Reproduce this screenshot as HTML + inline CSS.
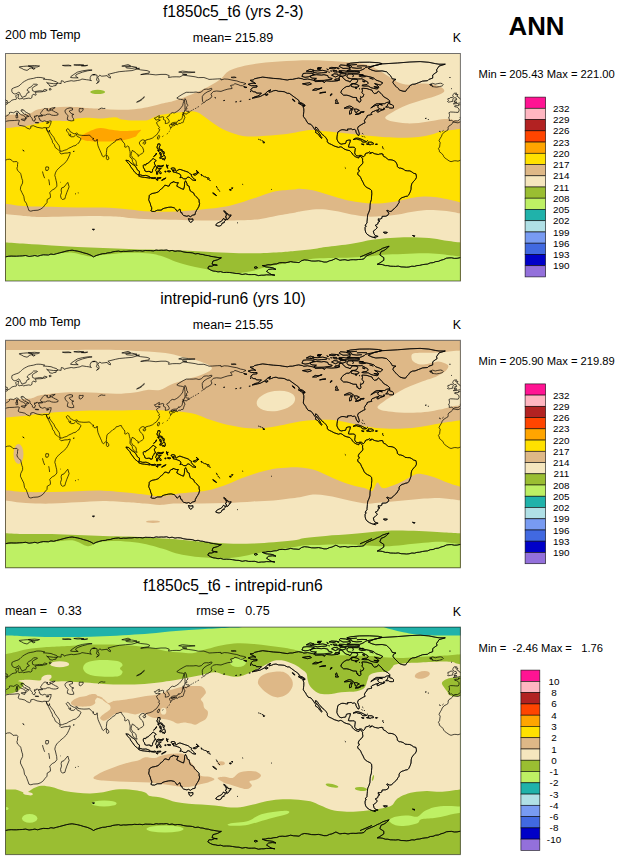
<!DOCTYPE html>
<html><head><meta charset="utf-8"><title>ANN 200 mb Temp</title>
<style>html,body{margin:0;padding:0;background:#fff}body{width:620px;height:861px;overflow:hidden}</style></head>
<body>
<svg width="620" height="861" viewBox="0 0 620 861" style="display:block">
<rect width="620" height="861" fill="#fff"/>
<defs>
<clipPath id="c0"><rect x="5.5" y="53.5" width="455" height="227.5"/></clipPath>
<clipPath id="c1"><rect x="5.5" y="340.3" width="455" height="227.5"/></clipPath>
<clipPath id="c2"><rect x="5.5" y="627.1" width="455" height="227.5"/></clipPath>
</defs>
<g clip-path="url(#c0)">
<rect x="5.5" y="53.5" width="455" height="227.5" fill="#F5E6BE"/>
<path d="M5.5 114.8C6.7 114.8 9.5 114.7 12.9 114.5C16.3 114.3 22.8 114.2 25.8 113.9C28.8 113.7 29.4 113.6 31 113C32.6 112.4 33.6 111 35.5 110.3C37.4 109.6 39.5 109.1 42.6 108.6C45.7 108.1 50.1 107.7 54.2 107.4C58.3 107.1 62.8 106.8 67.1 106.8C71.4 106.8 76.8 107.1 80 107.3C83.2 107.5 82.4 107.8 86.1 108.1C89.8 108.4 96.9 108.6 102.3 108.9C107.7 109.2 113 109.7 118.4 109.7C123.8 109.8 129.7 109.6 134.5 109.2C139.3 108.8 143.1 108.2 147.4 107.3C151.7 106.4 155.6 105.2 160.3 104C165 102.8 168.9 102.6 175.8 100.3C182.7 98 194.3 93.4 201.6 90C208.9 86.6 215.4 82.7 219.7 79.7C224 76.7 224.4 73.9 227.4 71.9C230.4 69.9 233.4 68.8 237.7 67.5C242 66.2 246.3 65.2 253.2 64.2C260.1 63.2 269.5 62.2 279 61.6C288.5 61 300.1 60.3 310 60.3C319.9 60.3 329.6 61 338.7 61.6C347.8 62.2 358.1 62.9 364.5 64.2C370.9 65.5 373.5 67.5 377.4 69.4C381.3 71.3 384.3 73.7 387.7 75.8C391.1 77.9 394.6 80.8 398 82.3C401.4 83.8 404.5 84.6 408.4 84.8C412.3 85 417 83.5 421.3 83.5C425.6 83.5 430.6 83.9 434.2 84.8C437.8 85.7 441.7 87.4 443.2 88.7C444.7 90 444.7 91.3 443.2 92.6C441.7 93.9 437.8 95.2 434.2 96.5C430.6 97.8 426 98.8 421.3 100.3C416.6 101.8 410.5 103.6 405.8 105.5C401.1 107.4 396.3 109.9 392.9 111.9C389.5 113.9 385.2 116.1 385.2 117.7C385.2 119.3 389.5 120.7 392.9 121.6C396.3 122.5 401.5 123.1 405.8 123.3C410.1 123.5 414.4 123.3 418.7 122.9C423 122.5 427.3 121.7 431.6 121C435.9 120.3 441.1 119.2 444.5 119C447.9 118.8 449.6 119.4 452.3 119.7C455 120 459.1 120.8 460.5 121L460.5 281 L5.5 281 Z" fill="#DEB887"/>
<path d="M5.5 128C6.7 127.9 9.5 127.7 12.9 127.4C16.3 127.1 21.9 126.7 25.8 126.1C29.7 125.5 33.3 124.4 36.1 123.8C38.9 123.2 40.5 122.8 42.6 122.3C44.8 121.8 46.4 121.3 49 121C51.6 120.7 54.5 120.7 58 120.7C61.5 120.7 66.9 121.4 70 121C73.1 120.6 73.3 119 76.5 118.5C79.7 118 85.1 117.7 89.4 117.7C93.7 117.7 98 118.6 102.3 118.5C106.6 118.4 112 117.1 115.2 117.3C118.4 117.5 118.4 118.9 121.6 119.4C124.8 119.9 130.2 120.4 134.5 120.5C138.8 120.6 144.2 120.7 147.4 120.2C150.6 119.7 151.3 118.2 153.9 117.3C156.5 116.3 158 115.4 162.9 114.5C167.8 113.6 177.9 112.3 183.5 111.9C189.1 111.5 192.6 110.8 196.5 111.9C200.4 113 202.9 115.8 206.8 118.4C210.7 121 215 124.8 219.7 127.4C224.4 130 230.5 132.4 235.2 133.9C239.9 135.4 242.9 136.2 248 136.5C253.1 136.8 259.5 136.1 266 135.7C272.5 135.3 279.5 134.8 286.8 133.9C294.1 133 303.5 130.4 310 130C316.5 129.6 318.9 130.7 325.8 131.3C332.7 132 343 133 351.6 133.9C360.2 134.8 370.5 135.9 377.4 136.5C384.3 137.1 388.2 137.3 392.9 137.5C397.6 137.7 401.5 137.8 405.8 137.7C410.1 137.6 414.4 137.6 418.7 137.1C423 136.6 427.7 135.5 431.6 134.5C435.5 133.5 438.4 132.1 441.9 131.3C445.3 130.6 449.2 130.4 452.3 130C455.4 129.6 459.1 128.9 460.5 128.7L460.5 281 L5.5 281 Z" fill="#FFE100"/>
<path d="M5.5 203.7C8.9 204.1 18.1 205.8 25.8 206.3C33.5 206.8 43 206.6 51.6 206.8C60.2 207 68.8 207.5 77.4 207.6C86 207.7 94.6 207.3 103.2 207.6C111.8 207.9 121.2 208.8 129 209.4C136.8 210.1 142.2 211.2 150 211.5C157.8 211.8 167.2 211.8 175.8 211.5C184.4 211.2 193 210.3 201.6 209.4C210.2 208.5 218.8 208.1 227.4 206.3C236 204.5 246.8 200.6 253.2 198.5C259.6 196.4 261.8 195.2 266.1 193.9C270.4 192.6 274.3 191.5 279 190.8C283.7 190.1 291 189.8 294.5 189.5C298 189.2 296.9 188.6 300 188.7C303.1 188.8 308.6 189.4 312.9 190.3C317.2 191.2 321.5 192.6 325.8 193.9C330.1 195.2 334.4 196.8 338.7 198C343 199.2 346.9 200.2 351.6 201.1C356.3 202 361.9 202.8 367.1 203.2C372.3 203.5 377.4 203.5 382.6 203.2C387.8 202.8 393.4 202 398.1 201.1C402.8 200.2 406.7 198.8 411 198C415.3 197.2 419.6 196.6 423.9 196.5C428.2 196.4 432.5 196.8 436.8 197.3C441.1 197.9 445.8 199 449.7 199.8C453.6 200.7 458.7 202 460.5 202.4L460.5 281 L5.5 281 Z" fill="#DEB887"/>
<path d="M5.5 214C8.9 214.3 20.3 215.6 25.8 216.1C31.3 216.6 32.2 217 38.7 217.1C45.2 217.2 55.9 216.8 64.5 216.6C73.1 216.4 81.7 216.1 90.3 216.1C98.9 216.1 109.6 216.3 116.1 216.6C122.5 216.9 123.3 217.5 129 217.9C134.7 218.3 142.2 218.9 150 219.2C157.8 219.5 167.2 219.5 175.8 219.7C184.4 219.9 193 220.4 201.6 220.5C210.2 220.6 218.8 220.6 227.4 220.5C236 220.4 246.8 220.1 253.2 219.7C259.6 219.3 261.8 218.6 266.1 217.9C270.4 217.2 274.3 216.2 279 215.3C283.7 214.4 291 213.3 294.5 212.7C298 212.1 296.9 212.1 300 211.5C303.1 210.9 308.6 209.8 312.9 209.4C317.2 209.1 321.5 209.1 325.8 209.4C330.1 209.8 334.4 210.7 338.7 211.5C343 212.3 346.9 213.7 351.6 214.5C356.3 215.3 361.9 216.3 367.1 216.6C372.3 216.9 377.4 216.4 382.6 216.1C387.8 215.8 393.4 215.2 398.1 214.5C402.8 213.8 406.7 212.7 411 212C415.3 211.3 419.6 210.5 423.9 210.2C428.2 209.9 432.5 210 436.8 210.2C441.1 210.4 445.8 210.9 449.7 211.5C453.6 212.1 458.7 213.2 460.5 213.5L460.5 281 L5.5 281 Z" fill="#F5E6BE"/>
<path d="M5.5 242.4C8.9 242.6 18.1 243.2 25.8 243.7C33.5 244.2 43 244.9 51.6 245.5C60.2 246.1 68.8 246.7 77.4 247.1C86 247.5 94.6 247.8 103.2 248.1C111.8 248.4 121.2 248.7 129 248.9C136.8 249.2 142.2 249.4 150 249.6C157.8 249.8 167.2 249.9 175.8 250.2C184.4 250.5 193 251.1 201.6 251.5C210.2 251.9 218.8 252.4 227.4 252.7C236 253 244.6 253.4 253.2 253.3C261.8 253.2 272.1 252.6 279 252.2C285.9 251.8 289.3 251.3 294.5 250.9C299.7 250.5 304.8 250.2 310 249.6C315.2 249 318.9 248.1 325.8 247.1C332.7 246.1 343.9 244.9 351.6 243.7C359.4 242.5 365.9 240.8 372.3 239.8C378.8 238.9 384.3 238.4 390.3 238C396.3 237.6 401.9 237.3 408.4 237.3C414.8 237.3 423 237.5 429 238C435 238.5 439.2 239.7 444.5 240.4C449.8 241.1 457.8 242.1 460.5 242.4L460.5 281 L5.5 281 Z" fill="#9ABE32"/>
<path d="M5.5 256.6C8.9 256.4 18.1 255.7 25.8 255.3C33.5 254.9 43.9 254.4 51.6 254C59.4 253.6 65.8 252.3 72.3 252.7C78.8 253.1 85.1 256.2 90.3 256.6C95.5 257 96.8 255.5 103.2 254.8C109.7 254.2 121.2 252.9 129 252.7C136.8 252.5 144.3 252.8 150 253.5C155.7 254.2 158.6 255.2 162.9 256.6C167.2 258 171.5 260.3 175.8 261.8C180.1 263.3 184.4 264.5 188.7 265.6C193 266.7 197.3 267.3 201.6 268.2C205.9 269.1 210.2 270.1 214.5 270.8C218.8 271.5 223.1 271.8 227.4 272.1C231.7 272.5 236 273.1 240.3 272.9C244.6 272.7 248.9 271.8 253.2 270.8C257.5 269.8 261.8 268 266.1 266.9C270.4 265.8 274.3 265.2 279 264.4C283.7 263.5 290.2 262.5 294.5 261.8C298.8 261.1 301.5 260.6 305 260C308.5 259.4 310.8 258.8 315.5 258.4C320.2 258 327.5 258.1 333.5 257.9C339.5 257.7 346 257.6 351.6 257.4C357.2 257.2 361.9 257 367.1 256.6C372.3 256.2 376.6 255.2 382.6 254.8C388.6 254.4 396.3 254.2 403.2 254C410.1 253.8 417.9 253.3 423.9 253.3C429.9 253.3 435.1 253.7 439.4 254C443.7 254.3 446.2 254.9 449.7 255.3C453.2 255.7 458.7 256.4 460.5 256.6L460.5 281 L5.5 281 Z" fill="#BEF064"/>
<path d="M80.5 137.1C81.3 135.4 87.7 132.1 91 130.6C94.3 129.1 97.1 128 100.6 127.9C104.1 127.8 108.1 129.3 111.9 129.8C115.7 130.3 119.4 131 123.2 131.1C127 131.2 131.5 130.8 134.5 130.6C137.5 130.4 140.5 129.2 141 129.8C141.5 130.4 138.8 132.7 137.7 133.9C136.6 135.1 136.9 136 134.5 137.1C132.1 138.2 127.2 139.6 123.2 140.3C119.2 141 114.6 141.3 110.3 141.5C106 141.7 101.4 141.6 97.4 141.5C93.4 141.4 88.9 141.5 86.1 140.8C83.3 140.1 79.7 138.8 80.5 137.1Z" fill="#FFA500"/>
<ellipse cx="97.7" cy="91.9" rx="7.5" ry="2.1" fill="#9ABE32"/>
<path d="M453 122L458 122.9L460.5 121.7M5.5 121.7L6.8 121.1L9.3 120.7L14.3 120.5L18.1 120.1L19.4 120.5L18.8 122.4L18.1 124.3L19.4 125.3L21.9 125.7L24.8 126.4L27 128.1L29.5 129L30.8 128.1L30.8 126.2L33.3 125.7L37.1 127.3L42.2 128.2L44 127.6L46.3 127.8L46.6 129.3L47.8 131.9L48.5 133.1L50.4 136.9L52.3 140.7L52.5 142.5L54.2 144.5L55.4 147.7L57.3 148.9L59.2 150.8L60.2 151.5L59.8 152.7L61.1 154L64.9 153.1L67.4 153L70.2 152.3L70 154L68.7 157.1L67.4 159.7L66.2 161.6L63.6 164.1L62.8 164.7L59.8 167.2L58 169.1L56.7 170.4L55.4 172.9L54.8 175.5L55.4 177.4L56.1 180.5L56.7 183L56.9 186.2L54.8 188.7L52.3 190L49.7 192.5L50.4 195.1L50.4 197.6L47.2 199.5L47 202.6L44.7 205.2L43.4 207.1L40.9 209L38 210.2L33.3 210.5L30.8 211.2L28.9 210.6L28.2 208.3L27 205.2L26.4 203.3L24.5 200.7L23.8 196.3L21.9 192.5L20.4 189.4L20.7 186.8L22.6 183L22.6 180.5L21.9 178.6L21 174.8L20.7 173.6L19.4 172.1L17.5 170.4L16.9 168.1L17.5 166.6L17.5 164.7L17.9 162.8L16.9 161.6L16.2 161.6L14.3 161.7L13.1 161.8L11.8 160.3L9.9 159.2L7.4 159.4L5.5 160.2L5.5 160.2M460.5 160.2L458 161.2L456.1 160.8L454.2 160.8L451 161.7L449.1 160.9L446.8 159.3L444.7 157.8L443.7 156.5L443.2 155.2L441.5 153.3L439.4 151.7L439.3 150.2L438.4 148.7L439.6 147L439.9 144.5L440.2 142.6L439 140.7L440.3 138.2L441.5 136.3L442.2 134.4L444.1 132.2L446.6 130.8L447.9 130L448.2 128.7L448.1 127.4L449.1 125.9L451 124.8L452.3 123.6L453 122M67.8 182.4L69.1 186.8L68.1 189.4L66.8 192.5L65.5 196.3L64.9 198.8L62.4 199.5L61.1 198.2L60.5 195.7L61.5 192.5L61.1 190L61.7 187.9L64 187.1L66.2 184.3L67.8 182.4M45.9 166.9L48.5 167L48.7 168.5L47.8 170.4L45.9 170.4L45.6 168.5L45.9 166.9M42.5 171.5L43 173.6L43.8 176.1L44.7 178.2M48.7 179.4L49.2 181.8L49.6 185.2M453.7 121.6L452.5 121.1L451.7 120.2L450.5 120.5L449.1 120.5L449.4 119.3L449.4 118.7L448.5 118.2L449.3 116.7L449.5 115.4L449.4 114.2L448.9 112.8L450.4 112L453.2 112.1L455.7 112.3L458.2 112.4L459 110.8L459 109.1L457.7 107.6L456.7 107.1L454.8 106.7L454.4 106.1L456.1 105.6L458 105.8L458.5 105.7L458.5 104.4L459.1 104.8L460.5 104.7M5.5 104.7L5.6 104.7L7.4 103.9L7.5 102.9L9.3 102.4L10.6 101.5L11.6 100.3L13.1 99.8L14.3 99.5L16.2 99.3L16.6 98.4L16 97.1L15.7 95.8L16.4 95.1L18.8 94.3L18.5 95.8L18.1 97.1L17.9 98L19.1 99L20.7 98.7L22.6 98.5L23.6 99.1L25.7 98.6L28.9 98.1L30.5 98.5L32 97.5L32 95.8L32.7 94.7L33.9 94.3L35.2 95.2L35.8 95.2L36.2 93.9L35.2 93.1L35.2 92.4L37.1 92L40.9 91.9L43.4 91.5L42.2 91L39.6 90.8L37.1 91.2L34.6 91.5L32.7 90.8L32.4 89.5L32.3 88.3L33.3 87L35.8 85.7L37.5 84.7L36.5 84.2L33.6 84.2L32.4 85.3L31.4 86.7L28.9 87.9L27.4 89.3L27.2 90.5L28.9 91.4L29.3 92.3L27 93.2L26.4 94.6L25.7 96.2L23.8 96.5L23.4 97.2L21.9 97.2L21.4 96.2L20.4 94.6L19.7 92.9L18.9 92L17.9 92.7L15.9 93.8L14.3 93.9L12.6 92.9L11.8 91.4L11.8 89.9L11.9 88.9L13.7 87.9L16.2 87L18.1 86.4L20 85.1L21.3 83.8L22.6 82.6L24.5 81.3L26.4 80.3L28.2 79.4L30.8 78.8L33.3 78.4L36.5 77.5L38.1 77.4L40.9 77.5L44.7 78.3L43.4 79.2L47.2 79.5L51 79.9L53.5 80.9L56.7 81.9L57.7 82.9L56.1 83.7L53.5 83.7L49.7 83.2L47.2 82.9L46.6 82.4L49.1 84.5L49.7 86L52.3 86.5L53.5 85.9L56.1 85.5L56.1 84.1L58.6 83.2L61.1 83.6L61.1 82.2L61.4 80.7L63.6 81.3L64.3 82.6L66.2 81.7L71.2 80.7L73.8 81.1L77.5 80.5L80.1 80L82 79L86.4 79.7L88.9 80L91.4 80.7L90.2 79.4L90.2 77.5L91.4 75.2L94 74.6L97.1 75.2L97.1 77.5L96.5 80L98.4 81.9L96.5 83.5L99 81.9L99 80L97.8 77.5L99.7 75.2L101.6 76.2L104.1 76L107.2 75.6L107.9 76.9L110.4 78.1L110.4 76.5L107.9 74.4L115.5 72.5L119.2 71.7L125.6 71.1L131.9 70.6L137.3 69L140.7 69.9L147.1 70.6L149.6 71.6L149 73.1L144.5 73.7L140.7 74.6L147.1 74.1L149.6 74.2L155.9 74.9L161 74.4L166 74.4L169.2 75.6L168.5 77.5L172.3 76.9L176.1 76.8L179.9 76.9L182.4 75.6L183.7 75.2L188.8 75.9L195.1 76.8L198.2 77.6L203.9 77.5L207.7 78.8L209 79.4L212.8 79.2L217.8 78.9L221 78.8L221 80L224.2 79L227.9 79.2L233 80.3L236.8 80.9L240.6 82.3L243.7 82.8L246 83.7L243.7 84.7L242.5 85.7L240.6 85.7L238.1 84.6L234.9 83.6L233.6 84.8L230.5 85.5L231.7 87.4L232.1 88.5L227.9 89.1L224.2 90.2L221 91.4L216.6 91L213.4 91.5L212.1 92.9L210.9 94.1L211.9 96.2L210.9 98L207.7 100L206.1 100.4L204.8 102.2L203.6 102.9L202.7 101.5L202.3 99L202.3 96.5L203.9 94.2L207.1 92L210 90.8L212.1 89.3L211.5 88.3L208.4 89.3L206.5 89.1L203.9 89.4L201.4 92L198.9 92.7L196.1 92L193.2 92.3L189.4 92.3L186.2 92.3L183.1 93.9L179.9 95.8L176.8 98L178.7 99L180.5 99.3L182.4 99.6L184.1 100.3L183.7 101.5L183.1 103.4L182.8 105.3L181.2 107.5L179.3 109.7L176.8 111.6L174.2 113L172.3 112.6L170.8 113.5L169.6 114.8L169.2 115.8L167.3 116.7L166.6 117.6L167.9 118.6L169 120.5L169.2 122L168.5 122.9L166.6 123.4L165.3 123.6L165.4 122L165.4 120.5L163.5 119.5L163.5 118.3L163.9 117.3L162.7 116.7L160.3 117.3L158.7 118.2L159.4 116.3L159.4 115.6L157.2 116.7L155.9 117.7L154.4 118L155.3 119.2L155.9 120.1L157.8 119.6L160.3 120.1L158.4 121.1L156.5 122.6L157.2 124.3L158.4 126.2L159.6 127.4L158.4 128.7L159.7 129.5L159.1 131.2L157.8 133.1L156.5 135L154.6 136.3L152.7 137.9L149.8 139.1L148.3 139.4L145.8 140.1L145.2 141.6L144.3 140.1L142.6 139.8L140.7 140.7L139.2 142.9L140.1 144.8L141.4 146.4L142.6 147.3L143.6 150.2L143.6 152.1L142 153.6L140.7 154.2L139.5 155.2L138 156.4L138.2 154.6L136.9 154L135.7 153.1L134.8 151.8L133.2 151.2L132.5 150.2L131.9 151.5L131.3 153.3L131 155.5L131.9 156.5L132.5 158.1L134.2 159L135.7 160.3L136.3 162.2L136.3 164.1L137.2 165.5L136.2 165.5L133.8 163.8L132.5 161.6L132.3 159.7L131.3 158.1L130 157.1L130 155.2L130.2 153.3L130 151.5L129.4 149.6L128.9 146.8L127.5 146L125.9 147.3L124.7 147L124.9 145.1L124.3 143.2L123 142L121.8 140.1L121.4 138.8L119.9 138.8L118 139.7L116.1 139.9L115.5 141.1L114.8 142L112.9 142.9L111.7 144.1L109.5 145.9L108.1 147L107 148L106.7 150.2L106.4 152.7L106.4 154.2L105.3 155.5L104.3 156L103.5 157L102.2 155.9L101.6 154L100.7 152.1L99.9 150.2L99 148.3L98 145.8L97.5 143.2L97.4 141.3L97.3 140.1L97.1 139.2L96.5 140.7L95.2 141L94 140.7L92.7 139.1L94 138.6L92.7 138.2L91.7 137.3L90.6 136.3L89.9 135.9L89.5 135.1L87 135.4L83.9 135.5L81.3 135.3L78.2 134.9L77.5 133.4L76.7 133L74.8 133.8L73.1 133.4L71.9 132.5L70.3 131.9L69.7 130.6L68.7 129.2L67.4 128.8L66.8 129.3L66.2 130L67.1 131.5L68.1 132.7L68.9 133.8L68.9 135L69.7 135.9L70 134.5L70.6 134.3L70.7 135.7L70.3 136.3L71.2 136.8L73.8 136.7L75.4 135.3L76.7 134L76.8 135.7L77.3 136.5L79.4 137.4L81.1 138.8L79.7 141.3L78.6 143.2L77.9 143.4L76.7 144.6L75 145.8L73.8 145.8L71.5 147L68.7 148.3L66.8 149.6L64.3 150.3L62.4 151.1L60.5 151.3L59.8 149.6L59.6 147.7L59.2 145.8L57.3 143.2L55 140.1L53.9 137.5L52.5 135.7L51 133.8L49.7 131.9L49.5 130L48.9 132.1L47.2 130.8L46.7 129.3L46.3 127.8L48.7 127.7L49.6 126.2L49.9 125.5L50.4 124.4L50.9 123L51 121.8L51.3 121L49.7 120.9L48.5 121.4L46.6 121.6L44.3 120.7L42.8 121.5L41.1 120.9L40 120.5L39.9 119.2L39 118.8L39.4 118L38.6 117.3L38.6 116.6L39.6 116.2L42.2 116.1L42.8 115.7L42.2 115.3L41.5 115.4L40.3 115.6L39.4 115.9L38.6 116.3L38.4 115.8L37.7 115.6L35.8 115.7L36.3 116.4L35.6 116.7L34.4 116.1L34.6 118L35.8 119L35.2 119.2L34.8 119.9L34.6 121.1L33.9 121.1L32.9 120.7L32.4 120.2L32.4 118.8L32 118.2L30.8 117.1L30 116.1L30 114.4L28.2 113.4L26.2 112.3L24.7 111.4L23.8 110L22.7 110.4L22.7 109.5L21 110L21.3 111.4L22.6 112.1L23.2 113.3L24.5 114.2L26 114.3L25.7 114.8L27 115.4L28.8 116.2L28.9 116.7L27 116.1L26.5 117.1L27.1 118L26.4 118.7L25.3 119.2L25.7 118L25.2 116.7L23.6 115.7L22.9 115.2L21.3 114.8L20.4 114.2L18.8 113L18.4 111.8L16.7 111.1L15 111.9L13.7 112.8L12.3 112.5L10.6 112.3L9.3 112.6L9.5 113.8L8.3 114.9L6.5 115.8L5.5 116.9M460.5 116.9L460.1 117.3L460.5 117.9M5.5 117.9L5.8 118.3L5.5 118.6M460.5 118.6L459.6 119.7L457.7 120.9L454.9 120.9L453.7 121.6M42.2 115.2L43.4 115.2L45.3 115.2L47.2 114.2L49.7 114.2L51.6 115.1L53.5 115.4L55.7 115.4L58 114.8L58.1 113.9L57.3 112.9L55.7 112.3L53.5 111.1L52.3 110.6L51.9 110L52.9 109.1L54.2 108.2L55.2 107.6L53.5 107.7L51.6 108.2L49.7 108.9L49.7 109.5L51.5 109.9L50.2 110.4L49.1 110.9L47.8 111L47.7 110.1L46.6 109.9L48 109L45.9 108.7L45.3 108.4L44.3 108.5L43.2 109.7L42.2 110.8L41.6 111.9L40.9 112.6L40.5 113.5L41.1 114.5L42.2 115.2M67.4 108.5L65.5 109.7L64.9 111L65.5 112.9L66.8 114.4L68.1 115.9L67.4 118L67.4 119.7L69.3 120.5L71.2 120.9L73.8 120.6L73.5 118.6L72.5 117.3L72.2 116.1L72.2 114.8L73.8 114.4L71.9 113.8L70 112.3L69.3 111L70.6 110.4L72.5 110L72.5 108.2L70 107.8L67.4 108.5M79.4 108.5L81.3 108.7L83.2 108.5L83 110.1L81.7 111.6L80.1 112.3L79.2 111.6L79.2 109.7L79.4 108.5M136.6 102.2L138.2 101.8L140.1 100.9L142 99.6L143.9 97.7L144.3 96.7L143.3 97.4L141.4 99.4L139.5 100.5L137.6 101.5L136.6 102.2M98.4 110L99.7 108.7L101.6 108.1L103.5 108.5L105.3 108.4M44 91.4L45.9 91L47.2 90.2L44.7 89.4L43.4 90.2L44 91.4M49.7 90.2L51.3 89.4L50.4 88.3L49.1 88.9L49.7 90.2M453.3 103.9L456.1 103.7L458.6 103.2L460.5 102.9M5.5 102.9L7.1 102.7L7.4 100.8L5.9 100.3L5.5 99.5L5.5 99.5M460.5 99.5L460.1 98.4L458.6 97.7L458 96.5L456.7 96.2L458 94.6L455.4 94.4L456.7 93.2L454.2 93.2L453.2 94.6L452.7 95.7L453.5 97.1L454.4 97.7L456.1 97.9L456.5 99L456.7 99.8L454.8 99.9L455.2 100.9L453.9 101.8L456.1 102.2L457 102.2L455.2 102.5L453.3 103.9M452.9 101.3L452.7 99.9L453.4 98.4L452.3 97.5L450.4 97.5L449.8 98.4L447.9 98.7L447.9 99.8L448.5 100.6L447.5 101.5L448.2 102.2L450.4 101.8L452.9 101.3M429.5 84.5L432.7 83.3L435.2 84.2L437.8 83.6L440.3 83.2L442.2 83.6L443.3 84.8L442.2 85.9L439.6 86.6L436.7 87.1L434.6 86.9L431.9 86.5L432.7 85.9L430.2 85.2L432.1 84.7L429.5 84.5M15.9 115.2L17.5 115.2L17.8 117.7L16.2 118L15.9 115.2M16.4 113L17.5 112.9L17.4 114.9L16.6 114.7L16.4 113M21.3 119.2L25.2 119L24.7 120.9L21.3 119.7L21.3 119.2M35.2 122.4L38.7 122.6L38.6 123L35.3 122.8L35.2 122.4M46.3 123L49.1 122.3L48.5 123.1L46.7 123.4L46.3 123M19.4 66.8L23.2 66.4L27 66.1L30.8 66.4L32.7 67.8L29.5 68.3L28.9 69.3L27 70.4L23.8 69.6L21.9 68.4L19.4 67.4L19.4 66.8M28.2 65.9L34.6 65.5L39.6 66L37.1 67L30.8 66.8L28.2 65.9M32 68L35.2 68.4L33.3 69.4L32 68M70.6 77.5L73.1 77.8L78.2 77.9L75.6 76.2L76.3 74.6L78.8 73.5L82.6 72.1L87.7 70.8L92.1 70.1L88.9 69.9L82.6 70.8L77.5 72.1L75 73.7L73.1 75L71.2 76.2L70.6 77.5M62.4 65.4L68.7 65.1L71.2 65.8L64.9 65.9L62.4 65.4M73.8 64.9L78.8 64.5L83.9 65.1L77.5 65.5L73.8 64.9M81.3 65.8L87.7 65.3L85.1 66L81.3 65.8M125.6 67.1L131.9 66.4L136.9 67.4L131.9 68.4L126.8 68L125.6 67.1M121.8 66.1L128.1 64.6L130.6 65.8L124.3 66.4L121.8 66.1M135.7 68.3L139.5 68.3L137.6 68.9L135.7 68.3M178.7 72.1L182.4 71.1L188.8 71.8L195.1 72.2L190 72.7L182.4 72.7L178.7 72.1M182.4 74L186.9 74.5L183.7 74.7L182.4 74M231.1 77.3L234.3 76.9L236.2 77.5L233 77.8L231.1 77.3M92.7 74.6L95.2 74.4L94 75L92.7 74.6M185 98.6L186.2 100.3L186.6 102.2L186.9 104.1L188.1 105.3L186.2 107.2L186.9 108.2L186.9 109.1L185 109.1L185 107.2L185 104.7L184.7 102.8L184.6 100.9L185 98.6M184.8 109.7L186.9 111.3L189.1 111.3L189.4 112.5L187.5 112.9L186.6 114.2L184.3 113.5L182.8 113.8L182.4 114.8L183.7 114.4L182.8 112.6L184.1 112.5L184.6 111L184.8 109.7M184.1 114.9L184.3 116.1L185 117.3L184.3 118.8L183.7 120.5L183.3 121.8L183.5 122.1L182.4 122.8L182.2 123L181.9 122.4L181.2 123L180.8 123.4L180.2 123.4L178.7 123.4L178.4 123.8L177.4 124.9L176.1 124.3L176.5 123.4L174.9 123.5L173 123.9L171.1 124.3L171.1 123.6L172.3 122.8L173.8 122.4L175.5 122.3L177.1 122.3L177.4 121.4L178.3 120.5L179 119.9L178.7 120.7L180.5 120L181.7 118.8L182.4 117.3L182.4 116.1L182.8 115.3L184.1 114.9M171.1 124.4L172 124.9L172.3 125.8L171.7 127.4L170.7 128.1L170.1 126.8L169.6 125.9L169.6 124.9L170.4 124.5L171.1 124.4M173 124.3L175.1 123.9L175.7 124.5L175.1 125.2L173.6 125.8L172.7 125.2L173 124.3M190.4 111.3L191.7 110.5M192.6 110L193.8 109.2M195.1 108.7L196.3 108M197.6 107.2L198.9 106.5M201.4 104.2L202.7 103.4M166.8 134.1L167.8 133.4M168.7 131.9L169.7 131.1M169.9 129.3L170.9 128.6M162.3 136.7L163.4 135.9M159.1 135.3L159.7 136.3L158.8 138.6L158.2 139.4L157.3 138.2L157.8 136.5L159.1 135.3M144.5 142L145.8 142.5L145.2 143.9L143.9 144.2L142.9 143.2L143.5 142.2L144.5 142M106.6 154.9L108.1 156.5L108.9 158.1L108.5 159.3L107.2 159.8L106.4 158.7L106.4 157.1L106.6 154.9M157.9 143.9L159.9 143.9L160.1 145.8L159.2 147L159.3 148.5L160.7 149.3L162.2 149.8L162.3 151.3L161 150.8L160.3 149.8L158.8 150.1L157.9 149.3L158.3 148.8L157.2 148.3L156.9 146.6L157.5 146.3L157.7 145.1L157.9 143.9M164.1 154.9L165.1 156.5L165.4 158.4L165 159.3L164.1 160.2L163.9 159L164.2 158.4L162.5 159.4L162 157.8L159.9 158.4L159.9 157.1L161.6 156.4L162.9 156.5L163.5 155.9L164.1 154.9M162.6 151.5L163.9 151.5L164.4 153.2L163.5 154.4L163.1 153L162.6 151.5M159.7 152.3L161 152.7L161.2 154L161.3 155.5L160.3 155.2L160.5 154L159.7 154L159.7 152.3M153.6 156.5L155.3 155.1L156.5 153L156.3 154.2L154.6 156L153.6 156.5M157.7 150.3L158.9 150.4L158.8 151.7L158.2 151.2L157.7 150.3M143.3 165.4L143.9 164.7L145.8 165.1L146.2 163.8L148.3 163.2L149.6 161.6L150.8 160.9L152.1 159.3L153.1 158.4L154.3 159.3L156.2 160.6L155.3 161.6L154.3 162.2L154.6 164.1L155.9 166L154.4 166.2L154 167.9L152.7 169.1L152.5 171L152.1 172.3L150.3 172.4L150.2 171.5L148.3 171.4L146.8 171.7L144.9 171L144.5 169.1L143.5 167.9L143.3 166.6L143.3 165.4M125.9 160.2L128.7 160.7L130.2 162.4L132.3 164.1L133.8 165L135.7 166.6L136.7 168.5L137.6 170.2L139.5 171.4L139.2 174.6L137.6 174.6L134.8 172.3L132.5 169.1L130.6 166.6L130 165L128.1 163.1L126.6 161.2L125.9 160.2M138.5 175.8L140.1 174.8L142.6 175.5L145.2 175.5L145.8 175.3L147.9 176L150.1 177L150.2 178.2L147.1 177.7L144.5 177.4L142 177.1L140.1 176.6L138.5 175.8M150.8 177.6L151.7 177.7L151.5 178.4L150.8 178L150.8 177.6M152.1 177.7L153 177.9L152.7 178.5L152.1 178.4L152.1 177.7M153.1 177.9L154.6 177.5L155.9 177.9L155.3 178.4L153.4 178.6L153.1 177.9M156.9 177.9L158.4 177.7L161 177.6L160.7 178.2L158.4 178.5L156.9 178.4L156.9 177.9M155.9 179.3L158.2 179.8L157.4 180.3L155.9 179.3M161.6 180.3L163.5 178.9L166 177.9L165.4 178.6L163.5 179.6L162.2 180.3L161.6 180.3M156.9 166.2L158.2 165.6L161 166.1L163.5 165.2L162.6 166.7L161 166.7L158.4 166.6L157.2 167.9L158.4 168.5L161.3 168.4L159.4 169.7L158.8 169.8L160.1 171.4L161 172.3L161 173.9L159.7 173.3L159.1 172.3L158.2 170.7L157.5 172.3L157.7 174.2L156.5 174.2L156.5 171.7L155.6 170.7L156.3 168.9L156.9 166.2M166.6 164.7L167.3 166L168.2 165.4L167.3 166.9L167.9 168.3L167 167.6L166.6 166.2L166.6 164.7M167.3 171L169.2 170.8L170.8 171.4L169.8 171.9L167.9 171.7L167.3 171M164.8 171.3L166 171.3L165.8 172.1L164.9 171.9L164.8 171.3M171.1 168.3L173 167.8L174.9 168.3L175.5 170.4L176.1 171.4L178 170L179.9 169.3L183.3 170.5L185.6 171.3L188.1 172.1L189.8 173.6L191.9 174.8L191.3 175.8L192.6 177.4L194.5 179.3L196 180.3L194.8 180.5L192.6 180L191.5 179.3L190 177.7L188.1 177L186.9 177.7L186.2 178.9L183.7 178.8L181.8 177.4L179.9 177.7L180.9 176.1L180.5 174.8L179.9 174.1L177.4 173.1L174.9 172.2L173.6 172.3L173.3 171L172.3 170.8L174.5 170.2L172.6 169.9L171.1 169L171.1 168.3M193.2 174.3L195.1 173.8L197 172.7L197.9 172.6L197.6 173.6L195.7 175L193.8 175.1L193.2 174.3M196.1 170.5L197.6 171.4L198.9 173.2L198.2 172.3L197 171.3L196.1 170.5M201 174.2L202.4 175.5L201.8 175.8L201 174.2M203.2 176.1L204.7 176.9M205.1 176.7L206.6 177.5M206.6 177.5L208.1 178.2M207.2 178.9L208.7 179.6M209.1 179.9L210.6 180.6M208 177.7L209.5 178.5M216.3 186.1L216.8 187.1M216.9 187.3L217.5 188.4M218 189.1L218.5 190.1M219.2 190.5L219.7 191.5M212.8 192.8L214.7 193.8L216.6 195.6L215.3 195.1L213.4 193.8L212.8 192.8M229.6 189.4L231.1 189.5L231.1 190.3L229.7 190.1L229.6 189.4M231.5 188.1L233 187.9L232.4 188.5L231.5 188.1M263.3 141.7L264.6 142.2L263.8 143.2L263.3 142.5L263.3 141.7M262.2 140.8L263.2 141.2M260.3 139.9L261.3 140.3M258.4 139.3L259.4 139.6M149.2 195.7L149.8 194.8L152.1 193.5L155.4 192.9L158.4 191.9L159.9 190L161.6 188.7L162.9 187.7L164.8 185.2L167 185.6L167.9 186.2L169.2 186L169.8 184.3L170.8 182.9L173 182.4L173 181.5L176.1 182.7L178.4 182.7L177.4 184.3L176.8 186.2L178.7 187.2L181.2 188.5L183.5 189.4L184.3 186.8L184.6 184.3L184.5 183L185.2 181.2L185.6 180.8L186.9 183.4L187.2 185.3L189.1 186.2L189.4 188.1L190.3 191L191.3 191.6L193.6 192.9L194.5 195.1L196.1 196.7L198.2 198.6L199.1 199.9L199.1 202L199.6 203.5L198.9 206.4L197.6 208.7L196.6 210.2L195.3 212.8L195.1 214.6L192.6 215.2L190.4 216.7L188.5 215.7L186.9 216.3L183.7 215.5L182.1 214L181.8 212.5L180.5 212.2L180.5 211.2L179.9 209L178.7 210L177.4 211.2L176.9 211.2L175.5 209L174.2 207.8L171.1 207.1L168.5 207.3L164.8 208.1L162.2 209L161.6 210.1L157.2 210.2L154.6 211.5L152.1 211.4L150.8 210.6L151.7 209.3L151.7 207.7L150.8 205.8L150.3 203.6L149.6 202L149 200.7L148.7 199.5L149 198.2L149.2 197L149.2 195.7M188.4 218.7L190.7 219.2L192.9 218.9L192.9 220.6L191.9 221.8L190.7 222.4L189.4 221.5L189 220.3L188.4 218.7M223.8 210.7L225.8 211.9L226.4 213.8L227.7 213.6L227.9 214.8L229.8 215.2L231.1 214.9L230.5 216.5L229.2 216.9L229.2 217.8L227.9 219.4L226.9 219.8L226.4 219.4L226.8 218.2L226.4 217.6L225.2 216.9L226.2 216.3L226.3 214.6L225.7 213.3L224.2 211.7L223.8 210.7M223.8 218.4L224.3 219.4L225.8 219.3L225.7 220.1L225 220.8L223.9 222L224.3 222.6L222 223.2L221.6 224.5L221.2 225.3L219.7 226L218.2 226.1L215.9 225.4L215.9 224.5L217.8 222.9L219.7 222L221.4 221.3L222.3 220.1L223.1 218.8L223.8 218.4M92.5 229.2L94.4 229.4L93.3 230.1L92.5 229.2M22.7 150.1L24.2 151.1M262.7 77.1L268.4 77.8L273.4 78.4L279.8 78.8L282.3 79.3L287.3 80L289.9 79.4L292.4 79.4L296.2 78.5L298.7 78.1L302.5 78.8L303.8 79.5L307.6 79L312.6 80L315.2 80.9L315.2 81.6L321.5 81.4L324 81.7L324 82.8L325.3 81.6L326.5 80.9L331.6 81.3L336.6 80.9L337.9 80.7L339.2 79.4L339.2 76.9L341.1 76.2L343 77.5L344.2 79.2L346.1 80.5L349.3 81.3L349.9 82.2L352.4 79L356.9 79.2L357.7 80.7L356.9 82.6L355 83.5L351.8 83.6L350.5 84.7L349.3 86.4L346.8 86.4L344.2 87.9L341.7 90.2L340.8 92.7L343.6 95.2L346.8 95.2L349.3 95.8L353.1 97.4L356.5 97.5L356.9 100.3L358.1 101.5L360 102.2L360.9 100.9L360.7 99L360 98.1L363.2 96.5L363.8 94.6L361.9 92.7L362.5 90.8L361.9 88.4L363.2 88.3L367 88.6L369.5 89.5L372 90.2L372.7 92L374.6 93.6L377.1 92.9L378.3 91L380.9 93.3L382.1 94.6L383.4 96.5L385.9 98L387.8 99L389.7 100.9L389.7 101.9L386.6 102.5L384.7 103.7L379.6 103.8L376.5 103.8L373.9 105.3L372 107L370.8 108L373.3 106.6L375.8 105.3L379 105.3L377.7 106.6L378.3 107.8L379 108.7L380.2 109.1L382.1 109.4L383.4 109.7L384.7 109.1L384 107.8L383.4 109.6L380.2 110.9L377.7 112.3L376.8 111.1L378.3 110.1L379 109.7L375.8 110.4L373.9 111.3L372 112L371.1 113.3L372 114.4L370.1 114.9L368.2 115.3L367 115.9L367 117.3L365.7 118.2L365.1 119.5L364.4 120.5L364.8 122L365.1 122.8L363.6 123.4L361.9 124.4L360 125.5L358.1 126.8L357.6 128.7L358.6 131.2L359.3 133.8L358.9 135.4L357.9 135.3L357.1 134.1L356 132.1L355.8 130.3L354.3 129.3L352.7 129.7L351.2 128.8L349.3 129L347.4 129.1L347.8 130.3L346.1 130.3L344.2 129.8L341.9 129.7L340.4 130.3L337.9 131.9L337.4 134.4L337 136.9L336.9 139.1L337.9 141.3L339 143L341.1 144.2L343.6 143.7L345.5 143.5L346.1 142L346.4 140.7L348.6 140.1L350.5 140.1L349.9 142.6L349.3 143.9L348.9 145.1L348.4 147L349.9 147.3L352.4 147.2L354.3 147.3L355.3 148.3L355 150.8L354.7 152.7L355 154L356.2 155.5L358.1 156.1L359.6 155.4L361.3 155.4L362.7 156.3L363.2 157.1L365.1 155.2L365.1 154L366 153.3L368.2 152.8L369.5 151.8L370.4 152.5L369.8 153.7L370.3 153.5L372 152.7L372 152L372.7 152.7L374.2 153.6L375.8 154L378.3 154.5L379.6 154L382.1 153.7L382.8 154.9L383.7 156.5L385.3 157.1L387.2 158.7L388.5 159.7L391 159.8L392.9 160.2L394.8 161.2L396 162.2L397.3 165L397.3 166.6L399.2 168.1L400.5 168.1L403.6 169.1L404.9 170.5L407.4 170.8L409.9 170.9L411.8 171.9L413.7 173.3L415.9 173.8L416.4 176.1L416.4 177.5L415.4 179.5L413.7 181.2L411.8 183.7L411.2 186.2L411 189.4L410.2 191.9L408.8 194.8L407.4 196.2L405.9 196.3L403.6 197.2L402 197.6L399.8 199.2L399.1 200.7L399.1 202.6L397.9 204.2L396.7 206.4L394.8 207.9L392.9 210L391.1 211.4L389.5 211.4L387.2 210.2L386.7 211L388.2 212.1L388.8 213.4L387.8 215.3L385.9 216.2L382.1 216.4L381.8 218.4L379.9 219.2L378.3 218.8L378.3 220.6L380 221L378.3 222L377.7 224.1L375.2 225.4L377.1 226.9L377.1 227.9L375.2 229.8L373.3 231.1L373.9 233.4L373.9 233.7L375.2 235.5L378.1 236.4L376.5 236.9L373.9 237.1L375.4 237.9L372 237L369.5 235.9L367 234.2L365.7 232.3L365.1 229.8L365.1 227.3L366.3 226L365.1 225.4L367 222.9L367 221.6L367.2 220.1L367.4 217.8L367.6 215.3L368 214L368.9 212.1L369.9 209L370.1 205.2L370.4 202.6L371.4 199.5L371.5 197L371.8 193.8L371.6 190.5L370.1 189.1L367.6 187.9L365.5 186.6L364.1 184.7L363.1 182.4L361.7 179.9L360.7 177.6L359.5 175.8L357.9 174.8L357.7 172.9L359 171.5L359.4 170.4L358.3 170L358.4 168.5L359.4 166.6L360.7 165.7L360.9 165L362.5 163.8L362.9 162.3L362.5 160.3L362.7 158.8L362 158.1L361.3 156.8L360 156L359 156.9L358.8 158L357.5 157.6L355.8 156.9L355 156.5L353.3 154.9L352.2 154L352.1 153.1L350.5 151.5L349.8 150.7L348 150.3L346.1 149.8L344 148.9L341.9 147.2L340.4 146.8L338.5 147.4L336 146.6L334.2 146L331.6 144.6L329.4 143.6L327.8 142.6L327.2 141.3L327.4 140.1L326 137.9L324 135.7L322.1 134.4L320.8 132.5L318.7 130.6L317.7 128.7L317 127.7L315.4 127.1L315.5 128.7L317.7 131.2L319.6 133.8L320.8 136.3L322.1 137.9L321.5 138.3L319.6 136.5L318.7 134.6L317 133.4L315.2 132.1L316.2 131.2L315.2 130L313.9 128.3L312.5 126.2L310.9 124.3L308.2 123.6L306.4 121L305.7 119.5L304 117.3L303.3 116.2L303.5 114.2L303.8 111.6L303.8 108.9L302.9 106.1L305 106L305 105.1L302.5 103.4L299.4 102.2L298.7 100.3L296.2 98.4L294.3 97.1L291.8 95.2L289.2 93.3L287.3 93.3L284.2 91.7L281 91.4L278.5 91.3L276 90.4L273.4 90.8L271.5 91.7L269 92.3L269 90.8L270.9 89.9L268.4 90.8L266.5 92.3L265.2 93.9L262.7 95.2L260.2 96.5L257.6 97.1L255.1 97.7L252.2 98.2L255.1 96.7L257.6 96.1L260.2 94.6L261.4 93.1L259.5 93.1L256.4 93.1L255.8 92L253.2 91.7L251.3 90.2L250.7 89.4L252 88.3L253.2 87.4L257 87L257 85.7L254.5 85.7L251.3 85.7L248.2 84.3L250.7 83.5L253.2 83.2L255.8 83.6L253.9 82.3L251.3 81.1L250.1 80.3L253.2 80L254.5 78.8L258.3 77.9L262.7 77.1M248.9 99.5L250.4 99.3M239.8 101.4L241.3 101.1M235.4 101.9L236.9 101.7M223.4 100.6L224.9 100.4M265.2 94.6L267.8 93.9L267.8 94.8L265.9 95.5L265.2 94.6M243.7 86.7L246.9 87.4L245.6 87.6L243.7 86.7M250.1 91L251.1 91.4L250.1 91.7M214.7 97.5L215.9 98M368.2 68.4L374.6 65.5L382.1 63.9L397.3 63L409.9 62L420.1 61.6L428.9 62.3L435.2 63.6L439 64.2L445.3 64.2L439 66.1L437.8 68L436.5 69.9L437.1 71.8L435.2 73.1L432.7 75L432.7 76.2L432.7 78.1L428.9 79.4L427.6 80.7L422.6 81.1L418.8 82.6L415 84.1L412.5 84.3L409.9 85.7L408.7 87.6L406.8 89.5L405.5 91.4L403 91.2L399.8 90.2L397.9 88.3L396 86.4L394.1 84.5L392.9 82.6L393.5 80.7L396 79.4L392.2 78.8L391.6 77.5L390.4 75.6L388.5 73.7L386.6 71.8L382.1 70.9L375.8 71.2L372 70.2L370.1 69.3L368.2 68.4M382.8 82.9L380.9 81.9L379.6 81.3L375.8 80L373.9 78.1L370.1 76.9L365.7 76L361.9 75.1L358.8 74.1L353.1 74L348 74.1L346.8 76.2L348 78.1L351.8 78.8L353.7 78.8L356.9 79L360.7 78.9L361.9 78.8L365.7 80.9L367.6 81.9L368.2 83.2L367 84.5L362.5 85.1L361.9 85.7L364.4 86.1L368.2 86L370.8 87.6L373.3 88.3L377.1 89L378.3 88L373.9 86.7L379 87.2L377.1 85.1L374.6 83.6L378.3 84.5L380.2 85.1L382.8 82.9M313.9 79.9L317.7 80.5L324 80.4L327.8 79.8L331.6 79.4L332.2 78.5L328.4 77.5L327.8 75.6L324 74.7L321.5 75.1L316.4 74.7L312 75.2L310.1 76.9L312 78.1L316.4 78.4L313.9 79.9M301.9 76.4L305 77.3L308.2 76.9L311.4 75.6L314.5 74.4L312 73.3L306.9 73.1L303.1 73.5L302.5 75.2L301.9 76.4M312.6 72.2L317.7 73.2L321.5 72.8L326.5 72.5L327.2 71.4L322.7 70.3L317.7 70.9L313.9 70.7L312.6 72.2M331.6 75.2L335.4 77L338.5 75.6L337.9 74.2L334.1 73.8L331.6 75.2M339.8 76.1L343 76.2L346.1 75L346.1 73.8L340.4 73.7L339.8 75L339.8 76.1M334.7 80L337.9 80.5L339.8 80L338.5 78.9L335.4 79L334.7 80M344.2 72.8L349.3 73.1L356.9 73.1L359.4 72.7L359.4 71.7L354.3 71.4L348 71.6L344.2 70.8L339.2 70.6L339.2 71.8L344.2 72.8M346.8 70.7L353.1 70.7L359.4 70.8L361.9 69.9L364.4 68.7L365.7 67.4L370.8 66.4L377.1 65.1L382.1 63.6L378.3 62.7L369.5 62.2L359.4 62.3L350.5 63.2L346.8 64.2L350.5 65.5L351.8 66.8L349.3 68L350.5 69.3L346.8 70.7M339.2 66.4L343 68.4L348.6 68.3L349.9 66.8L345.5 65.4L340.4 64.9L339.2 66.4M329.1 68.3L334.1 68.9L336.6 67.7L331.6 67.4L329.1 68.3M334.1 71.8L337.3 72.2L336.6 70.6L332.8 70.6L334.1 71.8M306.3 71.2L311.4 71.6L313.9 70.2L310.1 69.3L306.3 71.2M351.2 86.4L354.3 87.2L358.1 87L359.1 85.7L356.9 84.5L353.7 83.8L351.2 84.5L351.2 86.4M359.4 75L363.2 74.7L363.2 75.5L359.4 75M385.6 107.1L387.2 106L387.8 104.1L389.7 102.2L389.7 104.1L392.2 104.7L393.5 106L393.5 107.8L392.2 108.1L389.7 108L388.5 107.1L385.6 107.1M379 104.2L382.1 104.8L382.4 105.2L379 104.2M298.3 103L302.5 104.1L304.4 106L303.8 106L301.2 104.9L298.3 103M292.4 99L294.3 100.3L294.9 101.5L293 100.3L292.4 99M338.5 72L341.7 71.7L342.3 72.6L339.2 72.6L338.5 72M336.9 67.9L339.2 68.2L338.5 68.9L336.9 67.9M317 68.8L320.8 68.8L319.6 69.6L317 68.8M317.7 67.8L321.5 67.7L320.8 68.3L317.7 67.8M326.8 69L328.4 69.7L327.8 69.9L326.8 69M328.4 72L329.7 72.3M362.5 81.1L365.1 81.4L364.4 82.1L362.5 81.1M355 87.8L356.9 87.9L356.5 88.5L355 87.8M359 88.4L360 89.3M357.1 100L358.4 100.5M360 96L360.7 96.6M356.9 66.1L361.9 65.8L367 66M351.8 67.7L356.9 68.3L361.9 67.9M346.8 65.3L351.8 64.9L356.9 64.5M352.4 74.1L353.4 75.6L352.7 77.1M358.8 76L361.9 76.9L365.7 76.6M369.5 78.1L372 78.8L373.3 79.4M310.1 71.3L312 71.8M330.3 70.8L332.2 71.2M344.2 108.2L346.8 106.8L349.3 106L351.8 106.6L353.3 108.1L351.2 108.5L349.3 107.8L346.1 108.2L344.2 108.2M349.5 114.2L351.4 113.5L351.4 111.6L352.4 109.4L350.5 109.7L349.5 111.6L349.5 114.2M353.7 109.1L356.9 109.1L359.4 110.4L357.5 111L356.5 112.8L355 111.9L355 110.4L353.7 109.1M355.2 114.5L358.1 114.4L360.7 113.2L358.8 113.4L356.2 114L355.2 114.5M359.8 112.5L363.8 112.3L364.1 111.5L360.7 111.9L359.8 112.5M302.5 83.8L307.6 85.1L311.4 84.1L310.1 82.7L306.3 83.2L302.5 83.8M312.6 90.2L316.4 90.2L320.2 88.3L322.1 87.9L318.9 89.1L315.2 88.6L312.6 90.2M319.6 93.1L322.7 92.3L325.9 92.2L322.7 92.7L319.6 93.1M330.3 95.8L332.2 94.2L331 93.9L330.3 95.8M335.4 103.4L338.5 103.4L337.3 101.5L336.6 99.3L335.4 100.3L336 101.9L335.4 103.4M353.1 139.6L355.6 138.2L358.1 138.1L360.7 138.9L363.2 140.1L365.1 141.1L366.7 141.7L365.1 142.1L362.5 142.1L361.9 141.1L360.7 140.1L357.5 139.4L356.9 138.9L355 139.2L353.1 139.6M366.5 144L368.2 144.2L368.9 143.7L367.9 142.2L369.5 142.1L372 142.2L373.9 143.6L373.3 144.1L371.4 144.2L370.1 144.9L368.9 144.4L366.5 144M361.5 144L364.1 144.4L363.2 144.8L361.5 144M375.6 144L377.5 144.1L377.1 144.5L375.6 144.5L375.6 144M361.8 135.9L362.5 136.7M362.4 133.4L363.2 134.1M364.1 136.5L364.8 137.3M367.2 140.3L368 141.1M382.6 153.7L383.4 154.5M382.4 147.4L383.1 148.2M383 148.4L383.8 149.2M382.4 146.4L383.1 147.2M383.4 232.2L385.9 232.1L387.4 232.5L385.9 233.4L384 233L383.4 232.2M412.5 235.5L415 235.9L414.4 236.5L412.5 235.5M344.9 167.6L345.7 168.3M425.1 118.5L426.4 118.3M427.9 119.5L428.6 119.5M439.3 131.5L440 131.2M440.5 131.9L441 131.9M442.6 131.2L443.3 130.6M77.9 192.8L78.4 192.9M75.4 193.8L76 194M60.2 182L60.5 182.3M73.1 151.5L74.3 151.3M449.5 77.5L450.4 77.5M451.4 88.6L452 88.9M242.4 184.3L243.1 184.6M237 222.6L237.7 222.9M271.3 189.4L271.9 189.6M5.5 256.9L8.2 256.3L11.2 256.1L13.9 256.2L16.4 256.2L19.4 256L22.3 255.9L25.6 255.5L29 256.4L32.3 256L34.8 255.5L37.7 256.2L40.4 255.4L43.3 254.8L45.9 254.9L48.4 255L50.9 254.1L53.7 254.5L56.5 253.7L59.6 252.9L63 252L66.3 251.1L69.4 250.5L72.1 250.2L74.5 250.6L77.4 251.1L80.7 251.9L83.8 252.9L87.1 253.7L91 255.3L93.5 256.9L96 255.6L100 254.4L102.6 253.7L105.3 253.6L107.6 252.9L110.3 252.7L112.9 251.8L115.7 251.4L118.6 251.1L120.9 251.7L123.4 251.3L126 251.4L129 251.1L131.9 251.1L134.6 250.7L137.2 250.9L139.8 250.7L142.7 251.1L145.2 250.5L147.9 250.6L150.3 250.6L153.3 250.9L156.1 250.1L158.5 250.4L161.3 250.2L163.8 250.3L166.6 250L169.3 250.9L172.1 250.4L175 251.3L177.6 250.9L180.6 251.1L183.8 252L187.1 252.5L190 252.6L192.5 252.9L195.2 253.9L198.1 253.5L200.5 254.3L202.9 254.5L205.6 255.3L208.4 255.6L211 256.4L213.3 256.7L216.1 257.2L219.1 257.7L221.4 257.8L217.3 259.9L213 261L212 264.1L214.7 264.8L217.3 265.2L214.6 265L211.9 266.2L208.9 266.2L207.8 268.3L210.6 270L213 271L215.6 271.3L218 271.9L220.6 271.6L223.5 272.5L226.5 272.4L229.7 272.5L232.6 272.9L236.1 273.5L239 273.6L242.1 274.5L245.6 273.9L248.7 274.6L251.7 274.6L254.9 274.5L258.4 275.6L261.3 275.2L264 275.2L266.5 274.8L269.4 274.9L272.4 274.8L274.9 275.2L272 274.8L269.7 273.5L266.5 271.4L268.6 269.4L272.3 269L276 269.4L272.9 267.8L269.7 267.3L266 267L262.3 265.6L265.4 265.4L268 264.7L270.8 264.8L273.9 264.1L276.7 263.9L279.3 262.8L282.2 262.6L285.2 262.8L288 262.3L290.6 261.6L293.6 262.2L296 262.3L299 262.6L301.6 260.7L304.3 259.9L307.7 260.2L311.6 261L315 261.1L318.6 260.8L321.6 261.4L324 262.1L326.9 262L329.5 260.8L331.9 260.3L335.9 258.4L339.9 260.3L342.4 259.9L345 259.7L348 260.4L350.7 259.8L353.2 259.7L356 259.8L358.3 259.5L361.5 259.4L363.9 258.9L366.5 255.8L369.3 254.7L371.8 253.6L374.3 252.6L377.2 251L379.7 250L382.5 248.3L386.1 247.1L389.1 246.2L386.5 248.8L383.8 250.6L381.2 251.5L379.8 255L383.8 257.6L383.8 260.3L379.8 262.9L377.2 264.3L380 264.3L382.3 264.6L385.4 265.6L387.8 265.6L390.2 266.2L393.4 266.3L395.7 266.4L398.2 266.1L401.1 266.9L404 267L406.4 267.2L409 267L411.9 266.2L414.4 266.4L416.9 265.6L419.6 265.4L422.3 264.7L425.1 264.3L427.5 264.1L430.3 262.9L433.1 262.7L435.7 261.6L438.3 261.4L441 260.2L443.7 259.5L446.4 258.2L449 257.9L451.6 257.8L454.3 258.4L457.1 258.3L460.5 257.6M254 267.5L256 266.6L257.5 267.6L255.5 268.4L254 267.5M360 257L366 254.5L372 251.8M157.9 143.9L159.9 143.9L160.1 145.8L159.2 147L159.3 148.5L160.7 149.3L162.2 149.8L162.3 151.3L161 150.8L160.3 149.8L158.8 150.1L157.9 149.3L158.3 148.8L157.2 148.3L156.9 146.6L157.5 146.3L157.7 145.1L157.9 143.9M164.1 154.9L165.1 156.5L165.4 158.4L165 159.3L164.1 160.2L163.9 159L164.2 158.4L162.5 159.4L162 157.8L159.9 158.4L159.9 157.1L161.6 156.4L162.9 156.5L163.5 155.9L164.1 154.9M162.6 151.5L163.9 151.5L164.4 153.2L163.5 154.4L163.1 153L162.6 151.5M159.7 152.3L161 152.7L161.2 154L161.3 155.5L160.3 155.2L160.5 154L159.7 154L159.7 152.3M153.6 156.5L155.3 155.1L156.5 153L156.3 154.2L154.6 156L153.6 156.5M157.7 150.3L158.9 150.4L158.8 151.7L158.2 151.2L157.7 150.3M143.3 165.4L143.9 164.7L145.8 165.1L146.2 163.8L148.3 163.2L149.6 161.6L150.8 160.9L152.1 159.3L153.1 158.4L154.3 159.3L156.2 160.6L155.3 161.6L154.3 162.2L154.6 164.1L155.9 166L154.4 166.2L154 167.9L152.7 169.1L152.5 171L152.1 172.3L150.3 172.4L150.2 171.5L148.3 171.4L146.8 171.7L144.9 171L144.5 169.1L143.5 167.9L143.3 166.6L143.3 165.4M125.9 160.2L128.7 160.7L130.2 162.4L132.3 164.1L133.8 165L135.7 166.6L136.7 168.5L137.6 170.2L139.5 171.4L139.2 174.6L137.6 174.6L134.8 172.3L132.5 169.1L130.6 166.6L130 165L128.1 163.1L126.6 161.2L125.9 160.2M138.5 175.8L140.1 174.8L142.6 175.5L145.2 175.5L145.8 175.3L147.9 176L150.1 177L150.2 178.2L147.1 177.7L144.5 177.4L142 177.1L140.1 176.6L138.5 175.8M150.8 177.6L151.7 177.7L151.5 178.4L150.8 178L150.8 177.6M152.1 177.7L153 177.9L152.7 178.5L152.1 178.4L152.1 177.7M153.1 177.9L154.6 177.5L155.9 177.9L155.3 178.4L153.4 178.6L153.1 177.9M156.9 177.9L158.4 177.7L161 177.6L160.7 178.2L158.4 178.5L156.9 178.4L156.9 177.9M155.9 179.3L158.2 179.8L157.4 180.3L155.9 179.3M161.6 180.3L163.5 178.9L166 177.9L165.4 178.6L163.5 179.6L162.2 180.3L161.6 180.3M156.9 166.2L158.2 165.6L161 166.1L163.5 165.2L162.6 166.7L161 166.7L158.4 166.6L157.2 167.9L158.4 168.5L161.3 168.4L159.4 169.7L158.8 169.8L160.1 171.4L161 172.3L161 173.9L159.7 173.3L159.1 172.3L158.2 170.7L157.5 172.3L157.7 174.2L156.5 174.2L156.5 171.7L155.6 170.7L156.3 168.9L156.9 166.2M166.6 164.7L167.3 166L168.2 165.4L167.3 166.9L167.9 168.3L167 167.6L166.6 166.2L166.6 164.7M167.3 171L169.2 170.8L170.8 171.4L169.8 171.9L167.9 171.7L167.3 171M164.8 171.3L166 171.3L165.8 172.1L164.9 171.9L164.8 171.3M171.1 168.3L173 167.8L174.9 168.3L175.5 170.4L176.1 171.4L178 170L179.9 169.3L183.3 170.5L185.6 171.3L188.1 172.1L189.8 173.6L191.9 174.8L191.3 175.8L192.6 177.4L194.5 179.3L196 180.3L194.8 180.5L192.6 180L191.5 179.3L190 177.7L188.1 177L186.9 177.7L186.2 178.9L183.7 178.8L181.8 177.4L179.9 177.7L180.9 176.1L180.5 174.8L179.9 174.1L177.4 173.1L174.9 172.2L173.6 172.3L173.3 171L172.3 170.8L174.5 170.2L172.6 169.9L171.1 169L171.1 168.3M193.2 174.3L195.1 173.8L197 172.7L197.9 172.6L197.6 173.6L195.7 175L193.8 175.1L193.2 174.3M196.1 170.5L197.6 171.4L198.9 173.2L198.2 172.3L197 171.3L196.1 170.5M201 174.2L202.4 175.5L201.8 175.8L201 174.2M203.2 176.1L204.7 176.9M205.1 176.7L206.6 177.5M206.6 177.5L208.1 178.2M207.2 178.9L208.7 179.6M209.1 179.9L210.6 180.6M208 177.7L209.5 178.5M216.3 186.1L216.8 187.1M216.9 187.3L217.5 188.4M218 189.1L218.5 190.1M219.2 190.5L219.7 191.5M212.8 192.8L214.7 193.8L216.6 195.6L215.3 195.1L213.4 193.8L212.8 192.8M229.6 189.4L231.1 189.5L231.1 190.3L229.7 190.1L229.6 189.4M231.5 188.1L233 187.9L232.4 188.5L231.5 188.1M263.3 141.7L264.6 142.2L263.8 143.2L263.3 142.5L263.3 141.7M262.2 140.8L263.2 141.2M260.3 139.9L261.3 140.3M258.4 139.3L259.4 139.6M149.2 195.7L149.8 194.8L152.1 193.5L155.4 192.9L158.4 191.9L159.9 190L161.6 188.7L162.9 187.7L164.8 185.2L167 185.6L167.9 186.2L169.2 186L169.8 184.3L170.8 182.9L173 182.4L173 181.5L176.1 182.7L178.4 182.7L177.4 184.3L176.8 186.2L178.7 187.2L181.2 188.5L183.5 189.4L184.3 186.8L184.6 184.3L184.5 183L185.2 181.2L185.6 180.8L186.9 183.4L187.2 185.3L189.1 186.2L189.4 188.1L190.3 191L191.3 191.6L193.6 192.9L194.5 195.1L196.1 196.7L198.2 198.6L199.1 199.9L199.1 202L199.6 203.5L198.9 206.4L197.6 208.7L196.6 210.2L195.3 212.8L195.1 214.6L192.6 215.2L190.4 216.7L188.5 215.7L186.9 216.3L183.7 215.5L182.1 214L181.8 212.5L180.5 212.2L180.5 211.2L179.9 209L178.7 210L177.4 211.2L176.9 211.2L175.5 209L174.2 207.8L171.1 207.1L168.5 207.3L164.8 208.1L162.2 209L161.6 210.1L157.2 210.2L154.6 211.5L152.1 211.4L150.8 210.6L151.7 209.3L151.7 207.7L150.8 205.8L150.3 203.6L149.6 202L149 200.7L148.7 199.5L149 198.2L149.2 197L149.2 195.7M188.4 218.7L190.7 219.2L192.9 218.9L192.9 220.6L191.9 221.8L190.7 222.4L189.4 221.5L189 220.3L188.4 218.7M223.8 210.7L225.8 211.9L226.4 213.8L227.7 213.6L227.9 214.8L229.8 215.2L231.1 214.9L230.5 216.5L229.2 216.9L229.2 217.8L227.9 219.4L226.9 219.8L226.4 219.4L226.8 218.2L226.4 217.6L225.2 216.9L226.2 216.3L226.3 214.6L225.7 213.3L224.2 211.7L223.8 210.7M223.8 218.4L224.3 219.4L225.8 219.3L225.7 220.1L225 220.8L223.9 222L224.3 222.6L222 223.2L221.6 224.5L221.2 225.3L219.7 226L218.2 226.1L215.9 225.4L215.9 224.5L217.8 222.9L219.7 222L221.4 221.3L222.3 220.1L223.1 218.8L223.8 218.4M92.5 229.2L94.4 229.4L93.3 230.1L92.5 229.2M22.7 150.1L24.2 151.1M262.7 77.1L268.4 77.8L273.4 78.4L279.8 78.8L282.3 79.3L287.3 80L289.9 79.4L292.4 79.4L296.2 78.5L298.7 78.1L302.5 78.8L303.8 79.5L307.6 79L312.6 80L315.2 80.9L315.2 81.6L321.5 81.4L324 81.7L324 82.8L325.3 81.6L326.5 80.9L331.6 81.3L336.6 80.9L337.9 80.7L339.2 79.4L339.2 76.9L341.1 76.2L343 77.5L344.2 79.2L346.1 80.5L349.3 81.3L349.9 82.2L352.4 79L356.9 79.2L357.7 80.7L356.9 82.6L355 83.5L351.8 83.6L350.5 84.7L349.3 86.4L346.8 86.4L344.2 87.9L341.7 90.2L340.8 92.7L343.6 95.2L346.8 95.2L349.3 95.8L353.1 97.4L356.5 97.5L356.9 100.3L358.1 101.5L360 102.2L360.9 100.9L360.7 99L360 98.1L363.2 96.5L363.8 94.6L361.9 92.7L362.5 90.8L361.9 88.4L363.2 88.3L367 88.6L369.5 89.5L372 90.2L372.7 92L374.6 93.6L377.1 92.9L378.3 91L380.9 93.3L382.1 94.6L383.4 96.5L385.9 98L387.8 99L389.7 100.9L389.7 101.9L386.6 102.5L384.7 103.7L379.6 103.8L376.5 103.8L373.9 105.3L372 107L370.8 108L373.3 106.6L375.8 105.3L379 105.3L377.7 106.6L378.3 107.8L379 108.7L380.2 109.1L382.1 109.4L383.4 109.7L384.7 109.1L384 107.8L383.4 109.6L380.2 110.9L377.7 112.3L376.8 111.1L378.3 110.1L379 109.7L375.8 110.4L373.9 111.3L372 112L371.1 113.3L372 114.4L370.1 114.9L368.2 115.3L367 115.9L367 117.3L365.7 118.2L365.1 119.5L364.4 120.5L364.8 122L365.1 122.8L363.6 123.4L361.9 124.4L360 125.5L358.1 126.8L357.6 128.7L358.6 131.2L359.3 133.8L358.9 135.4L357.9 135.3L357.1 134.1L356 132.1L355.8 130.3L354.3 129.3L352.7 129.7L351.2 128.8L349.3 129L347.4 129.1L347.8 130.3L346.1 130.3L344.2 129.8L341.9 129.7L340.4 130.3L337.9 131.9L337.4 134.4L337 136.9L336.9 139.1L337.9 141.3L339 143L341.1 144.2L343.6 143.7L345.5 143.5L346.1 142L346.4 140.7L348.6 140.1L350.5 140.1L349.9 142.6L349.3 143.9L348.9 145.1L348.4 147L349.9 147.3L352.4 147.2L354.3 147.3L355.3 148.3L355 150.8L354.7 152.7L355 154L356.2 155.5L358.1 156.1L359.6 155.4L361.3 155.4L362.7 156.3L363.2 157.1L365.1 155.2L365.1 154L366 153.3L368.2 152.8L369.5 151.8L370.4 152.5L369.8 153.7L370.3 153.5L372 152.7L372 152L372.7 152.7L374.2 153.6L375.8 154L378.3 154.5L379.6 154L382.1 153.7L382.8 154.9L383.7 156.5L385.3 157.1L387.2 158.7L388.5 159.7L391 159.8L392.9 160.2L394.8 161.2L396 162.2L397.3 165L397.3 166.6L399.2 168.1L400.5 168.1L403.6 169.1L404.9 170.5L407.4 170.8L409.9 170.9L411.8 171.9L413.7 173.3L415.9 173.8L416.4 176.1L416.4 177.5L415.4 179.5L413.7 181.2L411.8 183.7L411.2 186.2L411 189.4L410.2 191.9L408.8 194.8L407.4 196.2L405.9 196.3L403.6 197.2L402 197.6L399.8 199.2L399.1 200.7L399.1 202.6L397.9 204.2L396.7 206.4L394.8 207.9L392.9 210L391.1 211.4L389.5 211.4L387.2 210.2L386.7 211L388.2 212.1L388.8 213.4L387.8 215.3L385.9 216.2L382.1 216.4L381.8 218.4L379.9 219.2L378.3 218.8L378.3 220.6L380 221L378.3 222L377.7 224.1L375.2 225.4L377.1 226.9L377.1 227.9L375.2 229.8L373.3 231.1L373.9 233.4L373.9 233.7L375.2 235.5L378.1 236.4L376.5 236.9L373.9 237.1L375.4 237.9L372 237L369.5 235.9L367 234.2L365.7 232.3L365.1 229.8L365.1 227.3L366.3 226L365.1 225.4L367 222.9L367 221.6L367.2 220.1L367.4 217.8L367.6 215.3L368 214L368.9 212.1L369.9 209L370.1 205.2L370.4 202.6L371.4 199.5L371.5 197L371.8 193.8L371.6 190.5L370.1 189.1L367.6 187.9L365.5 186.6L364.1 184.7L363.1 182.4L361.7 179.9L360.7 177.6L359.5 175.8L357.9 174.8L357.7 172.9L359 171.5L359.4 170.4L358.3 170L358.4 168.5L359.4 166.6L360.7 165.7L360.9 165L362.5 163.8L362.9 162.3L362.5 160.3L362.7 158.8L362 158.1L361.3 156.8L360 156L359 156.9L358.8 158L357.5 157.6L355.8 156.9L355 156.5L353.3 154.9L352.2 154L352.1 153.1L350.5 151.5L349.8 150.7L348 150.3L346.1 149.8L344 148.9L341.9 147.2L340.4 146.8L338.5 147.4L336 146.6L334.2 146L331.6 144.6L329.4 143.6L327.8 142.6L327.2 141.3L327.4 140.1L326 137.9L324 135.7L322.1 134.4L320.8 132.5L318.7 130.6L317.7 128.7L317 127.7L315.4 127.1L315.5 128.7L317.7 131.2L319.6 133.8L320.8 136.3L322.1 137.9L321.5 138.3L319.6 136.5L318.7 134.6L317 133.4L315.2 132.1L316.2 131.2L315.2 130L313.9 128.3L312.5 126.2L310.9 124.3L308.2 123.6L306.4 121L305.7 119.5L304 117.3L303.3 116.2L303.5 114.2L303.8 111.6L303.8 108.9L302.9 106.1L305 106L305 105.1L302.5 103.4L299.4 102.2L298.7 100.3L296.2 98.4L294.3 97.1L291.8 95.2L289.2 93.3L287.3 93.3L284.2 91.7L281 91.4L278.5 91.3L276 90.4L273.4 90.8L271.5 91.7L269 92.3L269 90.8L270.9 89.9L268.4 90.8L266.5 92.3L265.2 93.9L262.7 95.2L260.2 96.5L257.6 97.1L255.1 97.7L252.2 98.2L255.1 96.7L257.6 96.1L260.2 94.6L261.4 93.1L259.5 93.1L256.4 93.1L255.8 92L253.2 91.7L251.3 90.2L250.7 89.4L252 88.3L253.2 87.4L257 87L257 85.7L254.5 85.7L251.3 85.7L248.2 84.3L250.7 83.5L253.2 83.2L255.8 83.6L253.9 82.3L251.3 81.1L250.1 80.3L253.2 80L254.5 78.8L258.3 77.9L262.7 77.1M248.9 99.5L250.4 99.3M239.8 101.4L241.3 101.1M235.4 101.9L236.9 101.7M223.4 100.6L224.9 100.4M265.2 94.6L267.8 93.9L267.8 94.8L265.9 95.5L265.2 94.6M243.7 86.7L246.9 87.4L245.6 87.6L243.7 86.7M250.1 91L251.1 91.4L250.1 91.7M214.7 97.5L215.9 98M368.2 68.4L374.6 65.5L382.1 63.9L397.3 63L409.9 62L420.1 61.6L428.9 62.3L435.2 63.6L439 64.2L445.3 64.2L439 66.1L437.8 68L436.5 69.9L437.1 71.8L435.2 73.1L432.7 75L432.7 76.2L432.7 78.1L428.9 79.4L427.6 80.7L422.6 81.1L418.8 82.6L415 84.1L412.5 84.3L409.9 85.7L408.7 87.6L406.8 89.5L405.5 91.4L403 91.2L399.8 90.2L397.9 88.3L396 86.4L394.1 84.5L392.9 82.6L393.5 80.7L396 79.4L392.2 78.8L391.6 77.5L390.4 75.6L388.5 73.7L386.6 71.8L382.1 70.9L375.8 71.2L372 70.2L370.1 69.3L368.2 68.4M382.8 82.9L380.9 81.9L379.6 81.3L375.8 80L373.9 78.1L370.1 76.9L365.7 76L361.9 75.1L358.8 74.1L353.1 74L348 74.1L346.8 76.2L348 78.1L351.8 78.8L353.7 78.8L356.9 79L360.7 78.9L361.9 78.8L365.7 80.9L367.6 81.9L368.2 83.2L367 84.5L362.5 85.1L361.9 85.7L364.4 86.1L368.2 86L370.8 87.6L373.3 88.3L377.1 89L378.3 88L373.9 86.7L379 87.2L377.1 85.1L374.6 83.6L378.3 84.5L380.2 85.1L382.8 82.9M313.9 79.9L317.7 80.5L324 80.4L327.8 79.8L331.6 79.4L332.2 78.5L328.4 77.5L327.8 75.6L324 74.7L321.5 75.1L316.4 74.7L312 75.2L310.1 76.9L312 78.1L316.4 78.4L313.9 79.9M301.9 76.4L305 77.3L308.2 76.9L311.4 75.6L314.5 74.4L312 73.3L306.9 73.1L303.1 73.5L302.5 75.2L301.9 76.4M312.6 72.2L317.7 73.2L321.5 72.8L326.5 72.5L327.2 71.4L322.7 70.3L317.7 70.9L313.9 70.7L312.6 72.2M331.6 75.2L335.4 77L338.5 75.6L337.9 74.2L334.1 73.8L331.6 75.2M339.8 76.1L343 76.2L346.1 75L346.1 73.8L340.4 73.7L339.8 75L339.8 76.1M334.7 80L337.9 80.5L339.8 80L338.5 78.9L335.4 79L334.7 80M344.2 72.8L349.3 73.1L356.9 73.1L359.4 72.7L359.4 71.7L354.3 71.4L348 71.6L344.2 70.8L339.2 70.6L339.2 71.8L344.2 72.8M346.8 70.7L353.1 70.7L359.4 70.8L361.9 69.9L364.4 68.7L365.7 67.4L370.8 66.4L377.1 65.1L382.1 63.6L378.3 62.7L369.5 62.2L359.4 62.3L350.5 63.2L346.8 64.2L350.5 65.5L351.8 66.8L349.3 68L350.5 69.3L346.8 70.7M339.2 66.4L343 68.4L348.6 68.3L349.9 66.8L345.5 65.4L340.4 64.9L339.2 66.4M329.1 68.3L334.1 68.9L336.6 67.7L331.6 67.4L329.1 68.3M334.1 71.8L337.3 72.2L336.6 70.6L332.8 70.6L334.1 71.8M306.3 71.2L311.4 71.6L313.9 70.2L310.1 69.3L306.3 71.2M351.2 86.4L354.3 87.2L358.1 87L359.1 85.7L356.9 84.5L353.7 83.8L351.2 84.5L351.2 86.4M359.4 75L363.2 74.7L363.2 75.5L359.4 75M385.6 107.1L387.2 106L387.8 104.1L389.7 102.2L389.7 104.1L392.2 104.7L393.5 106L393.5 107.8L392.2 108.1L389.7 108L388.5 107.1L385.6 107.1M379 104.2L382.1 104.8L382.4 105.2L379 104.2M298.3 103L302.5 104.1L304.4 106L303.8 106L301.2 104.9L298.3 103M292.4 99L294.3 100.3L294.9 101.5L293 100.3L292.4 99M338.5 72L341.7 71.7L342.3 72.6L339.2 72.6L338.5 72M336.9 67.9L339.2 68.2L338.5 68.9L336.9 67.9M317 68.8L320.8 68.8L319.6 69.6L317 68.8M317.7 67.8L321.5 67.7L320.8 68.3L317.7 67.8M326.8 69L328.4 69.7L327.8 69.9L326.8 69M328.4 72L329.7 72.3M362.5 81.1L365.1 81.4L364.4 82.1L362.5 81.1M355 87.8L356.9 87.9L356.5 88.5L355 87.8M359 88.4L360 89.3M357.1 100L358.4 100.5M360 96L360.7 96.6M356.9 66.1L361.9 65.8L367 66M351.8 67.7L356.9 68.3L361.9 67.9M346.8 65.3L351.8 64.9L356.9 64.5M352.4 74.1L353.4 75.6L352.7 77.1M358.8 76L361.9 76.9L365.7 76.6M369.5 78.1L372 78.8L373.3 79.4M310.1 71.3L312 71.8M330.3 70.8L332.2 71.2M344.2 108.2L346.8 106.8L349.3 106L351.8 106.6L353.3 108.1L351.2 108.5L349.3 107.8L346.1 108.2L344.2 108.2M349.5 114.2L351.4 113.5L351.4 111.6L352.4 109.4L350.5 109.7L349.5 111.6L349.5 114.2M353.7 109.1L356.9 109.1L359.4 110.4L357.5 111L356.5 112.8L355 111.9L355 110.4L353.7 109.1M355.2 114.5L358.1 114.4L360.7 113.2L358.8 113.4L356.2 114L355.2 114.5M359.8 112.5L363.8 112.3L364.1 111.5L360.7 111.9L359.8 112.5M302.5 83.8L307.6 85.1L311.4 84.1L310.1 82.7L306.3 83.2L302.5 83.8M312.6 90.2L316.4 90.2L320.2 88.3L322.1 87.9L318.9 89.1L315.2 88.6L312.6 90.2M319.6 93.1L322.7 92.3L325.9 92.2L322.7 92.7L319.6 93.1M330.3 95.8L332.2 94.2L331 93.9L330.3 95.8M335.4 103.4L338.5 103.4L337.3 101.5L336.6 99.3L335.4 100.3L336 101.9L335.4 103.4M353.1 139.6L355.6 138.2L358.1 138.1L360.7 138.9L363.2 140.1L365.1 141.1L366.7 141.7L365.1 142.1L362.5 142.1L361.9 141.1L360.7 140.1L357.5 139.4L356.9 138.9L355 139.2L353.1 139.6M366.5 144L368.2 144.2L368.9 143.7L367.9 142.2L369.5 142.1L372 142.2L373.9 143.6L373.3 144.1L371.4 144.2L370.1 144.9L368.9 144.4L366.5 144M361.5 144L364.1 144.4L363.2 144.8L361.5 144M375.6 144L377.5 144.1L377.1 144.5L375.6 144.5L375.6 144M361.8 135.9L362.5 136.7M362.4 133.4L363.2 134.1M364.1 136.5L364.8 137.3M367.2 140.3L368 141.1M382.6 153.7L383.4 154.5M382.4 147.4L383.1 148.2M383 148.4L383.8 149.2M382.4 146.4L383.1 147.2M383.4 232.2L385.9 232.1L387.4 232.5L385.9 233.4L384 233L383.4 232.2M412.5 235.5L415 235.9L414.4 236.5L412.5 235.5M344.9 167.6L345.7 168.3M425.1 118.5L426.4 118.3M427.9 119.5L428.6 119.5M439.3 131.5L440 131.2M440.5 131.9L441 131.9M442.6 131.2L443.3 130.6M77.9 192.8L78.4 192.9M75.4 193.8L76 194M60.2 182L60.5 182.3M73.1 151.5L74.3 151.3M449.5 77.5L450.4 77.5M451.4 88.6L452 88.9M242.4 184.3L243.1 184.6M237 222.6L237.7 222.9M271.3 189.4L271.9 189.6M5.5 256.9L8.2 256.3L11.2 256.1L13.9 256.2L16.4 256.2L19.4 256L22.3 255.9L25.6 255.5L29 256.4L32.3 256L34.8 255.5L37.7 256.2L40.4 255.4L43.3 254.8L45.9 254.9L48.4 255L50.9 254.1L53.7 254.5L56.5 253.7L59.6 252.9L63 252L66.3 251.1L69.4 250.5L72.1 250.2L74.5 250.6L77.4 251.1L80.7 251.9L83.8 252.9L87.1 253.7L91 255.3L93.5 256.9L96 255.6L100 254.4L102.6 253.7L105.3 253.6L107.6 252.9L110.3 252.7L112.9 251.8L115.7 251.4L118.6 251.1L120.9 251.7L123.4 251.3L126 251.4L129 251.1L131.9 251.1L134.6 250.7L137.2 250.9L139.8 250.7L142.7 251.1L145.2 250.5L147.9 250.6L150.3 250.6L153.3 250.9L156.1 250.1L158.5 250.4L161.3 250.2L163.8 250.3L166.6 250L169.3 250.9L172.1 250.4L175 251.3L177.6 250.9L180.6 251.1L183.8 252L187.1 252.5L190 252.6L192.5 252.9L195.2 253.9L198.1 253.5L200.5 254.3L202.9 254.5L205.6 255.3L208.4 255.6L211 256.4L213.3 256.7L216.1 257.2L219.1 257.7L221.4 257.8L217.3 259.9L213 261L212 264.1L214.7 264.8L217.3 265.2L214.6 265L211.9 266.2L208.9 266.2L207.8 268.3L210.6 270L213 271L215.6 271.3L218 271.9L220.6 271.6L223.5 272.5L226.5 272.4L229.7 272.5L232.6 272.9L236.1 273.5L239 273.6L242.1 274.5L245.6 273.9L248.7 274.6L251.7 274.6L254.9 274.5L258.4 275.6L261.3 275.2L264 275.2L266.5 274.8L269.4 274.9L272.4 274.8L274.9 275.2L272 274.8L269.7 273.5L266.5 271.4L268.6 269.4L272.3 269L276 269.4L272.9 267.8L269.7 267.3L266 267L262.3 265.6L265.4 265.4L268 264.7L270.8 264.8L273.9 264.1L276.7 263.9L279.3 262.8L282.2 262.6L285.2 262.8L288 262.3L290.6 261.6L293.6 262.2L296 262.3L299 262.6L301.6 260.7L304.3 259.9L307.7 260.2L311.6 261L315 261.1L318.6 260.8L321.6 261.4L324 262.1L326.9 262L329.5 260.8L331.9 260.3L335.9 258.4L339.9 260.3L342.4 259.9L345 259.7L348 260.4L350.7 259.8L353.2 259.7L356 259.8L358.3 259.5L361.5 259.4L363.9 258.9L366.5 255.8L369.3 254.7L371.8 253.6L374.3 252.6L377.2 251L379.7 250L382.5 248.3L386.1 247.1L389.1 246.2L386.5 248.8L383.8 250.6L381.2 251.5L379.8 255L383.8 257.6L383.8 260.3L379.8 262.9L377.2 264.3L380 264.3L382.3 264.6L385.4 265.6L387.8 265.6L390.2 266.2L393.4 266.3L395.7 266.4L398.2 266.1L401.1 266.9L404 267L406.4 267.2L409 267L411.9 266.2L414.4 266.4L416.9 265.6L419.6 265.4L422.3 264.7L425.1 264.3L427.5 264.1L430.3 262.9L433.1 262.7L435.7 261.6L438.3 261.4L441 260.2L443.7 259.5L446.4 258.2L449 257.9L451.6 257.8L454.3 258.4L457.1 258.3L460.5 257.6M254 267.5L256 266.6L257.5 267.6L255.5 268.4L254 267.5M360 257L366 254.5L372 251.8" fill="none" stroke="#000" stroke-width="0.7" stroke-linejoin="round"/>
</g>
<g clip-path="url(#c1)">
<rect x="5.5" y="340.3" width="455" height="227.5" fill="#DEB887"/>
<path d="M-6.5 380C-6.5 371.8 -7.8 354.9 -6.5 349.9C-5.2 344.9 -0.5 349.9 1.5 349.9C3.5 349.9 1.5 349.9 5.5 349.9C9.6 349.9 13.8 349.9 25.8 349.9C37.8 349.9 62.4 349.9 77.4 349.9C92.5 349.9 105.3 349.7 116.1 349.9C126.8 350.1 133.7 350.7 141.9 351.2C150.1 351.7 159 352.1 165.5 353C172 353.9 175.8 355.2 181 356.4C186.2 357.6 192.2 358.9 196.5 360.2C200.8 361.5 204.2 362.8 206.8 364.1C209.4 365.4 211.7 366.7 211.9 368C212.1 369.3 210.2 370.5 208.1 371.8C205.9 373.1 202.7 374.4 199 375.7C195.3 377 190.8 378.1 186.1 379.6C181.4 381.1 174.9 383 170.6 384.7C166.2 386.4 163.9 389 160 389.9C156.1 390.8 151.4 389.5 147.1 389.9C142.8 390.3 139.4 391.9 134.2 392.5C129 393.1 123.4 393.8 116.1 393.8C108.8 393.8 98.9 392.7 90.3 392.5C81.7 392.3 72.7 392.1 64.5 392.5C56.3 392.9 46.9 394.1 41.3 395.1C35.7 396.1 35.3 397.8 31 398.4C26.7 399 19.8 398.8 15.5 398.9C11.2 399 7.8 398.9 5.5 398.9C3.2 398.9 3.5 398.9 1.5 398.9C-0.5 398.9 -5.2 402 -6.5 398.9C-7.8 395.8 -6.5 388.2 -6.5 380Z" fill="#F5E6BE"/>
<path d="M472.5 380C472.5 370.8 473.8 355.3 472.5 350.4C471.2 345.5 466.5 350.4 464.5 350.4C462.5 350.4 462.7 350.3 460.5 350.4C458.3 350.5 454.3 350.9 451.3 351.2C448.3 351.5 446 351.9 442.6 352.2C439.2 352.4 434.9 352.6 431 352.7C427.1 352.8 422.4 352.5 419.4 352.7C416.4 352.9 414.1 353 412.8 353.7C411.5 354.4 411.4 355.4 411.4 356.6C411.4 357.8 411.7 359.8 412.8 361C413.9 362.2 416.1 363.3 417.9 363.9C419.7 364.5 421.5 364.7 423.7 364.6C425.9 364.5 428.6 363.6 431 363.1C433.4 362.6 436 361.4 438.2 361.4C440.4 361.4 442.3 362.3 444 363.1C445.7 363.9 448.1 364.7 448.4 366C448.6 367.3 446.9 369.7 445.5 371.1C444.1 372.6 441.6 373.6 439.7 374.7C437.8 375.8 436.3 376.6 433.9 377.6C431.5 378.6 428.3 379.4 425.2 380.5C422.1 381.6 418.4 382.9 415 384.2C411.6 385.5 408.2 386.8 404.8 388.5C401.4 390.2 398.1 392.2 394.7 394.3C391.3 396.4 387.3 399 384.5 400.9C381.7 402.8 379 404.6 378 405.9C377 407.2 377.4 408 378.7 408.9C380 409.8 382.6 410.4 386 411C389.4 411.6 394.4 412.2 399 412.5C403.6 412.8 408.6 412.9 413.5 412.8C418.4 412.7 423.7 412.3 428.1 411.8C432.5 411.3 436.3 410.3 439.7 409.6C443.1 408.9 446 408 448.4 407.4C450.8 406.8 452.2 406.3 454.2 406C456.2 405.7 458.8 405.6 460.5 405.5C462.2 405.4 462.5 405.5 464.5 405.5C466.5 405.5 471.2 409.8 472.5 405.5C473.8 401.2 472.5 389.2 472.5 380Z" fill="#F5E6BE"/>
<ellipse cx="275.9" cy="401" rx="19.4" ry="10" fill="#F5E6BE" transform="rotate(-8 275.9 401)"/>
<path d="M5.5 417.5C8.9 417.2 19 416.4 25.8 415.7C32.6 415 40 413.8 46.5 413.1C53 412.5 57.2 412.2 64.5 411.8C71.8 411.4 81.7 410.7 90.3 410.5C98.9 410.3 107.5 410.6 116.1 410.5C124.7 410.4 133.7 410 141.9 410C150.1 410 159 410.2 165.5 410.5C172 410.8 175.8 411.2 181 411.8C186.2 412.4 191.8 413.1 196.5 414.4C201.2 415.7 205.1 418.1 209.4 419.6C213.7 421.1 217.6 422.3 222.3 423.5C227 424.7 232.5 425.9 237.7 426.8C242.8 427.7 248.5 428.4 253.2 428.6C257.9 428.8 260.9 428.5 266.1 427.8C271.3 427.1 278.6 425.7 284.2 424.7C289.8 423.7 294.5 422.4 299.7 421.6C304.9 420.8 309.9 420.4 315.5 420.1C321.1 419.9 327.5 419.5 333.5 420.1C339.5 420.7 346 422.4 351.6 423.5C357.2 424.6 361.5 425.9 367.1 426.8C372.7 427.7 379.2 428.3 385.2 428.6C391.2 428.9 397.2 428.9 403.2 428.6C409.2 428.3 415.3 427.7 421.3 426.8C427.3 425.9 432.9 424.6 439.4 423.5C445.9 422.4 457 420.8 460.5 420.3L460.5 567.8 L5.5 567.8 Z" fill="#FFE100"/>
<path d="M5.5 490.2C8.9 490.5 18.1 491.7 25.8 492C33.5 492.3 43 492.1 51.6 492C60.2 491.9 68.8 491.4 77.4 491.2C86 491 94.6 490.4 103.2 490.7C111.8 491 122.1 492.1 129 492.8C135.9 493.5 139.3 494 144.5 494.6C149.7 495.2 153.9 496.4 160 496.2C166.1 496 174.9 494 181 493.3C187.1 492.6 191.3 492.6 196.5 492C201.7 491.4 206.8 490.7 211.9 489.4C217.1 488.1 222.2 486.2 227.4 484.3C232.6 482.4 237.7 479.8 242.9 477.8C248.1 475.9 253.2 474.1 258.4 472.6C263.6 471.1 268.7 469.7 273.9 468.8C279.1 467.9 285 467.7 289.4 467.5C293.8 467.3 296.1 467.2 300 467.5C303.9 467.8 308.6 468.3 312.9 469.5C317.2 470.7 321.5 472.9 325.8 474.7C330.1 476.5 334.4 478.7 338.7 480.4C343 482.1 347.3 483.7 351.6 485C355.9 486.3 361.1 487.2 364.5 488.1C367.9 489.1 370.2 491.6 372.3 490.7C374.4 489.8 375.7 482.9 377.4 482.5C379.1 482.1 380 487.6 382.6 488.1C385.2 488.6 389.5 486.7 392.9 485.5C396.3 484.3 399.8 482.6 403.2 480.9C406.6 479.2 410.5 476.4 413.5 475.2C416.5 474 417.9 473.5 421.3 473.9C424.8 474.2 429.9 475.9 434.2 477.3C438.5 478.7 442.7 480.9 447.1 482.5C451.5 484.1 458.3 486.1 460.5 486.8L460.5 567.8 L5.5 567.8 Z" fill="#DEB887"/>
<path d="M5.5 500.5C8.9 500.9 18.1 502.6 25.8 503.1C33.5 503.6 43 503.7 51.6 503.6C60.2 503.5 68.8 502.7 77.4 502.3C86 501.9 94.6 501 103.2 501C111.8 501 122.1 501.9 129 502.3C135.9 502.7 139.3 503.2 144.5 503.6C149.7 504 154.8 504.9 160 504.9C165.2 504.9 168.9 503.8 175.8 503.6C182.7 503.4 193 503.7 201.6 503.6C210.2 503.5 218.8 503.5 227.4 503.1C236 502.8 245.4 501.9 253.2 501.5C260.9 501.1 267.9 501 273.9 500.5C279.9 500 285 499.1 289.4 498.5C293.8 497.9 296.1 497.8 300 497.2C303.9 496.6 308.6 494.9 312.9 494.6C317.2 494.3 321.5 494.8 325.8 495.4C330.1 495.9 334.4 497 338.7 497.9C343 498.8 346.9 500.1 351.6 501C356.3 501.9 361.9 503.4 367.1 503.6C372.3 503.8 376.6 502.8 382.6 502.3C388.6 501.8 396.3 501.1 403.2 500.5C410.1 499.9 417.9 498.9 423.9 498.5C429.9 498.1 435.1 497.8 439.4 497.9C443.7 498 446.2 498.6 449.7 499C453.2 499.4 458.7 500.2 460.5 500.5L460.5 567.8 L5.5 567.8 Z" fill="#F5E6BE"/>
<path d="M5.5 533.3C8.9 533.4 18.1 534 25.8 534.1C33.5 534.2 43 533.9 51.6 534.1C60.2 534.3 68.8 534.8 77.4 535.1C86 535.4 94.6 535.6 103.2 535.9C111.8 536.1 121.2 536.3 129 536.6C136.8 536.9 142.2 537.3 150 537.7C157.8 538.1 167.2 538.5 175.8 539.2C184.4 539.9 193 541.1 201.6 541.8C210.2 542.5 218.8 543.3 227.4 543.6C236 543.9 245.4 543.8 253.2 543.6C260.9 543.4 267 542.8 273.9 542.3C280.8 541.8 289.3 541 294.5 540.3C299.7 539.6 299.8 538.7 305 538C310.2 537.3 318 536.5 325.8 535.9C333.6 535.2 343.9 534.8 351.6 534.1C359.4 533.5 366.3 532.6 372.3 532C378.3 531.4 381.7 530.9 387.7 530.7C393.7 530.5 401.5 530.6 408.4 530.7C415.3 530.8 423 531.2 429 531.5C435 531.8 439.2 532.2 444.5 532.5C449.8 532.8 457.8 533.2 460.5 533.3L460.5 567.8 L5.5 567.8 Z" fill="#9ABE32"/>
<path d="M5.5 544.4C8.9 544.1 18.1 543.2 25.8 542.8C33.5 542.4 43.9 542.2 51.6 541.8C59.4 541.4 66.3 539.6 72.3 540.3C78.3 541 83.4 545.9 87.7 546.2C92 546.5 93.4 543.2 98.1 542.3C102.8 541.4 110.1 541 116.1 541C122.1 541 128.5 541.6 134.2 542.3C139.8 543 145.2 544.1 150 545.2C154.8 546.3 158.6 547.5 162.9 548.8C167.2 550.1 171.5 552.1 175.8 553.2C180.1 554.4 184.4 555 188.7 555.7C193 556.4 196.9 556.9 201.6 557.3C206.3 557.7 211.9 558.2 217.1 558.3C222.3 558.4 227.4 558.3 232.6 557.8C237.8 557.3 242.9 556.2 248.1 555.2C253.2 554.2 258.4 553.1 263.5 552.1C268.6 551.1 273.8 550.4 279 549.5C284.2 548.6 290.2 547.7 294.5 547C298.8 546.3 301.5 545.6 305 545.2C308.5 544.9 310.8 545 315.5 544.9C320.2 544.8 327.5 544.5 333.5 544.4C339.5 544.3 346 544.2 351.6 544.4C357.2 544.6 361.5 545.1 367.1 545.4C372.7 545.7 379.2 546.3 385.2 546.2C391.2 546.1 396.8 545.5 403.2 544.9C409.6 544.3 417.9 543.3 423.9 542.8C429.9 542.3 435.1 541.8 439.4 541.8C443.7 541.8 446.2 542.4 449.7 542.8C453.2 543.2 458.7 544.1 460.5 544.4L460.5 567.8 L5.5 567.8 Z" fill="#BEF064"/>
<ellipse cx="18.5" cy="454" rx="5" ry="10" fill="#DEB887"/>
<ellipse cx="153" cy="521.7" rx="7" ry="1.3" fill="#DEB887"/>
<path d="M453 408.8L458 409.7L460.5 408.5M5.5 408.5L6.8 407.9L9.3 407.5L14.3 407.3L18.1 406.9L19.4 407.3L18.8 409.2L18.1 411.1L19.4 412.1L21.9 412.5L24.8 413.2L27 414.9L29.5 415.8L30.8 414.9L30.8 413L33.3 412.5L37.1 414.1L42.2 415L44 414.4L46.3 414.6L46.6 416.1L47.8 418.7L48.5 419.9L50.4 423.7L52.3 427.5L52.5 429.3L54.2 431.3L55.4 434.5L57.3 435.7L59.2 437.6L60.2 438.3L59.8 439.5L61.1 440.8L64.9 439.9L67.4 439.8L70.2 439.1L70 440.8L68.7 443.9L67.4 446.5L66.2 448.4L63.6 450.9L62.8 451.5L59.8 454L58 455.9L56.7 457.2L55.4 459.7L54.8 462.3L55.4 464.2L56.1 467.3L56.7 469.8L56.9 473L54.8 475.5L52.3 476.8L49.7 479.3L50.4 481.9L50.4 484.4L47.2 486.3L47 489.4L44.7 492L43.4 493.9L40.9 495.8L38 497L33.3 497.3L30.8 498L28.9 497.4L28.2 495.1L27 492L26.4 490.1L24.5 487.5L23.8 483.1L21.9 479.3L20.4 476.2L20.7 473.6L22.6 469.8L22.6 467.3L21.9 465.4L21 461.6L20.7 460.4L19.4 458.9L17.5 457.2L16.9 454.9L17.5 453.4L17.5 451.5L17.9 449.6L16.9 448.4L16.2 448.4L14.3 448.5L13.1 448.6L11.8 447.1L9.9 446L7.4 446.2L5.5 447L5.5 447M460.5 447L458 448L456.1 447.6L454.2 447.6L451 448.5L449.1 447.7L446.8 446.1L444.7 444.6L443.7 443.3L443.2 442L441.5 440.1L439.4 438.5L439.3 437L438.4 435.5L439.6 433.8L439.9 431.3L440.2 429.4L439 427.5L440.3 425L441.5 423.1L442.2 421.2L444.1 419L446.6 417.6L447.9 416.8L448.2 415.5L448.1 414.2L449.1 412.7L451 411.6L452.3 410.4L453 408.8M67.8 469.2L69.1 473.6L68.1 476.2L66.8 479.3L65.5 483.1L64.9 485.6L62.4 486.3L61.1 485L60.5 482.5L61.5 479.3L61.1 476.8L61.7 474.7L64 473.9L66.2 471.1L67.8 469.2M45.9 453.7L48.5 453.8L48.7 455.3L47.8 457.2L45.9 457.2L45.6 455.3L45.9 453.7M42.5 458.3L43 460.4L43.8 462.9L44.7 465M48.7 466.2L49.2 468.6L49.6 472M453.7 408.4L452.5 407.9L451.7 407L450.5 407.3L449.1 407.3L449.4 406.1L449.4 405.5L448.5 405L449.3 403.5L449.5 402.2L449.4 401L448.9 399.6L450.4 398.8L453.2 398.9L455.7 399.1L458.2 399.2L459 397.6L459 395.9L457.7 394.4L456.7 393.9L454.8 393.5L454.4 392.9L456.1 392.4L458 392.6L458.5 392.5L458.5 391.2L459.1 391.6L460.5 391.5M5.5 391.5L5.6 391.5L7.4 390.7L7.5 389.7L9.3 389.2L10.6 388.3L11.6 387.1L13.1 386.6L14.3 386.3L16.2 386.1L16.6 385.2L16 383.9L15.7 382.6L16.4 381.9L18.8 381.1L18.5 382.6L18.1 383.9L17.9 384.8L19.1 385.8L20.7 385.5L22.6 385.3L23.6 385.9L25.7 385.4L28.9 384.9L30.5 385.3L32 384.3L32 382.6L32.7 381.5L33.9 381.1L35.2 382L35.8 382L36.2 380.7L35.2 379.9L35.2 379.2L37.1 378.8L40.9 378.7L43.4 378.3L42.2 377.8L39.6 377.6L37.1 378L34.6 378.3L32.7 377.6L32.4 376.3L32.3 375.1L33.3 373.8L35.8 372.5L37.5 371.5L36.5 371L33.6 371L32.4 372.2L31.4 373.5L28.9 374.7L27.4 376.1L27.2 377.3L28.9 378.2L29.3 379.1L27 380L26.4 381.4L25.7 383L23.8 383.3L23.4 384L21.9 384L21.4 383L20.4 381.4L19.7 379.7L18.9 378.8L17.9 379.5L15.9 380.6L14.3 380.7L12.6 379.7L11.8 378.2L11.8 376.7L11.9 375.7L13.7 374.7L16.2 373.8L18.1 373.2L20 371.9L21.3 370.6L22.6 369.4L24.5 368.1L26.4 367.1L28.2 366.2L30.8 365.6L33.3 365.2L36.5 364.3L38.1 364.2L40.9 364.3L44.7 365.1L43.4 366L47.2 366.3L51 366.7L53.5 367.7L56.7 368.7L57.7 369.7L56.1 370.5L53.5 370.5L49.7 370L47.2 369.7L46.6 369.2L49.1 371.3L49.7 372.8L52.3 373.3L53.5 372.7L56.1 372.3L56.1 370.9L58.6 370L61.1 370.4L61.1 369L61.4 367.5L63.6 368.1L64.3 369.4L66.2 368.5L71.2 367.5L73.8 367.9L77.5 367.3L80.1 366.8L82 365.8L86.4 366.5L88.9 366.8L91.4 367.5L90.2 366.2L90.2 364.3L91.4 362L94 361.4L97.1 362L97.1 364.3L96.5 366.8L98.4 368.7L96.5 370.3L99 368.7L99 366.8L97.8 364.3L99.7 362L101.6 363.1L104.1 362.8L107.2 362.4L107.9 363.7L110.4 364.9L110.4 363.3L107.9 361.2L115.5 359.3L119.2 358.5L125.6 357.9L131.9 357.4L137.3 355.8L140.7 356.7L147.1 357.4L149.6 358.4L149 359.9L144.5 360.5L140.7 361.4L147.1 360.9L149.6 361L155.9 361.7L161 361.2L166 361.2L169.2 362.4L168.5 364.3L172.3 363.7L176.1 363.6L179.9 363.7L182.4 362.4L183.7 362L188.8 362.7L195.1 363.6L198.2 364.4L203.9 364.3L207.7 365.6L209 366.2L212.8 366L217.8 365.7L221 365.6L221 366.8L224.2 365.8L227.9 366L233 367.1L236.8 367.7L240.6 369.1L243.7 369.6L246 370.5L243.7 371.5L242.5 372.5L240.6 372.5L238.1 371.4L234.9 370.4L233.6 371.6L230.5 372.3L231.7 374.2L232.1 375.3L227.9 375.9L224.2 377L221 378.2L216.6 377.8L213.4 378.3L212.1 379.7L210.9 380.9L211.9 383L210.9 384.8L207.7 386.8L206.1 387.2L204.8 389L203.6 389.7L202.7 388.3L202.3 385.8L202.3 383.3L203.9 381L207.1 378.8L210 377.6L212.1 376.1L211.5 375.1L208.4 376.1L206.5 375.9L203.9 376.2L201.4 378.8L198.9 379.5L196.1 378.8L193.2 379.1L189.4 379.1L186.2 379.1L183.1 380.7L179.9 382.6L176.8 384.8L178.7 385.8L180.5 386.1L182.4 386.4L184.1 387.1L183.7 388.3L183.1 390.2L182.8 392.1L181.2 394.3L179.3 396.5L176.8 398.4L174.2 399.8L172.3 399.4L170.8 400.3L169.6 401.6L169.2 402.6L167.3 403.5L166.6 404.4L167.9 405.4L169 407.3L169.2 408.8L168.5 409.7L166.6 410.2L165.3 410.4L165.4 408.8L165.4 407.3L163.5 406.3L163.5 405.1L163.9 404.1L162.7 403.5L160.3 404.1L158.7 405L159.4 403.1L159.4 402.4L157.2 403.5L155.9 404.5L154.4 404.8L155.3 406L155.9 406.9L157.8 406.4L160.3 406.9L158.4 407.9L156.5 409.4L157.2 411.1L158.4 413L159.6 414.2L158.4 415.5L159.7 416.3L159.1 418L157.8 419.9L156.5 421.8L154.6 423.1L152.7 424.7L149.8 425.9L148.3 426.2L145.8 426.9L145.2 428.4L144.3 426.9L142.6 426.6L140.7 427.5L139.2 429.7L140.1 431.6L141.4 433.2L142.6 434.1L143.6 437L143.6 438.9L142 440.4L140.7 441L139.5 442L138 443.2L138.2 441.4L136.9 440.8L135.7 439.9L134.8 438.6L133.2 438L132.5 437L131.9 438.3L131.3 440.1L131 442.3L131.9 443.3L132.5 444.9L134.2 445.8L135.7 447.1L136.3 449L136.3 450.9L137.2 452.3L136.2 452.3L133.8 450.6L132.5 448.4L132.3 446.5L131.3 444.9L130 443.9L130 442L130.2 440.1L130 438.3L129.4 436.4L128.9 433.6L127.5 432.8L125.9 434.1L124.7 433.8L124.9 431.9L124.3 430L123 428.8L121.8 426.9L121.4 425.6L119.9 425.6L118 426.5L116.1 426.8L115.5 427.9L114.8 428.8L112.9 429.7L111.7 430.9L109.5 432.7L108.1 433.8L107 434.8L106.7 437L106.4 439.5L106.4 441L105.3 442.3L104.3 442.8L103.5 443.8L102.2 442.7L101.6 440.8L100.7 438.9L99.9 437L99 435.1L98 432.6L97.5 430L97.4 428.1L97.3 426.9L97.1 426L96.5 427.5L95.2 427.8L94 427.5L92.7 425.9L94 425.4L92.7 425L91.7 424.1L90.6 423.1L89.9 422.7L89.5 421.9L87 422.2L83.9 422.3L81.3 422.1L78.2 421.7L77.5 420.2L76.7 419.8L74.8 420.6L73.1 420.2L71.9 419.3L70.3 418.7L69.7 417.4L68.7 416L67.4 415.6L66.8 416.1L66.2 416.8L67.1 418.3L68.1 419.5L68.9 420.6L68.9 421.8L69.7 422.7L70 421.3L70.6 421.1L70.7 422.5L70.3 423.1L71.2 423.6L73.8 423.5L75.4 422.1L76.7 420.8L76.8 422.5L77.3 423.3L79.4 424.2L81.1 425.6L79.7 428.1L78.6 430L77.9 430.2L76.7 431.4L75 432.6L73.8 432.6L71.5 433.8L68.7 435.1L66.8 436.4L64.3 437.1L62.4 437.9L60.5 438.1L59.8 436.4L59.6 434.5L59.2 432.6L57.3 430L55 426.9L53.9 424.3L52.5 422.5L51 420.6L49.7 418.7L49.5 416.8L48.9 418.9L47.2 417.6L46.7 416.1L46.3 414.6L48.7 414.5L49.6 413L49.9 412.3L50.4 411.2L50.9 409.8L51 408.6L51.3 407.8L49.7 407.7L48.5 408.2L46.6 408.4L44.3 407.5L42.8 408.3L41.1 407.7L40 407.3L39.9 406L39 405.6L39.4 404.8L38.6 404.1L38.6 403.4L39.6 403L42.2 402.9L42.8 402.5L42.2 402.1L41.5 402.2L40.3 402.4L39.4 402.7L38.6 403.1L38.4 402.6L37.7 402.4L35.8 402.5L36.3 403.2L35.6 403.5L34.4 402.9L34.6 404.8L35.8 405.8L35.2 406L34.8 406.7L34.6 407.9L33.9 407.9L32.9 407.5L32.4 407L32.4 405.6L32 405L30.8 403.9L30 402.9L30 401.2L28.2 400.2L26.2 399.1L24.7 398.2L23.8 396.8L22.7 397.2L22.7 396.3L21 396.8L21.3 398.2L22.6 398.9L23.2 400.1L24.5 401L26 401.1L25.7 401.6L27 402.2L28.8 403L28.9 403.5L27 402.9L26.5 403.9L27.1 404.8L26.4 405.5L25.3 406L25.7 404.8L25.2 403.5L23.6 402.5L22.9 402L21.3 401.6L20.4 401L18.8 399.8L18.4 398.6L16.7 397.9L15 398.7L13.7 399.6L12.3 399.3L10.6 399.1L9.3 399.4L9.5 400.6L8.3 401.7L6.5 402.6L5.5 403.7M460.5 403.7L460.1 404.1L460.5 404.7M5.5 404.7L5.8 405.1L5.5 405.4M460.5 405.4L459.6 406.5L457.7 407.7L454.9 407.7L453.7 408.4M42.2 402L43.4 402L45.3 402L47.2 401L49.7 401L51.6 401.9L53.5 402.2L55.7 402.2L58 401.6L58.1 400.7L57.3 399.7L55.7 399.1L53.5 397.9L52.3 397.4L51.9 396.8L52.9 395.9L54.2 395L55.2 394.4L53.5 394.5L51.6 395L49.7 395.7L49.7 396.3L51.5 396.7L50.2 397.2L49.1 397.7L47.8 397.8L47.7 396.9L46.6 396.7L48 395.8L45.9 395.5L45.3 395.2L44.3 395.3L43.2 396.5L42.2 397.6L41.6 398.7L40.9 399.4L40.5 400.3L41.1 401.3L42.2 402M67.4 395.3L65.5 396.5L64.9 397.8L65.5 399.7L66.8 401.2L68.1 402.7L67.4 404.8L67.4 406.5L69.3 407.3L71.2 407.7L73.8 407.4L73.5 405.4L72.5 404.1L72.2 402.9L72.2 401.6L73.8 401.2L71.9 400.6L70 399.1L69.3 397.8L70.6 397.2L72.5 396.8L72.5 395L70 394.6L67.4 395.3M79.4 395.3L81.3 395.5L83.2 395.3L83 396.9L81.7 398.4L80.1 399.1L79.2 398.4L79.2 396.5L79.4 395.3M136.6 389L138.2 388.6L140.1 387.7L142 386.4L143.9 384.5L144.3 383.5L143.3 384.2L141.4 386.2L139.5 387.3L137.6 388.3L136.6 389M98.4 396.8L99.7 395.5L101.6 394.9L103.5 395.3L105.3 395.2M44 378.2L45.9 377.8L47.2 377L44.7 376.2L43.4 377L44 378.2M49.7 377L51.3 376.2L50.4 375.1L49.1 375.7L49.7 377M453.3 390.7L456.1 390.5L458.6 390L460.5 389.7M5.5 389.7L7.1 389.5L7.4 387.6L5.9 387.1L5.5 386.3L5.5 386.3M460.5 386.3L460.1 385.2L458.6 384.5L458 383.3L456.7 383L458 381.4L455.4 381.2L456.7 380L454.2 380L453.2 381.4L452.7 382.5L453.5 383.9L454.4 384.5L456.1 384.7L456.5 385.8L456.7 386.6L454.8 386.7L455.2 387.7L453.9 388.6L456.1 389L457 389L455.2 389.3L453.3 390.7M452.9 388.1L452.7 386.7L453.4 385.2L452.3 384.3L450.4 384.3L449.8 385.2L447.9 385.5L447.9 386.6L448.5 387.4L447.5 388.3L448.2 389L450.4 388.6L452.9 388.1M429.5 371.3L432.7 370.1L435.2 371L437.8 370.4L440.3 370L442.2 370.4L443.3 371.6L442.2 372.7L439.6 373.4L436.7 373.9L434.6 373.7L431.9 373.3L432.7 372.7L430.2 372L432.1 371.5L429.5 371.3M15.9 402L17.5 402L17.8 404.5L16.2 404.8L15.9 402M16.4 399.8L17.5 399.7L17.4 401.7L16.6 401.5L16.4 399.8M21.3 406L25.2 405.8L24.7 407.7L21.3 406.5L21.3 406M35.2 409.2L38.7 409.4L38.6 409.8L35.3 409.6L35.2 409.2M46.3 409.8L49.1 409.1L48.5 409.9L46.7 410.2L46.3 409.8M19.4 353.6L23.2 353.2L27 352.9L30.8 353.2L32.7 354.6L29.5 355.1L28.9 356.1L27 357.2L23.8 356.4L21.9 355.2L19.4 354.2L19.4 353.6M28.2 352.7L34.6 352.3L39.6 352.8L37.1 353.8L30.8 353.6L28.2 352.7M32 354.8L35.2 355.2L33.3 356.2L32 354.8M70.6 364.3L73.1 364.6L78.2 364.7L75.6 363.1L76.3 361.4L78.8 360.3L82.6 358.9L87.7 357.6L92.1 356.9L88.9 356.7L82.6 357.6L77.5 358.9L75 360.5L73.1 361.8L71.2 363.1L70.6 364.3M62.4 352.2L68.7 351.9L71.2 352.6L64.9 352.7L62.4 352.2M73.8 351.7L78.8 351.3L83.9 351.9L77.5 352.3L73.8 351.7M81.3 352.6L87.7 352.1L85.1 352.8L81.3 352.6M125.6 353.9L131.9 353.2L136.9 354.2L131.9 355.2L126.8 354.8L125.6 353.9M121.8 352.9L128.1 351.4L130.6 352.6L124.3 353.2L121.8 352.9M135.7 355.1L139.5 355.1L137.6 355.7L135.7 355.1M178.7 358.9L182.4 357.9L188.8 358.6L195.1 359L190 359.5L182.4 359.5L178.7 358.9M182.4 360.8L186.9 361.3L183.7 361.5L182.4 360.8M231.1 364.1L234.3 363.7L236.2 364.3L233 364.6L231.1 364.1M92.7 361.4L95.2 361.2L94 361.8L92.7 361.4M185 385.4L186.2 387.1L186.6 389L186.9 390.9L188.1 392.1L186.2 394L186.9 395L186.9 395.9L185 395.9L185 394L185 391.5L184.7 389.6L184.6 387.7L185 385.4M184.8 396.5L186.9 398.1L189.1 398.1L189.4 399.3L187.5 399.7L186.6 401L184.3 400.3L182.8 400.6L182.4 401.6L183.7 401.2L182.8 399.4L184.1 399.3L184.6 397.8L184.8 396.5M184.1 401.7L184.3 402.9L185 404.1L184.3 405.6L183.7 407.3L183.3 408.6L183.5 408.9L182.4 409.6L182.2 409.8L181.9 409.2L181.2 409.8L180.8 410.2L180.2 410.2L178.7 410.2L178.4 410.6L177.4 411.7L176.1 411.1L176.5 410.2L174.9 410.3L173 410.7L171.1 411.1L171.1 410.4L172.3 409.6L173.8 409.2L175.5 409.1L177.1 409.1L177.4 408.2L178.3 407.3L179 406.7L178.7 407.5L180.5 406.8L181.7 405.6L182.4 404.1L182.4 402.9L182.8 402.1L184.1 401.7M171.1 411.2L172 411.7L172.3 412.6L171.7 414.2L170.7 414.9L170.1 413.6L169.6 412.7L169.6 411.7L170.4 411.3L171.1 411.2M173 411.1L175.1 410.7L175.7 411.3L175.1 412L173.6 412.6L172.7 412L173 411.1M190.4 398.1L191.7 397.3M192.6 396.8L193.8 396M195.1 395.5L196.3 394.8M197.6 394L198.9 393.3M201.4 391L202.7 390.2M166.8 420.9L167.8 420.2M168.7 418.7L169.7 417.9M169.9 416.1L170.9 415.4M162.3 423.5L163.4 422.7M159.1 422.1L159.7 423.1L158.8 425.4L158.2 426.2L157.3 425L157.8 423.3L159.1 422.1M144.5 428.8L145.8 429.3L145.2 430.7L143.9 431L142.9 430L143.5 429L144.5 428.8M106.6 441.7L108.1 443.3L108.9 444.9L108.5 446.1L107.2 446.6L106.4 445.5L106.4 443.9L106.6 441.7M157.9 430.7L159.9 430.7L160.1 432.6L159.2 433.8L159.3 435.3L160.7 436.1L162.2 436.6L162.3 438.1L161 437.6L160.3 436.6L158.8 436.9L157.9 436.1L158.3 435.6L157.2 435.1L156.9 433.4L157.5 433.1L157.7 431.9L157.9 430.7M164.1 441.7L165.1 443.3L165.4 445.2L165 446.1L164.1 447L163.9 445.8L164.2 445.2L162.5 446.2L162 444.6L159.9 445.2L159.9 443.9L161.6 443.2L162.9 443.3L163.5 442.7L164.1 441.7M162.6 438.3L163.9 438.3L164.4 440L163.5 441.2L163.1 439.8L162.6 438.3M159.7 439.1L161 439.5L161.2 440.8L161.3 442.3L160.3 442L160.5 440.8L159.7 440.8L159.7 439.1M153.6 443.3L155.3 441.9L156.5 439.8L156.3 441L154.6 442.8L153.6 443.3M157.7 437.1L158.9 437.2L158.8 438.5L158.2 438L157.7 437.1M143.3 452.2L143.9 451.5L145.8 451.9L146.2 450.6L148.3 450L149.6 448.4L150.8 447.7L152.1 446.1L153.1 445.2L154.3 446.1L156.2 447.4L155.3 448.4L154.3 449L154.6 450.9L155.9 452.8L154.4 453L154 454.7L152.7 455.9L152.5 457.8L152.1 459.1L150.3 459.2L150.2 458.3L148.3 458.2L146.8 458.5L144.9 457.8L144.5 455.9L143.5 454.7L143.3 453.4L143.3 452.2M125.9 447L128.7 447.5L130.2 449.2L132.3 450.9L133.8 451.8L135.7 453.4L136.7 455.3L137.6 457L139.5 458.2L139.2 461.4L137.6 461.4L134.8 459.1L132.5 455.9L130.6 453.4L130 451.8L128.1 449.9L126.6 448L125.9 447M138.5 462.6L140.1 461.6L142.6 462.3L145.2 462.3L145.8 462.1L147.9 462.8L150.1 463.8L150.2 465L147.1 464.5L144.5 464.2L142 463.9L140.1 463.4L138.5 462.6M150.8 464.4L151.7 464.5L151.5 465.2L150.8 464.8L150.8 464.4M152.1 464.5L153 464.7L152.7 465.3L152.1 465.2L152.1 464.5M153.1 464.7L154.6 464.3L155.9 464.7L155.3 465.2L153.4 465.4L153.1 464.7M156.9 464.7L158.4 464.5L161 464.4L160.7 465L158.4 465.3L156.9 465.2L156.9 464.7M155.9 466.1L158.2 466.6L157.4 467.1L155.9 466.1M161.6 467.1L163.5 465.7L166 464.7L165.4 465.4L163.5 466.4L162.2 467.1L161.6 467.1M156.9 453L158.2 452.4L161 452.9L163.5 452L162.6 453.5L161 453.5L158.4 453.4L157.2 454.7L158.4 455.3L161.3 455.2L159.4 456.5L158.8 456.6L160.1 458.2L161 459.1L161 460.7L159.7 460.1L159.1 459.1L158.2 457.5L157.5 459.1L157.7 461L156.5 461L156.5 458.5L155.6 457.5L156.3 455.7L156.9 453M166.6 451.5L167.3 452.8L168.2 452.2L167.3 453.7L167.9 455.1L167 454.4L166.6 453L166.6 451.5M167.3 457.8L169.2 457.6L170.8 458.2L169.8 458.7L167.9 458.5L167.3 457.8M164.8 458.1L166 458.1L165.8 458.9L164.9 458.7L164.8 458.1M171.1 455.1L173 454.6L174.9 455.1L175.5 457.2L176.1 458.2L178 456.8L179.9 456.1L183.3 457.3L185.6 458.1L188.1 458.9L189.8 460.4L191.9 461.6L191.3 462.6L192.6 464.2L194.5 466.1L196 467.1L194.8 467.3L192.6 466.8L191.5 466.1L190 464.5L188.1 463.8L186.9 464.5L186.2 465.7L183.7 465.6L181.8 464.2L179.9 464.5L180.9 462.9L180.5 461.6L179.9 460.9L177.4 459.9L174.9 459L173.6 459.1L173.3 457.8L172.3 457.6L174.5 457L172.6 456.7L171.1 455.8L171.1 455.1M193.2 461.1L195.1 460.6L197 459.5L197.9 459.4L197.6 460.4L195.7 461.8L193.8 461.9L193.2 461.1M196.1 457.3L197.6 458.2L198.9 460L198.2 459.1L197 458.1L196.1 457.3M201 461L202.4 462.3L201.8 462.6L201 461M203.2 462.9L204.7 463.7M205.1 463.5L206.6 464.3M206.6 464.3L208.1 465M207.2 465.7L208.7 466.4M209.1 466.7L210.6 467.4M208 464.5L209.5 465.3M216.3 472.9L216.8 473.9M216.9 474.1L217.5 475.2M218 475.9L218.5 476.9M219.2 477.3L219.7 478.3M212.8 479.6L214.7 480.6L216.6 482.4L215.3 481.9L213.4 480.6L212.8 479.6M229.6 476.2L231.1 476.3L231.1 477.1L229.7 476.9L229.6 476.2M231.5 474.9L233 474.7L232.4 475.3L231.5 474.9M263.3 428.5L264.6 429L263.8 430L263.3 429.3L263.3 428.5M262.2 427.6L263.2 428M260.3 426.7L261.3 427.1M258.4 426.1L259.4 426.4M149.2 482.5L149.8 481.6L152.1 480.3L155.4 479.7L158.4 478.7L159.9 476.8L161.6 475.5L162.9 474.5L164.8 472L167 472.4L167.9 473L169.2 472.8L169.8 471.1L170.8 469.7L173 469.2L173 468.3L176.1 469.5L178.4 469.5L177.4 471.1L176.8 473L178.7 474L181.2 475.3L183.5 476.2L184.3 473.6L184.6 471.1L184.5 469.8L185.2 468L185.6 467.6L186.9 470.2L187.2 472.1L189.1 473L189.4 474.9L190.3 477.8L191.3 478.4L193.6 479.7L194.5 481.9L196.1 483.5L198.2 485.4L199.1 486.7L199.1 488.8L199.6 490.3L198.9 493.2L197.6 495.5L196.6 497L195.3 499.5L195.1 501.4L192.6 502L190.4 503.5L188.5 502.5L186.9 503.1L183.7 502.3L182.1 500.8L181.8 499.3L180.5 499L180.5 498L179.9 495.8L178.7 496.8L177.4 498L176.9 498L175.5 495.8L174.2 494.6L171.1 493.9L168.5 494.1L164.8 494.9L162.2 495.8L161.6 496.9L157.2 497L154.6 498.3L152.1 498.2L150.8 497.4L151.7 496.1L151.7 494.5L150.8 492.6L150.3 490.4L149.6 488.8L149 487.5L148.7 486.3L149 485L149.2 483.8L149.2 482.5M188.4 505.5L190.7 506L192.9 505.7L192.9 507.4L191.9 508.6L190.7 509.2L189.4 508.3L189 507.1L188.4 505.5M223.8 497.5L225.8 498.7L226.4 500.6L227.7 500.4L227.9 501.6L229.8 502L231.1 501.7L230.5 503.3L229.2 503.7L229.2 504.6L227.9 506.2L226.9 506.6L226.4 506.2L226.8 505L226.4 504.4L225.2 503.7L226.2 503.1L226.3 501.4L225.7 500.1L224.2 498.5L223.8 497.5M223.8 505.2L224.3 506.2L225.8 506.1L225.7 506.9L225 507.6L223.9 508.8L224.3 509.4L222 510L221.6 511.3L221.2 512.1L219.7 512.8L218.2 512.9L215.9 512.2L215.9 511.3L217.8 509.7L219.7 508.8L221.4 508.1L222.3 506.9L223.1 505.6L223.8 505.2M92.5 516L94.4 516.2L93.3 516.9L92.5 516M22.7 436.9L24.2 437.9M262.7 363.9L268.4 364.6L273.4 365.2L279.8 365.6L282.3 366.1L287.3 366.8L289.9 366.2L292.4 366.2L296.2 365.3L298.7 364.9L302.5 365.6L303.8 366.3L307.6 365.8L312.6 366.8L315.2 367.7L315.2 368.4L321.5 368.2L324 368.5L324 369.6L325.3 368.4L326.5 367.7L331.6 368.1L336.6 367.7L337.9 367.5L339.2 366.2L339.2 363.7L341.1 363.1L343 364.3L344.2 366L346.1 367.3L349.3 368.1L349.9 369L352.4 365.8L356.9 366L357.7 367.5L356.9 369.4L355 370.3L351.8 370.4L350.5 371.5L349.3 373.2L346.8 373.2L344.2 374.7L341.7 377L340.8 379.5L343.6 382L346.8 382L349.3 382.6L353.1 384.2L356.5 384.3L356.9 387.1L358.1 388.3L360 389L360.9 387.7L360.7 385.8L360 384.9L363.2 383.3L363.8 381.4L361.9 379.5L362.5 377.6L361.9 375.2L363.2 375.1L367 375.4L369.5 376.3L372 377L372.7 378.8L374.6 380.4L377.1 379.7L378.3 377.8L380.9 380.1L382.1 381.4L383.4 383.3L385.9 384.8L387.8 385.8L389.7 387.7L389.7 388.7L386.6 389.3L384.7 390.5L379.6 390.6L376.5 390.6L373.9 392.1L372 393.8L370.8 394.8L373.3 393.4L375.8 392.1L379 392.1L377.7 393.4L378.3 394.6L379 395.5L380.2 395.9L382.1 396.2L383.4 396.5L384.7 395.9L384 394.6L383.4 396.4L380.2 397.7L377.7 399.1L376.8 397.9L378.3 396.9L379 396.5L375.8 397.2L373.9 398.1L372 398.8L371.1 400.1L372 401.2L370.1 401.7L368.2 402.1L367 402.7L367 404.1L365.7 405L365.1 406.3L364.4 407.3L364.8 408.8L365.1 409.6L363.6 410.2L361.9 411.2L360 412.3L358.1 413.6L357.6 415.5L358.6 418L359.3 420.6L358.9 422.2L357.9 422.1L357.1 420.9L356 418.9L355.8 417.1L354.3 416.1L352.7 416.5L351.2 415.6L349.3 415.8L347.4 415.9L347.8 417.1L346.1 417.1L344.2 416.6L341.9 416.5L340.4 417.1L337.9 418.7L337.4 421.2L337 423.7L336.9 425.9L337.9 428.1L339 429.8L341.1 431L343.6 430.5L345.5 430.3L346.1 428.8L346.4 427.5L348.6 426.9L350.5 426.9L349.9 429.4L349.3 430.7L348.9 431.9L348.4 433.8L349.9 434.1L352.4 434L354.3 434.1L355.3 435.1L355 437.6L354.7 439.5L355 440.8L356.2 442.3L358.1 442.9L359.6 442.2L361.3 442.2L362.7 443.1L363.2 443.9L365.1 442L365.1 440.8L366 440.1L368.2 439.6L369.5 438.6L370.4 439.3L369.8 440.5L370.3 440.3L372 439.5L372 438.8L372.7 439.5L374.2 440.4L375.8 440.8L378.3 441.3L379.6 440.8L382.1 440.5L382.8 441.7L383.7 443.3L385.3 443.9L387.2 445.5L388.5 446.5L391 446.6L392.9 447L394.8 448L396 449L397.3 451.8L397.3 453.4L399.2 454.9L400.5 454.9L403.6 455.9L404.9 457.3L407.4 457.6L409.9 457.7L411.8 458.7L413.7 460.1L415.9 460.6L416.4 462.9L416.4 464.3L415.4 466.3L413.7 468L411.8 470.5L411.2 473L411 476.2L410.2 478.7L408.8 481.6L407.4 483L405.9 483.1L403.6 484L402 484.4L399.8 486L399.1 487.5L399.1 489.4L397.9 491L396.7 493.2L394.8 494.7L392.9 496.8L391.1 498.2L389.5 498.2L387.2 497L386.7 497.8L388.2 498.9L388.8 500.2L387.8 502.1L385.9 503L382.1 503.2L381.8 505.2L379.9 506L378.3 505.6L378.3 507.4L380 507.8L378.3 508.8L377.7 510.9L375.2 512.2L377.1 513.7L377.1 514.7L375.2 516.6L373.3 517.9L373.9 520.2L373.9 520.5L375.2 522.3L378.1 523.2L376.5 523.7L373.9 523.9L375.4 524.7L372 523.8L369.5 522.7L367 521L365.7 519.1L365.1 516.6L365.1 514.1L366.3 512.8L365.1 512.2L367 509.7L367 508.4L367.2 506.9L367.4 504.6L367.6 502.1L368 500.8L368.9 498.9L369.9 495.8L370.1 492L370.4 489.4L371.4 486.3L371.5 483.8L371.8 480.6L371.6 477.3L370.1 475.9L367.6 474.7L365.5 473.4L364.1 471.5L363.1 469.2L361.7 466.7L360.7 464.4L359.5 462.6L357.9 461.6L357.7 459.7L359 458.3L359.4 457.2L358.3 456.8L358.4 455.3L359.4 453.4L360.7 452.5L360.9 451.8L362.5 450.6L362.9 449.1L362.5 447.1L362.7 445.6L362 444.9L361.3 443.6L360 442.8L359 443.7L358.8 444.8L357.5 444.4L355.8 443.7L355 443.3L353.3 441.7L352.2 440.8L352.1 439.9L350.5 438.3L349.8 437.5L348 437.1L346.1 436.6L344 435.7L341.9 434L340.4 433.6L338.5 434.2L336 433.4L334.2 432.8L331.6 431.4L329.4 430.4L327.8 429.4L327.2 428.1L327.4 426.9L326 424.7L324 422.5L322.1 421.2L320.8 419.3L318.7 417.4L317.7 415.5L317 414.5L315.4 413.9L315.5 415.5L317.7 418L319.6 420.6L320.8 423.1L322.1 424.7L321.5 425.1L319.6 423.3L318.7 421.4L317 420.2L315.2 418.9L316.2 418L315.2 416.8L313.9 415.1L312.5 413L310.9 411.1L308.2 410.4L306.4 407.8L305.7 406.3L304 404.1L303.3 403L303.5 401L303.8 398.4L303.8 395.7L302.9 392.9L305 392.8L305 391.9L302.5 390.2L299.4 389L298.7 387.1L296.2 385.2L294.3 383.9L291.8 382L289.2 380.1L287.3 380.1L284.2 378.5L281 378.2L278.5 378.1L276 377.2L273.4 377.6L271.5 378.5L269 379.1L269 377.6L270.9 376.7L268.4 377.6L266.5 379.1L265.2 380.7L262.7 382L260.2 383.3L257.6 383.9L255.1 384.5L252.2 385L255.1 383.5L257.6 382.9L260.2 381.4L261.4 379.9L259.5 379.9L256.4 379.9L255.8 378.8L253.2 378.5L251.3 377L250.7 376.2L252 375.1L253.2 374.2L257 373.8L257 372.5L254.5 372.5L251.3 372.5L248.2 371.1L250.7 370.3L253.2 370L255.8 370.4L253.9 369.1L251.3 367.9L250.1 367.1L253.2 366.8L254.5 365.6L258.3 364.7L262.7 363.9M248.9 386.3L250.4 386.1M239.8 388.2L241.3 387.9M235.4 388.7L236.9 388.5M223.4 387.4L224.9 387.2M265.2 381.4L267.8 380.7L267.8 381.6L265.9 382.3L265.2 381.4M243.7 373.5L246.9 374.2L245.6 374.4L243.7 373.5M250.1 377.8L251.1 378.2L250.1 378.5M214.7 384.3L215.9 384.8M368.2 355.2L374.6 352.3L382.1 350.7L397.3 349.8L409.9 348.8L420.1 348.4L428.9 349.1L435.2 350.4L439 351L445.3 351L439 352.9L437.8 354.8L436.5 356.7L437.1 358.6L435.2 359.9L432.7 361.8L432.7 363.1L432.7 364.9L428.9 366.2L427.6 367.5L422.6 367.9L418.8 369.4L415 370.9L412.5 371.1L409.9 372.5L408.7 374.4L406.8 376.3L405.5 378.2L403 378L399.8 377L397.9 375.1L396 373.2L394.1 371.3L392.9 369.4L393.5 367.5L396 366.2L392.2 365.6L391.6 364.3L390.4 362.4L388.5 360.5L386.6 358.6L382.1 357.7L375.8 358L372 357L370.1 356.1L368.2 355.2M382.8 369.7L380.9 368.7L379.6 368.1L375.8 366.8L373.9 364.9L370.1 363.7L365.7 362.8L361.9 361.9L358.8 360.9L353.1 360.8L348 360.9L346.8 363.1L348 364.9L351.8 365.6L353.7 365.6L356.9 365.8L360.7 365.7L361.9 365.6L365.7 367.7L367.6 368.7L368.2 370L367 371.3L362.5 371.9L361.9 372.5L364.4 372.9L368.2 372.8L370.8 374.4L373.3 375.1L377.1 375.8L378.3 374.8L373.9 373.5L379 374L377.1 371.9L374.6 370.4L378.3 371.3L380.2 371.9L382.8 369.7M313.9 366.7L317.7 367.3L324 367.2L327.8 366.6L331.6 366.2L332.2 365.3L328.4 364.3L327.8 362.4L324 361.5L321.5 361.9L316.4 361.5L312 362L310.1 363.7L312 364.9L316.4 365.2L313.9 366.7M301.9 363.2L305 364.1L308.2 363.7L311.4 362.4L314.5 361.2L312 360.1L306.9 359.9L303.1 360.3L302.5 362L301.9 363.2M312.6 359L317.7 360L321.5 359.6L326.5 359.3L327.2 358.2L322.7 357.1L317.7 357.7L313.9 357.5L312.6 359M331.6 362L335.4 363.8L338.5 362.4L337.9 361L334.1 360.6L331.6 362M339.8 362.9L343 363.1L346.1 361.8L346.1 360.6L340.4 360.5L339.8 361.8L339.8 362.9M334.7 366.8L337.9 367.3L339.8 366.8L338.5 365.7L335.4 365.8L334.7 366.8M344.2 359.6L349.3 359.9L356.9 359.9L359.4 359.5L359.4 358.5L354.3 358.2L348 358.4L344.2 357.6L339.2 357.4L339.2 358.6L344.2 359.6M346.8 357.5L353.1 357.5L359.4 357.6L361.9 356.7L364.4 355.5L365.7 354.2L370.8 353.2L377.1 351.9L382.1 350.4L378.3 349.5L369.5 349L359.4 349.1L350.5 350L346.8 351L350.5 352.3L351.8 353.6L349.3 354.8L350.5 356.1L346.8 357.5M339.2 353.2L343 355.2L348.6 355.1L349.9 353.6L345.5 352.2L340.4 351.7L339.2 353.2M329.1 355.1L334.1 355.7L336.6 354.5L331.6 354.2L329.1 355.1M334.1 358.6L337.3 359L336.6 357.4L332.8 357.4L334.1 358.6M306.3 358L311.4 358.4L313.9 357L310.1 356.1L306.3 358M351.2 373.2L354.3 374L358.1 373.8L359.1 372.5L356.9 371.3L353.7 370.6L351.2 371.3L351.2 373.2M359.4 361.8L363.2 361.5L363.2 362.3L359.4 361.8M385.6 393.9L387.2 392.8L387.8 390.9L389.7 389L389.7 390.9L392.2 391.5L393.5 392.8L393.5 394.6L392.2 394.9L389.7 394.8L388.5 393.9L385.6 393.9M379 391L382.1 391.6L382.4 392L379 391M298.3 389.8L302.5 390.9L304.4 392.8L303.8 392.8L301.2 391.7L298.3 389.8M292.4 385.8L294.3 387.1L294.9 388.3L293 387.1L292.4 385.8M338.5 358.8L341.7 358.5L342.3 359.4L339.2 359.4L338.5 358.8M336.9 354.7L339.2 355L338.5 355.7L336.9 354.7M317 355.6L320.8 355.6L319.6 356.4L317 355.6M317.7 354.6L321.5 354.5L320.8 355.1L317.7 354.6M326.8 355.8L328.4 356.5L327.8 356.7L326.8 355.8M328.4 358.8L329.7 359.1M362.5 367.9L365.1 368.2L364.4 368.9L362.5 367.9M355 374.6L356.9 374.7L356.5 375.3L355 374.6M359 375.2L360 376.1M357.1 386.8L358.4 387.3M360 382.8L360.7 383.4M356.9 352.9L361.9 352.6L367 352.8M351.8 354.5L356.9 355.1L361.9 354.7M346.8 352.1L351.8 351.7L356.9 351.3M352.4 360.9L353.4 362.4L352.7 363.9M358.8 362.8L361.9 363.7L365.7 363.4M369.5 364.9L372 365.6L373.3 366.2M310.1 358.1L312 358.6M330.3 357.6L332.2 358M344.2 395L346.8 393.6L349.3 392.8L351.8 393.4L353.3 394.9L351.2 395.3L349.3 394.6L346.1 395L344.2 395M349.5 401L351.4 400.3L351.4 398.4L352.4 396.2L350.5 396.5L349.5 398.4L349.5 401M353.7 395.9L356.9 395.9L359.4 397.2L357.5 397.8L356.5 399.6L355 398.7L355 397.2L353.7 395.9M355.2 401.3L358.1 401.2L360.7 400L358.8 400.2L356.2 400.8L355.2 401.3M359.8 399.3L363.8 399.1L364.1 398.3L360.7 398.7L359.8 399.3M302.5 370.6L307.6 371.9L311.4 370.9L310.1 369.5L306.3 370L302.5 370.6M312.6 377L316.4 377L320.2 375.1L322.1 374.7L318.9 375.9L315.2 375.4L312.6 377M319.6 379.9L322.7 379.1L325.9 379L322.7 379.5L319.6 379.9M330.3 382.6L332.2 381L331 380.7L330.3 382.6M335.4 390.2L338.5 390.2L337.3 388.3L336.6 386.1L335.4 387.1L336 388.7L335.4 390.2M353.1 426.4L355.6 425L358.1 424.9L360.7 425.7L363.2 426.9L365.1 427.9L366.7 428.5L365.1 428.9L362.5 428.9L361.9 427.9L360.7 426.9L357.5 426.2L356.9 425.7L355 426L353.1 426.4M366.5 430.8L368.2 431L368.9 430.5L367.9 429L369.5 428.9L372 429L373.9 430.4L373.3 430.9L371.4 431L370.1 431.7L368.9 431.2L366.5 430.8M361.5 430.8L364.1 431.2L363.2 431.6L361.5 430.8M375.6 430.8L377.5 430.9L377.1 431.3L375.6 431.3L375.6 430.8M361.8 422.7L362.5 423.5M362.4 420.2L363.2 420.9M364.1 423.3L364.8 424.1M367.2 427.1L368 427.9M382.6 440.5L383.4 441.3M382.4 434.2L383.1 435M383 435.2L383.8 436M382.4 433.2L383.1 434M383.4 519L385.9 518.9L387.4 519.3L385.9 520.2L384 519.8L383.4 519M412.5 522.3L415 522.7L414.4 523.3L412.5 522.3M344.9 454.4L345.7 455.1M425.1 405.3L426.4 405.1M427.9 406.3L428.6 406.3M439.3 418.3L440 418M440.5 418.7L441 418.7M442.6 418L443.3 417.4M77.9 479.6L78.4 479.7M75.4 480.6L76 480.8M60.2 468.8L60.5 469.1M73.1 438.3L74.3 438.1M449.5 364.3L450.4 364.3M451.4 375.4L452 375.7M242.4 471.1L243.1 471.4M237 509.4L237.7 509.7M271.3 476.2L271.9 476.4M5.5 543.7L8.2 543.1L11.2 542.9L13.9 543L16.4 543L19.4 542.8L22.3 542.7L25.6 542.3L29 543.2L32.3 542.8L34.8 542.3L37.7 543L40.4 542.2L43.3 541.6L45.9 541.7L48.4 541.8L50.9 540.9L53.7 541.3L56.5 540.5L59.6 539.7L63 538.8L66.3 537.9L69.4 537.3L72.1 537L74.5 537.4L77.4 537.9L80.7 538.7L83.8 539.7L87.1 540.5L91 542.1L93.5 543.7L96 542.4L100 541.2L102.6 540.5L105.3 540.4L107.6 539.7L110.3 539.5L112.9 538.6L115.7 538.2L118.6 537.9L120.9 538.5L123.4 538.1L126 538.2L129 537.9L131.9 537.9L134.6 537.5L137.2 537.7L139.8 537.5L142.7 537.9L145.2 537.3L147.9 537.4L150.3 537.4L153.3 537.7L156.1 536.9L158.5 537.2L161.3 537L163.8 537.1L166.6 536.8L169.3 537.7L172.1 537.2L175 538.1L177.6 537.7L180.6 537.9L183.8 538.8L187.1 539.3L190 539.4L192.5 539.7L195.2 540.7L198.1 540.3L200.5 541.1L202.9 541.3L205.6 542.1L208.4 542.4L211 543.2L213.3 543.5L216.1 544L219.1 544.5L221.4 544.6L217.3 546.7L213 547.8L212 550.9L214.7 551.6L217.3 552L214.6 551.8L211.9 553L208.9 553L207.8 555.1L210.6 556.8L213 557.8L215.6 558.1L218 558.7L220.6 558.4L223.5 559.3L226.5 559.2L229.7 559.3L232.6 559.7L236.1 560.3L239 560.4L242.1 561.3L245.6 560.7L248.7 561.4L251.7 561.4L254.9 561.3L258.4 562.4L261.3 562L264 562L266.5 561.6L269.4 561.7L272.4 561.6L274.9 562L272 561.6L269.7 560.3L266.5 558.2L268.6 556.2L272.3 555.8L276 556.2L272.9 554.6L269.7 554.1L266 553.8L262.3 552.4L265.4 552.2L268 551.5L270.8 551.6L273.9 550.9L276.7 550.7L279.3 549.6L282.2 549.4L285.2 549.6L288 549.1L290.6 548.4L293.6 549L296 549.1L299 549.4L301.6 547.5L304.3 546.7L307.7 547L311.6 547.8L315 547.9L318.6 547.6L321.6 548.2L324 548.9L326.9 548.8L329.5 547.6L331.9 547.1L335.9 545.2L339.9 547.1L342.4 546.7L345 546.5L348 547.2L350.7 546.6L353.2 546.5L356 546.6L358.3 546.3L361.5 546.2L363.9 545.7L366.5 542.6L369.3 541.5L371.8 540.4L374.3 539.4L377.2 537.8L379.7 536.8L382.5 535.1L386.1 533.9L389.1 533L386.5 535.6L383.8 537.4L381.2 538.3L379.8 541.8L383.8 544.4L383.8 547.1L379.8 549.7L377.2 551.1L380 551.1L382.3 551.4L385.4 552.4L387.8 552.4L390.2 553L393.4 553.1L395.7 553.2L398.2 552.9L401.1 553.7L404 553.8L406.4 554L409 553.8L411.9 553L414.4 553.2L416.9 552.4L419.6 552.2L422.3 551.5L425.1 551.1L427.5 550.9L430.3 549.7L433.1 549.5L435.7 548.4L438.3 548.2L441 547L443.7 546.3L446.4 545L449 544.7L451.6 544.6L454.3 545.2L457.1 545.1L460.5 544.4M254 554.3L256 553.4L257.5 554.4L255.5 555.2L254 554.3M360 543.8L366 541.3L372 538.6M157.9 430.7L159.9 430.7L160.1 432.6L159.2 433.8L159.3 435.3L160.7 436.1L162.2 436.6L162.3 438.1L161 437.6L160.3 436.6L158.8 436.9L157.9 436.1L158.3 435.6L157.2 435.1L156.9 433.4L157.5 433.1L157.7 431.9L157.9 430.7M164.1 441.7L165.1 443.3L165.4 445.2L165 446.1L164.1 447L163.9 445.8L164.2 445.2L162.5 446.2L162 444.6L159.9 445.2L159.9 443.9L161.6 443.2L162.9 443.3L163.5 442.7L164.1 441.7M162.6 438.3L163.9 438.3L164.4 440L163.5 441.2L163.1 439.8L162.6 438.3M159.7 439.1L161 439.5L161.2 440.8L161.3 442.3L160.3 442L160.5 440.8L159.7 440.8L159.7 439.1M153.6 443.3L155.3 441.9L156.5 439.8L156.3 441L154.6 442.8L153.6 443.3M157.7 437.1L158.9 437.2L158.8 438.5L158.2 438L157.7 437.1M143.3 452.2L143.9 451.5L145.8 451.9L146.2 450.6L148.3 450L149.6 448.4L150.8 447.7L152.1 446.1L153.1 445.2L154.3 446.1L156.2 447.4L155.3 448.4L154.3 449L154.6 450.9L155.9 452.8L154.4 453L154 454.7L152.7 455.9L152.5 457.8L152.1 459.1L150.3 459.2L150.2 458.3L148.3 458.2L146.8 458.5L144.9 457.8L144.5 455.9L143.5 454.7L143.3 453.4L143.3 452.2M125.9 447L128.7 447.5L130.2 449.2L132.3 450.9L133.8 451.8L135.7 453.4L136.7 455.3L137.6 457L139.5 458.2L139.2 461.4L137.6 461.4L134.8 459.1L132.5 455.9L130.6 453.4L130 451.8L128.1 449.9L126.6 448L125.9 447M138.5 462.6L140.1 461.6L142.6 462.3L145.2 462.3L145.8 462.1L147.9 462.8L150.1 463.8L150.2 465L147.1 464.5L144.5 464.2L142 463.9L140.1 463.4L138.5 462.6M150.8 464.4L151.7 464.5L151.5 465.2L150.8 464.8L150.8 464.4M152.1 464.5L153 464.7L152.7 465.3L152.1 465.2L152.1 464.5M153.1 464.7L154.6 464.3L155.9 464.7L155.3 465.2L153.4 465.4L153.1 464.7M156.9 464.7L158.4 464.5L161 464.4L160.7 465L158.4 465.3L156.9 465.2L156.9 464.7M155.9 466.1L158.2 466.6L157.4 467.1L155.9 466.1M161.6 467.1L163.5 465.7L166 464.7L165.4 465.4L163.5 466.4L162.2 467.1L161.6 467.1M156.9 453L158.2 452.4L161 452.9L163.5 452L162.6 453.5L161 453.5L158.4 453.4L157.2 454.7L158.4 455.3L161.3 455.2L159.4 456.5L158.8 456.6L160.1 458.2L161 459.1L161 460.7L159.7 460.1L159.1 459.1L158.2 457.5L157.5 459.1L157.7 461L156.5 461L156.5 458.5L155.6 457.5L156.3 455.7L156.9 453M166.6 451.5L167.3 452.8L168.2 452.2L167.3 453.7L167.9 455.1L167 454.4L166.6 453L166.6 451.5M167.3 457.8L169.2 457.6L170.8 458.2L169.8 458.7L167.9 458.5L167.3 457.8M164.8 458.1L166 458.1L165.8 458.9L164.9 458.7L164.8 458.1M171.1 455.1L173 454.6L174.9 455.1L175.5 457.2L176.1 458.2L178 456.8L179.9 456.1L183.3 457.3L185.6 458.1L188.1 458.9L189.8 460.4L191.9 461.6L191.3 462.6L192.6 464.2L194.5 466.1L196 467.1L194.8 467.3L192.6 466.8L191.5 466.1L190 464.5L188.1 463.8L186.9 464.5L186.2 465.7L183.7 465.6L181.8 464.2L179.9 464.5L180.9 462.9L180.5 461.6L179.9 460.9L177.4 459.9L174.9 459L173.6 459.1L173.3 457.8L172.3 457.6L174.5 457L172.6 456.7L171.1 455.8L171.1 455.1M193.2 461.1L195.1 460.6L197 459.5L197.9 459.4L197.6 460.4L195.7 461.8L193.8 461.9L193.2 461.1M196.1 457.3L197.6 458.2L198.9 460L198.2 459.1L197 458.1L196.1 457.3M201 461L202.4 462.3L201.8 462.6L201 461M203.2 462.9L204.7 463.7M205.1 463.5L206.6 464.3M206.6 464.3L208.1 465M207.2 465.7L208.7 466.4M209.1 466.7L210.6 467.4M208 464.5L209.5 465.3M216.3 472.9L216.8 473.9M216.9 474.1L217.5 475.2M218 475.9L218.5 476.9M219.2 477.3L219.7 478.3M212.8 479.6L214.7 480.6L216.6 482.4L215.3 481.9L213.4 480.6L212.8 479.6M229.6 476.2L231.1 476.3L231.1 477.1L229.7 476.9L229.6 476.2M231.5 474.9L233 474.7L232.4 475.3L231.5 474.9M263.3 428.5L264.6 429L263.8 430L263.3 429.3L263.3 428.5M262.2 427.6L263.2 428M260.3 426.7L261.3 427.1M258.4 426.1L259.4 426.4M149.2 482.5L149.8 481.6L152.1 480.3L155.4 479.7L158.4 478.7L159.9 476.8L161.6 475.5L162.9 474.5L164.8 472L167 472.4L167.9 473L169.2 472.8L169.8 471.1L170.8 469.7L173 469.2L173 468.3L176.1 469.5L178.4 469.5L177.4 471.1L176.8 473L178.7 474L181.2 475.3L183.5 476.2L184.3 473.6L184.6 471.1L184.5 469.8L185.2 468L185.6 467.6L186.9 470.2L187.2 472.1L189.1 473L189.4 474.9L190.3 477.8L191.3 478.4L193.6 479.7L194.5 481.9L196.1 483.5L198.2 485.4L199.1 486.7L199.1 488.8L199.6 490.3L198.9 493.2L197.6 495.5L196.6 497L195.3 499.5L195.1 501.4L192.6 502L190.4 503.5L188.5 502.5L186.9 503.1L183.7 502.3L182.1 500.8L181.8 499.3L180.5 499L180.5 498L179.9 495.8L178.7 496.8L177.4 498L176.9 498L175.5 495.8L174.2 494.6L171.1 493.9L168.5 494.1L164.8 494.9L162.2 495.8L161.6 496.9L157.2 497L154.6 498.3L152.1 498.2L150.8 497.4L151.7 496.1L151.7 494.5L150.8 492.6L150.3 490.4L149.6 488.8L149 487.5L148.7 486.3L149 485L149.2 483.8L149.2 482.5M188.4 505.5L190.7 506L192.9 505.7L192.9 507.4L191.9 508.6L190.7 509.2L189.4 508.3L189 507.1L188.4 505.5M223.8 497.5L225.8 498.7L226.4 500.6L227.7 500.4L227.9 501.6L229.8 502L231.1 501.7L230.5 503.3L229.2 503.7L229.2 504.6L227.9 506.2L226.9 506.6L226.4 506.2L226.8 505L226.4 504.4L225.2 503.7L226.2 503.1L226.3 501.4L225.7 500.1L224.2 498.5L223.8 497.5M223.8 505.2L224.3 506.2L225.8 506.1L225.7 506.9L225 507.6L223.9 508.8L224.3 509.4L222 510L221.6 511.3L221.2 512.1L219.7 512.8L218.2 512.9L215.9 512.2L215.9 511.3L217.8 509.7L219.7 508.8L221.4 508.1L222.3 506.9L223.1 505.6L223.8 505.2M92.5 516L94.4 516.2L93.3 516.9L92.5 516M22.7 436.9L24.2 437.9M262.7 363.9L268.4 364.6L273.4 365.2L279.8 365.6L282.3 366.1L287.3 366.8L289.9 366.2L292.4 366.2L296.2 365.3L298.7 364.9L302.5 365.6L303.8 366.3L307.6 365.8L312.6 366.8L315.2 367.7L315.2 368.4L321.5 368.2L324 368.5L324 369.6L325.3 368.4L326.5 367.7L331.6 368.1L336.6 367.7L337.9 367.5L339.2 366.2L339.2 363.7L341.1 363.1L343 364.3L344.2 366L346.1 367.3L349.3 368.1L349.9 369L352.4 365.8L356.9 366L357.7 367.5L356.9 369.4L355 370.3L351.8 370.4L350.5 371.5L349.3 373.2L346.8 373.2L344.2 374.7L341.7 377L340.8 379.5L343.6 382L346.8 382L349.3 382.6L353.1 384.2L356.5 384.3L356.9 387.1L358.1 388.3L360 389L360.9 387.7L360.7 385.8L360 384.9L363.2 383.3L363.8 381.4L361.9 379.5L362.5 377.6L361.9 375.2L363.2 375.1L367 375.4L369.5 376.3L372 377L372.7 378.8L374.6 380.4L377.1 379.7L378.3 377.8L380.9 380.1L382.1 381.4L383.4 383.3L385.9 384.8L387.8 385.8L389.7 387.7L389.7 388.7L386.6 389.3L384.7 390.5L379.6 390.6L376.5 390.6L373.9 392.1L372 393.8L370.8 394.8L373.3 393.4L375.8 392.1L379 392.1L377.7 393.4L378.3 394.6L379 395.5L380.2 395.9L382.1 396.2L383.4 396.5L384.7 395.9L384 394.6L383.4 396.4L380.2 397.7L377.7 399.1L376.8 397.9L378.3 396.9L379 396.5L375.8 397.2L373.9 398.1L372 398.8L371.1 400.1L372 401.2L370.1 401.7L368.2 402.1L367 402.7L367 404.1L365.7 405L365.1 406.3L364.4 407.3L364.8 408.8L365.1 409.6L363.6 410.2L361.9 411.2L360 412.3L358.1 413.6L357.6 415.5L358.6 418L359.3 420.6L358.9 422.2L357.9 422.1L357.1 420.9L356 418.9L355.8 417.1L354.3 416.1L352.7 416.5L351.2 415.6L349.3 415.8L347.4 415.9L347.8 417.1L346.1 417.1L344.2 416.6L341.9 416.5L340.4 417.1L337.9 418.7L337.4 421.2L337 423.7L336.9 425.9L337.9 428.1L339 429.8L341.1 431L343.6 430.5L345.5 430.3L346.1 428.8L346.4 427.5L348.6 426.9L350.5 426.9L349.9 429.4L349.3 430.7L348.9 431.9L348.4 433.8L349.9 434.1L352.4 434L354.3 434.1L355.3 435.1L355 437.6L354.7 439.5L355 440.8L356.2 442.3L358.1 442.9L359.6 442.2L361.3 442.2L362.7 443.1L363.2 443.9L365.1 442L365.1 440.8L366 440.1L368.2 439.6L369.5 438.6L370.4 439.3L369.8 440.5L370.3 440.3L372 439.5L372 438.8L372.7 439.5L374.2 440.4L375.8 440.8L378.3 441.3L379.6 440.8L382.1 440.5L382.8 441.7L383.7 443.3L385.3 443.9L387.2 445.5L388.5 446.5L391 446.6L392.9 447L394.8 448L396 449L397.3 451.8L397.3 453.4L399.2 454.9L400.5 454.9L403.6 455.9L404.9 457.3L407.4 457.6L409.9 457.7L411.8 458.7L413.7 460.1L415.9 460.6L416.4 462.9L416.4 464.3L415.4 466.3L413.7 468L411.8 470.5L411.2 473L411 476.2L410.2 478.7L408.8 481.6L407.4 483L405.9 483.1L403.6 484L402 484.4L399.8 486L399.1 487.5L399.1 489.4L397.9 491L396.7 493.2L394.8 494.7L392.9 496.8L391.1 498.2L389.5 498.2L387.2 497L386.7 497.8L388.2 498.9L388.8 500.2L387.8 502.1L385.9 503L382.1 503.2L381.8 505.2L379.9 506L378.3 505.6L378.3 507.4L380 507.8L378.3 508.8L377.7 510.9L375.2 512.2L377.1 513.7L377.1 514.7L375.2 516.6L373.3 517.9L373.9 520.2L373.9 520.5L375.2 522.3L378.1 523.2L376.5 523.7L373.9 523.9L375.4 524.7L372 523.8L369.5 522.7L367 521L365.7 519.1L365.1 516.6L365.1 514.1L366.3 512.8L365.1 512.2L367 509.7L367 508.4L367.2 506.9L367.4 504.6L367.6 502.1L368 500.8L368.9 498.9L369.9 495.8L370.1 492L370.4 489.4L371.4 486.3L371.5 483.8L371.8 480.6L371.6 477.3L370.1 475.9L367.6 474.7L365.5 473.4L364.1 471.5L363.1 469.2L361.7 466.7L360.7 464.4L359.5 462.6L357.9 461.6L357.7 459.7L359 458.3L359.4 457.2L358.3 456.8L358.4 455.3L359.4 453.4L360.7 452.5L360.9 451.8L362.5 450.6L362.9 449.1L362.5 447.1L362.7 445.6L362 444.9L361.3 443.6L360 442.8L359 443.7L358.8 444.8L357.5 444.4L355.8 443.7L355 443.3L353.3 441.7L352.2 440.8L352.1 439.9L350.5 438.3L349.8 437.5L348 437.1L346.1 436.6L344 435.7L341.9 434L340.4 433.6L338.5 434.2L336 433.4L334.2 432.8L331.6 431.4L329.4 430.4L327.8 429.4L327.2 428.1L327.4 426.9L326 424.7L324 422.5L322.1 421.2L320.8 419.3L318.7 417.4L317.7 415.5L317 414.5L315.4 413.9L315.5 415.5L317.7 418L319.6 420.6L320.8 423.1L322.1 424.7L321.5 425.1L319.6 423.3L318.7 421.4L317 420.2L315.2 418.9L316.2 418L315.2 416.8L313.9 415.1L312.5 413L310.9 411.1L308.2 410.4L306.4 407.8L305.7 406.3L304 404.1L303.3 403L303.5 401L303.8 398.4L303.8 395.7L302.9 392.9L305 392.8L305 391.9L302.5 390.2L299.4 389L298.7 387.1L296.2 385.2L294.3 383.9L291.8 382L289.2 380.1L287.3 380.1L284.2 378.5L281 378.2L278.5 378.1L276 377.2L273.4 377.6L271.5 378.5L269 379.1L269 377.6L270.9 376.7L268.4 377.6L266.5 379.1L265.2 380.7L262.7 382L260.2 383.3L257.6 383.9L255.1 384.5L252.2 385L255.1 383.5L257.6 382.9L260.2 381.4L261.4 379.9L259.5 379.9L256.4 379.9L255.8 378.8L253.2 378.5L251.3 377L250.7 376.2L252 375.1L253.2 374.2L257 373.8L257 372.5L254.5 372.5L251.3 372.5L248.2 371.1L250.7 370.3L253.2 370L255.8 370.4L253.9 369.1L251.3 367.9L250.1 367.1L253.2 366.8L254.5 365.6L258.3 364.7L262.7 363.9M248.9 386.3L250.4 386.1M239.8 388.2L241.3 387.9M235.4 388.7L236.9 388.5M223.4 387.4L224.9 387.2M265.2 381.4L267.8 380.7L267.8 381.6L265.9 382.3L265.2 381.4M243.7 373.5L246.9 374.2L245.6 374.4L243.7 373.5M250.1 377.8L251.1 378.2L250.1 378.5M214.7 384.3L215.9 384.8M368.2 355.2L374.6 352.3L382.1 350.7L397.3 349.8L409.9 348.8L420.1 348.4L428.9 349.1L435.2 350.4L439 351L445.3 351L439 352.9L437.8 354.8L436.5 356.7L437.1 358.6L435.2 359.9L432.7 361.8L432.7 363.1L432.7 364.9L428.9 366.2L427.6 367.5L422.6 367.9L418.8 369.4L415 370.9L412.5 371.1L409.9 372.5L408.7 374.4L406.8 376.3L405.5 378.2L403 378L399.8 377L397.9 375.1L396 373.2L394.1 371.3L392.9 369.4L393.5 367.5L396 366.2L392.2 365.6L391.6 364.3L390.4 362.4L388.5 360.5L386.6 358.6L382.1 357.7L375.8 358L372 357L370.1 356.1L368.2 355.2M382.8 369.7L380.9 368.7L379.6 368.1L375.8 366.8L373.9 364.9L370.1 363.7L365.7 362.8L361.9 361.9L358.8 360.9L353.1 360.8L348 360.9L346.8 363.1L348 364.9L351.8 365.6L353.7 365.6L356.9 365.8L360.7 365.7L361.9 365.6L365.7 367.7L367.6 368.7L368.2 370L367 371.3L362.5 371.9L361.9 372.5L364.4 372.9L368.2 372.8L370.8 374.4L373.3 375.1L377.1 375.8L378.3 374.8L373.9 373.5L379 374L377.1 371.9L374.6 370.4L378.3 371.3L380.2 371.9L382.8 369.7M313.9 366.7L317.7 367.3L324 367.2L327.8 366.6L331.6 366.2L332.2 365.3L328.4 364.3L327.8 362.4L324 361.5L321.5 361.9L316.4 361.5L312 362L310.1 363.7L312 364.9L316.4 365.2L313.9 366.7M301.9 363.2L305 364.1L308.2 363.7L311.4 362.4L314.5 361.2L312 360.1L306.9 359.9L303.1 360.3L302.5 362L301.9 363.2M312.6 359L317.7 360L321.5 359.6L326.5 359.3L327.2 358.2L322.7 357.1L317.7 357.7L313.9 357.5L312.6 359M331.6 362L335.4 363.8L338.5 362.4L337.9 361L334.1 360.6L331.6 362M339.8 362.9L343 363.1L346.1 361.8L346.1 360.6L340.4 360.5L339.8 361.8L339.8 362.9M334.7 366.8L337.9 367.3L339.8 366.8L338.5 365.7L335.4 365.8L334.7 366.8M344.2 359.6L349.3 359.9L356.9 359.9L359.4 359.5L359.4 358.5L354.3 358.2L348 358.4L344.2 357.6L339.2 357.4L339.2 358.6L344.2 359.6M346.8 357.5L353.1 357.5L359.4 357.6L361.9 356.7L364.4 355.5L365.7 354.2L370.8 353.2L377.1 351.9L382.1 350.4L378.3 349.5L369.5 349L359.4 349.1L350.5 350L346.8 351L350.5 352.3L351.8 353.6L349.3 354.8L350.5 356.1L346.8 357.5M339.2 353.2L343 355.2L348.6 355.1L349.9 353.6L345.5 352.2L340.4 351.7L339.2 353.2M329.1 355.1L334.1 355.7L336.6 354.5L331.6 354.2L329.1 355.1M334.1 358.6L337.3 359L336.6 357.4L332.8 357.4L334.1 358.6M306.3 358L311.4 358.4L313.9 357L310.1 356.1L306.3 358M351.2 373.2L354.3 374L358.1 373.8L359.1 372.5L356.9 371.3L353.7 370.6L351.2 371.3L351.2 373.2M359.4 361.8L363.2 361.5L363.2 362.3L359.4 361.8M385.6 393.9L387.2 392.8L387.8 390.9L389.7 389L389.7 390.9L392.2 391.5L393.5 392.8L393.5 394.6L392.2 394.9L389.7 394.8L388.5 393.9L385.6 393.9M379 391L382.1 391.6L382.4 392L379 391M298.3 389.8L302.5 390.9L304.4 392.8L303.8 392.8L301.2 391.7L298.3 389.8M292.4 385.8L294.3 387.1L294.9 388.3L293 387.1L292.4 385.8M338.5 358.8L341.7 358.5L342.3 359.4L339.2 359.4L338.5 358.8M336.9 354.7L339.2 355L338.5 355.7L336.9 354.7M317 355.6L320.8 355.6L319.6 356.4L317 355.6M317.7 354.6L321.5 354.5L320.8 355.1L317.7 354.6M326.8 355.8L328.4 356.5L327.8 356.7L326.8 355.8M328.4 358.8L329.7 359.1M362.5 367.9L365.1 368.2L364.4 368.9L362.5 367.9M355 374.6L356.9 374.7L356.5 375.3L355 374.6M359 375.2L360 376.1M357.1 386.8L358.4 387.3M360 382.8L360.7 383.4M356.9 352.9L361.9 352.6L367 352.8M351.8 354.5L356.9 355.1L361.9 354.7M346.8 352.1L351.8 351.7L356.9 351.3M352.4 360.9L353.4 362.4L352.7 363.9M358.8 362.8L361.9 363.7L365.7 363.4M369.5 364.9L372 365.6L373.3 366.2M310.1 358.1L312 358.6M330.3 357.6L332.2 358M344.2 395L346.8 393.6L349.3 392.8L351.8 393.4L353.3 394.9L351.2 395.3L349.3 394.6L346.1 395L344.2 395M349.5 401L351.4 400.3L351.4 398.4L352.4 396.2L350.5 396.5L349.5 398.4L349.5 401M353.7 395.9L356.9 395.9L359.4 397.2L357.5 397.8L356.5 399.6L355 398.7L355 397.2L353.7 395.9M355.2 401.3L358.1 401.2L360.7 400L358.8 400.2L356.2 400.8L355.2 401.3M359.8 399.3L363.8 399.1L364.1 398.3L360.7 398.7L359.8 399.3M302.5 370.6L307.6 371.9L311.4 370.9L310.1 369.5L306.3 370L302.5 370.6M312.6 377L316.4 377L320.2 375.1L322.1 374.7L318.9 375.9L315.2 375.4L312.6 377M319.6 379.9L322.7 379.1L325.9 379L322.7 379.5L319.6 379.9M330.3 382.6L332.2 381L331 380.7L330.3 382.6M335.4 390.2L338.5 390.2L337.3 388.3L336.6 386.1L335.4 387.1L336 388.7L335.4 390.2M353.1 426.4L355.6 425L358.1 424.9L360.7 425.7L363.2 426.9L365.1 427.9L366.7 428.5L365.1 428.9L362.5 428.9L361.9 427.9L360.7 426.9L357.5 426.2L356.9 425.7L355 426L353.1 426.4M366.5 430.8L368.2 431L368.9 430.5L367.9 429L369.5 428.9L372 429L373.9 430.4L373.3 430.9L371.4 431L370.1 431.7L368.9 431.2L366.5 430.8M361.5 430.8L364.1 431.2L363.2 431.6L361.5 430.8M375.6 430.8L377.5 430.9L377.1 431.3L375.6 431.3L375.6 430.8M361.8 422.7L362.5 423.5M362.4 420.2L363.2 420.9M364.1 423.3L364.8 424.1M367.2 427.1L368 427.9M382.6 440.5L383.4 441.3M382.4 434.2L383.1 435M383 435.2L383.8 436M382.4 433.2L383.1 434M383.4 519L385.9 518.9L387.4 519.3L385.9 520.2L384 519.8L383.4 519M412.5 522.3L415 522.7L414.4 523.3L412.5 522.3M344.9 454.4L345.7 455.1M425.1 405.3L426.4 405.1M427.9 406.3L428.6 406.3M439.3 418.3L440 418M440.5 418.7L441 418.7M442.6 418L443.3 417.4M77.9 479.6L78.4 479.7M75.4 480.6L76 480.8M60.2 468.8L60.5 469.1M73.1 438.3L74.3 438.1M449.5 364.3L450.4 364.3M451.4 375.4L452 375.7M242.4 471.1L243.1 471.4M237 509.4L237.7 509.7M271.3 476.2L271.9 476.4M5.5 543.7L8.2 543.1L11.2 542.9L13.9 543L16.4 543L19.4 542.8L22.3 542.7L25.6 542.3L29 543.2L32.3 542.8L34.8 542.3L37.7 543L40.4 542.2L43.3 541.6L45.9 541.7L48.4 541.8L50.9 540.9L53.7 541.3L56.5 540.5L59.6 539.7L63 538.8L66.3 537.9L69.4 537.3L72.1 537L74.5 537.4L77.4 537.9L80.7 538.7L83.8 539.7L87.1 540.5L91 542.1L93.5 543.7L96 542.4L100 541.2L102.6 540.5L105.3 540.4L107.6 539.7L110.3 539.5L112.9 538.6L115.7 538.2L118.6 537.9L120.9 538.5L123.4 538.1L126 538.2L129 537.9L131.9 537.9L134.6 537.5L137.2 537.7L139.8 537.5L142.7 537.9L145.2 537.3L147.9 537.4L150.3 537.4L153.3 537.7L156.1 536.9L158.5 537.2L161.3 537L163.8 537.1L166.6 536.8L169.3 537.7L172.1 537.2L175 538.1L177.6 537.7L180.6 537.9L183.8 538.8L187.1 539.3L190 539.4L192.5 539.7L195.2 540.7L198.1 540.3L200.5 541.1L202.9 541.3L205.6 542.1L208.4 542.4L211 543.2L213.3 543.5L216.1 544L219.1 544.5L221.4 544.6L217.3 546.7L213 547.8L212 550.9L214.7 551.6L217.3 552L214.6 551.8L211.9 553L208.9 553L207.8 555.1L210.6 556.8L213 557.8L215.6 558.1L218 558.7L220.6 558.4L223.5 559.3L226.5 559.2L229.7 559.3L232.6 559.7L236.1 560.3L239 560.4L242.1 561.3L245.6 560.7L248.7 561.4L251.7 561.4L254.9 561.3L258.4 562.4L261.3 562L264 562L266.5 561.6L269.4 561.7L272.4 561.6L274.9 562L272 561.6L269.7 560.3L266.5 558.2L268.6 556.2L272.3 555.8L276 556.2L272.9 554.6L269.7 554.1L266 553.8L262.3 552.4L265.4 552.2L268 551.5L270.8 551.6L273.9 550.9L276.7 550.7L279.3 549.6L282.2 549.4L285.2 549.6L288 549.1L290.6 548.4L293.6 549L296 549.1L299 549.4L301.6 547.5L304.3 546.7L307.7 547L311.6 547.8L315 547.9L318.6 547.6L321.6 548.2L324 548.9L326.9 548.8L329.5 547.6L331.9 547.1L335.9 545.2L339.9 547.1L342.4 546.7L345 546.5L348 547.2L350.7 546.6L353.2 546.5L356 546.6L358.3 546.3L361.5 546.2L363.9 545.7L366.5 542.6L369.3 541.5L371.8 540.4L374.3 539.4L377.2 537.8L379.7 536.8L382.5 535.1L386.1 533.9L389.1 533L386.5 535.6L383.8 537.4L381.2 538.3L379.8 541.8L383.8 544.4L383.8 547.1L379.8 549.7L377.2 551.1L380 551.1L382.3 551.4L385.4 552.4L387.8 552.4L390.2 553L393.4 553.1L395.7 553.2L398.2 552.9L401.1 553.7L404 553.8L406.4 554L409 553.8L411.9 553L414.4 553.2L416.9 552.4L419.6 552.2L422.3 551.5L425.1 551.1L427.5 550.9L430.3 549.7L433.1 549.5L435.7 548.4L438.3 548.2L441 547L443.7 546.3L446.4 545L449 544.7L451.6 544.6L454.3 545.2L457.1 545.1L460.5 544.4M254 554.3L256 553.4L257.5 554.4L255.5 555.2L254 554.3M360 543.8L366 541.3L372 538.6" fill="none" stroke="#000" stroke-width="0.7" stroke-linejoin="round"/>
</g>
<g clip-path="url(#c2)">
<rect x="5.5" y="627.1" width="455" height="227.5" fill="#BEF064"/>
<path d="M-6.5 615C-48.1 618.9 -7.8 632 -6.5 635.4C-5.2 638.8 -0.5 635.4 1.5 635.4C3.5 635.4 1.5 635.3 5.5 635.4C9.6 635.5 18.1 635.9 25.8 636.2C33.5 636.5 43 636.9 51.6 637C60.2 637.1 68.8 637.1 77.4 637C86 636.9 94.6 636.6 103.2 636.2C111.8 635.9 121.2 635.3 129 634.9C136.8 634.5 142.2 634.2 150 633.6C157.8 633 167.2 631.7 175.8 631C184.4 630.3 193 629.8 201.6 629.2C210.2 628.7 220.5 628.1 227.4 627.7C234.3 627.3 237.6 628.1 243 626.8C248.4 625.5 260 622.5 260 620C260 617.5 287.4 612.8 243 612C198.6 611.2 35.1 611.1 -6.5 615Z" fill="#20B2AA"/>
<path d="M360 612C342.9 613.5 366.2 618.5 370 621C373.8 623.5 379.3 625.4 383 626.8C386.7 628.2 388.6 628.6 392 629.5C395.4 630.4 399.2 631.5 403.2 632.3C407.2 633.1 410.9 633.9 416.1 634.4C421.3 634.9 426.8 635.2 434.2 635.4C441.6 635.6 455.4 635.4 460.5 635.4C465.6 635.4 462.5 635.4 464.5 635.4C466.5 635.4 471.2 639.3 472.5 635.4C473.8 631.5 491.2 615.9 472.5 612C453.8 608.1 377.1 610.5 360 612Z" fill="#20B2AA"/>
<path d="M5.5 654.2C7.2 653.9 12.8 652.8 15.7 652.1C18.6 651.4 20.5 650.6 23.1 650C25.7 649.4 28.3 648.8 31.4 648.4C34.5 648 38.4 647.8 41.9 647.5C45.4 647.2 47.3 647.1 52.4 646.8C57.5 646.5 66 646.1 72.3 645.7C78.6 645.4 83 644.9 90.3 644.7C97.6 644.5 108.8 644.5 116.1 644.7C123.4 644.9 128.5 645.2 134.2 645.7C139.8 646.2 144.8 646.9 150 647.8C155.2 648.7 160.3 650.1 165.5 650.9C170.7 651.7 176.3 652.1 181 652.5C185.7 652.9 189.6 653.6 193.9 653C198.2 652.4 202.1 650.4 206.8 649.1C211.5 647.8 217.2 646.2 222.3 645.2C227.5 644.2 232.5 643.4 237.7 643.2C242.8 643 248 643.5 253.2 643.9C258.4 644.3 263.5 645.1 268.7 645.7C273.9 646.4 279.5 647 284.2 647.8C288.9 648.6 292.3 649.3 297.1 650.4C301.9 651.5 307.2 653.5 312.9 654.3C318.5 655.1 324.6 654.8 331 655C337.4 655.2 344.7 655.3 351.6 655.5C358.5 655.7 366.3 655.8 372.3 656.1C378.3 656.5 382.6 657.3 387.7 657.6C392.8 657.9 397.6 658.1 403.2 658C408.8 657.9 414.6 657.2 421 656.8C427.4 656.4 435.3 656.1 441.9 655.7C448.5 655.3 457.4 654.5 460.5 654.2L460.5 854.6 L5.5 854.6 Z" fill="#9ABE32"/>
<path d="M5.5 694.5C6.3 694.3 8.6 694 10.5 693.5C12.4 693 14.9 692.4 16.8 691.4C18.7 690.4 20.9 688.6 22 687.2C23.1 685.8 24.2 684 23.6 683C23 682 17.9 681.4 18.3 680.9C18.7 680.4 22.6 679.9 26.2 679.8C29.8 679.7 37.2 680.8 39.8 680.4C42.4 680 40.8 678.1 41.9 677.2C43 676.3 44.6 675.5 46.1 675.1C47.6 674.8 49.9 674.7 50.8 675.1C51.7 675.5 51.6 676.8 51.4 677.7C51.1 678.6 48.4 679.8 49.3 680.4C50.2 681 53.6 681.2 56.6 681.4C59.6 681.6 62.3 681.2 67.1 681.4C71.9 681.6 79.2 682.2 85.2 682.6C91.2 683 96.8 683.6 103.2 683.9C109.7 684.2 117 684.5 123.9 684.5C130.8 684.5 138 684.3 144.5 683.9C151 683.5 157.7 682.5 162.9 681.9C168.1 681.3 171.5 680.8 175.8 680.1C180.1 679.4 184.4 678.4 188.7 677.5C193 676.6 197.3 675.8 201.6 674.9C205.9 674 210.6 672.3 214.5 672.3C218.4 672.3 220.9 674.2 224.8 674.9C228.7 675.6 233.8 676.9 237.7 676.7C241.6 676.5 244.7 675 248.1 673.6C251.5 672.2 255.4 670 258.4 668.5C261.4 667 263.5 665.9 266.1 664.6C268.7 663.3 270.9 661.4 273.9 660.7C276.9 660.1 280.8 660.1 284.2 660.7C287.6 661.4 291.5 663.1 294.5 664.6C297.5 666.1 300.3 668.2 302.3 669.7C304.3 671.2 305.6 671.9 306.5 673.6C307.4 675.3 307.1 678 307.7 680.1C308.3 682.2 308.6 684.4 310.3 686.5C312 688.6 315.1 691.7 318.1 693C321.1 694.3 324.5 694.4 328.4 694.3C332.3 694.2 336.6 692.7 341.3 692.2C346 691.7 352.9 691.9 356.8 691.2C360.7 690.5 362.7 689.6 364.5 687.8C366.3 685.9 366.7 682.2 367.6 680.1C368.5 678 368.1 676.2 369.7 674.9C371.3 673.6 374.4 672.9 377.4 672.3C380.4 671.7 385.2 672.4 387.7 671.5C390.2 670.6 391.1 668.4 392.4 667.2C393.7 666.1 392.8 665.3 395.5 664.6C398.2 663.9 404.1 663.4 408.4 663C412.6 662.6 415.4 662.8 421 662.5C426.6 662.2 436.7 661.6 441.9 661.5C447.1 661.4 449.9 661.6 452.4 662C454.8 662.4 455.2 663.2 456.6 663.6C458 664 459.9 664.4 460.5 664.6L460.5 854.6 L5.5 854.6 Z" fill="#F5E6BE"/>
<path d="M441.9 683C442.1 681.8 443.7 680.6 445.1 679.8C446.5 678.9 448.6 678.2 450.3 677.9C452.1 677.5 453.9 677.9 455.6 677.7C457.3 677.5 458.9 676.9 460.5 676.7C462.1 676.5 463.5 676.5 465.5 676.5C467.5 676.5 471.3 673.3 472.5 676.5C473.7 679.7 473.7 692.4 472.5 695.6C471.3 698.8 467.5 695.6 465.5 695.6C463.5 695.6 462.3 695.4 460.5 695.6C458.7 695.8 456.4 696.7 454.5 696.6C452.6 696.5 450.5 695.9 449.3 695C448.1 694.1 448.1 692.7 447.2 691.4C446.3 690.1 444.9 688.6 444 687.2C443.1 685.8 441.7 684.2 441.9 683Z" fill="#9ABE32"/>
<path d="M5.5 789.6C7.2 789.6 12.1 789.1 15.5 789.6C18.9 790.1 22.8 792.9 25.8 792.7C28.8 792.5 30.9 789.5 33.5 788.3C36.1 787.1 38.3 785.9 41.3 785.7C44.3 785.5 47.7 786.1 51.6 787C55.5 787.9 60.2 789.9 64.5 790.9C68.8 791.9 73.1 792.3 77.4 792.7C81.7 793.1 86 793.6 90.3 793.5C94.6 793.4 98.9 792.9 103.2 792.2C107.5 791.6 111.8 790 116.1 789.6C120.4 789.2 124.3 789.2 129 789.6C133.7 790 141 791.1 144.5 792.2C148 793.3 146.9 795.2 150 796.1C153.1 797 158.6 796.9 162.9 797.9C167.2 798.9 171.5 801 175.8 802C180.1 803 184.4 803.4 188.7 803.8C193 804.2 197.3 804.3 201.6 804.6C205.9 804.9 210.2 805.2 214.5 805.6C218.8 806 223.1 806.9 227.4 807.2C231.7 807.5 236 807.6 240.3 807.2C244.6 806.8 248.9 805.6 253.2 804.6C257.5 803.6 261.8 802.1 266.1 801.2C270.4 800.3 274.3 799.7 279 799.4C283.7 799.1 289.3 799.1 294.5 799.4C299.7 799.7 305.9 800.2 310.3 801.2C314.7 802.2 317.2 804.2 320.6 805.6C324.1 807 327.1 808.7 331 809.7C334.9 810.7 339.6 811.2 343.9 811.5C348.2 811.8 352.5 811.7 356.8 811.5C361.1 811.3 365.4 810.8 369.7 810.3C374 809.8 379 809 382.6 808.2C386.2 807.4 389.4 807 391.6 805.6C393.8 804.2 394.1 801.6 396 799.9C397.9 798.2 400.3 796.6 403.2 795.3C406.1 794 409.6 792.9 413.5 792.2C417.4 791.5 422.2 791 426.5 790.9C430.8 790.8 435.5 791.7 439.4 791.7C443.3 791.7 446.2 791.2 449.7 790.9C453.2 790.5 458.7 789.8 460.5 789.6L460.5 854.6 L5.5 854.6 Z" fill="#9ABE32"/>
<path d="M71 702.5C71.3 701.6 72.8 700.3 74 699.5C75.2 698.7 76.6 698 78.4 697.5C80.2 697 83.3 696.7 85 696.3C86.7 695.9 87.5 695.4 88.5 695C89.5 694.6 89.9 694.4 91 694.2C92.1 694 94 693.8 95 694C96 694.2 96.5 694.7 96.8 695.3C97.1 695.9 97.3 696.6 97 697.5C96.7 698.4 95.3 699.6 95 700.5C94.7 701.4 95.8 702.2 95.3 703C94.8 703.8 93.5 704.9 92 705.5C90.5 706.1 88 706.3 86 706.5C84 706.7 81.8 706.7 80 706.6C78.2 706.5 76.3 706.3 75 706C73.7 705.7 72.7 705.4 72 704.8C71.3 704.2 70.7 703.4 71 702.5Z" fill="#DEB887"/>
<path d="M95.5 695.5C96.1 695.3 97.8 695.8 99 696.2C100.2 696.6 102 697.3 102.5 697.8C103 698.3 102.7 699.3 102 699.3C101.3 699.3 99.6 698.3 98.5 698C97.4 697.7 96 697.7 95.5 697.3C95 696.9 94.9 695.7 95.5 695.5Z" fill="#DEB887"/>
<path d="M100.5 697.2C100.4 696.8 102.7 698.3 104 699.3C105.3 700.3 106.9 702.7 108.4 703C109.9 703.3 111.5 701.6 113 701.2C114.5 700.8 113.8 701 117.1 700.5C120.4 700 127.4 699.2 132.6 698.4C137.8 697.6 143.8 696.4 148.1 695.8C152.4 695.1 155 695.4 158.4 694.5C161.8 693.6 165.3 691.8 168.7 690.6C172.1 689.4 175.7 688.3 179 687.5C182.3 686.7 186 686.2 188.7 686C191.4 685.8 193.2 686.1 195.2 686.1C197.2 686.1 199.3 685.9 200.8 686.3C202.3 686.7 203.3 687.5 204.2 688.5C205 689.5 206 691.3 205.9 692.5C205.8 693.7 204.4 694.8 203.6 695.9C202.8 697 200.9 698.2 200.8 699.3C200.7 700.4 202.5 701.3 203.1 702.7C203.7 704.1 203.4 706.3 204.2 707.7C204.9 709.1 207 709.8 207.6 711.1C208.2 712.4 208 714.2 207.6 715.6C207.2 717 206.6 718.5 205.3 719.6C204 720.7 201.4 721.5 199.7 722.4C198 723.2 196.7 724.5 195.2 724.7C193.7 724.9 192.5 723.9 190.6 723.5C188.7 723.1 186.2 722.4 183.9 722.4C181.7 722.4 179 723.7 177.1 723.5C175.2 723.3 174.3 721.9 172.6 721.3C170.9 720.6 169 720.1 166.9 719.6C164.8 719.1 162.3 718.8 160 718.5C157.7 718.2 155 718.3 153 717.8C151 717.3 149.7 716.4 148 715.5C146.3 714.6 145 712.8 142.9 712.6C140.8 712.4 138.2 714.4 135.2 714.4C132.2 714.4 128.2 712.7 124.8 712.6C121.4 712.5 117.6 713 115 714C112.4 715 110.9 717.4 109 718.5C107.1 719.6 105.3 720.7 103.8 720.7C102.3 720.7 100.6 719.2 100.2 718.4C99.8 717.6 100.6 716.8 101.6 715.8C102.6 714.8 104.5 713.6 106 712.5C107.5 711.4 109.7 710.2 110.3 709C110.9 707.8 110.6 706.2 109.6 705C108.6 703.8 106 702.8 104.5 701.5C103 700.2 100.6 697.6 100.5 697.2Z" fill="#DEB887"/>
<path d="M93.4 778C93.4 776.5 99.4 773.4 103.2 771.5C107 769.6 111.8 767.9 116.1 766.4C120.4 764.9 125.1 763.6 129 762.5C132.9 761.4 136.8 760.8 139.4 759.9C142 759 141.9 757.7 144.5 757.4C147.1 757.1 152.2 758.3 154.8 758.1C157.4 757.9 157.9 756.8 160.3 756.1C162.7 755.4 165.5 754.4 169.4 754C173.3 753.6 180.3 753 183.5 754C186.7 755 186.8 757.6 188.7 759.9C190.6 762.2 193.3 765.1 195.2 767.7C197.1 770.3 197.9 773.9 200.3 775.4C202.7 776.9 207 776.1 209.4 776.7C211.8 777.4 214.7 778.3 214.5 779.3C214.3 780.2 210.7 781.5 208.1 782.4C205.5 783.3 202.2 783.7 199 784.5C195.8 785.3 192.1 786.7 188.7 787C185.3 787.3 182.3 786.9 178.4 786.5C174.5 786.1 170.2 785.2 165.5 784.5C160.8 783.8 155.2 782.8 150 782.4C144.8 782 139.4 782.1 134.2 781.9C129 781.7 123.9 781.6 118.7 781.4C113.5 781.2 107.4 781.2 103.2 780.6C99 780 93.4 779.5 93.4 778Z" fill="#DEB887"/>
<path d="M257.9 682.6C257.9 680.7 258.8 677.9 261 676.2C263.2 674.5 267.4 672.9 271.3 672.3C275.2 671.6 280.9 671.2 284.2 672.3C287.5 673.4 290 676.4 291.4 678.8C292.8 681.2 293.3 683.9 292.5 686.5C291.7 689.1 289.3 692.5 286.8 694.3C284.3 696.1 280.7 697.4 277.7 697.4C274.7 697.4 271.5 695.9 268.7 694.3C265.9 692.7 262.8 689.8 261 687.8C259.2 685.8 257.9 684.5 257.9 682.6Z" fill="#DEB887"/>
<path d="M217.6 778C217.8 777 222.3 776.7 224.8 776.7C227.3 776.7 230.2 778.6 232.6 778C235 777.4 236.4 774 239 772.8C241.6 771.6 245.3 771.2 248.1 771C250.9 770.8 253.7 770.8 255.8 771.5C257.9 772.2 260.8 774.1 261 775.4C261.2 776.7 259 778.3 257.1 779.3C255.2 780.3 250.3 780.3 249.4 781.4C248.5 782.5 252.3 784.4 251.9 785.7C251.5 787 249.2 788.9 246.8 789.1C244.4 789.3 240.5 787.8 237.7 787C234.9 786.2 232.4 785.3 230 784.5C227.6 783.7 225.6 783.5 223.5 782.4C221.4 781.3 217.4 779 217.6 778Z" fill="#DEB887"/>
<ellipse cx="422.3" cy="674.9" rx="7.7" ry="3.7" fill="#DEB887" transform="rotate(-12 422.3 674.9)"/>
<ellipse cx="221.2" cy="763.2" rx="3.6" ry="2" fill="#DEB887"/>
<path d="M83.1 668.5C82.9 666.8 84 664.3 86 663C88 661.7 91 661 95 660.5C99 660 106 660 110 660.2C114 660.4 116.9 660.7 119 661.5C121.1 662.3 122.4 663.8 122.6 665C122.8 666.2 120 667.3 120 668.5C120 669.7 122.8 670.8 122.6 672C122.4 673.2 121.4 675.2 119 676C116.6 676.8 112 676.7 108 676.7C104 676.7 98.5 676.5 95 676C91.5 675.5 89 674.8 87 673.5C85 672.2 83.3 670.2 83.1 668.5Z" fill="#BEF064"/>
<path d="M229.5 823.7C232.5 822.9 243.3 822.5 248.1 821.1C252.9 819.7 254.5 816.9 258.4 815.4C262.3 813.9 266.6 813.1 271.3 812.3C276 811.5 284 810.6 286.8 810.8C289.6 811 290.2 812.3 288.1 813.4C286 814.5 278.8 816.1 273.9 817.5C268.9 818.9 263.1 820.6 258.4 821.9C253.7 823.2 250.2 824.6 245.5 825.2C240.8 825.8 232.7 826 230 825.7C227.3 825.5 226.5 824.5 229.5 823.7Z" fill="#BEF064"/>
<path d="M389 820.6C389 819.2 392.3 817.6 395.5 816.7C398.7 815.8 404.8 815.4 408.4 815.4C412 815.4 414.8 817.4 417.4 816.7C420 816.1 421.1 813.1 423.9 811.5C426.7 809.9 430.3 808.1 434.2 807.2C438.1 806.3 442.7 806 447.1 805.9C451.5 805.8 457.4 806.3 460.5 806.4C463.6 806.5 463.5 806.4 465.5 806.4C467.5 806.4 471.3 805.3 472.5 806.4C473.7 807.5 473.7 811.7 472.5 812.8C471.3 813.9 467.5 812.8 465.5 812.8C463.5 812.8 463.6 812.4 460.5 812.8C457.4 813.2 451.5 814.5 447.1 815.4C442.7 816.3 438.5 817.4 434.2 818C429.9 818.6 424.1 818.4 421.3 819.3C418.5 820.2 420 822.1 417.4 823.2C414.8 824.3 409.4 825.4 405.8 825.7C402.2 826 398.3 826.1 395.5 825.2C392.7 824.4 389 822 389 820.6Z" fill="#BEF064"/>
<ellipse cx="238" cy="662.6" rx="8" ry="4.5" fill="#BEF064"/>
<ellipse cx="29.7" cy="818.4" rx="7.7" ry="4.3" fill="#BEF064"/>
<ellipse cx="104.1" cy="803.4" rx="12.5" ry="3" fill="#BEF064"/>
<ellipse cx="165" cy="829" rx="18.5" ry="3.5" fill="#BEF064"/>
<ellipse cx="6.5" cy="808.5" rx="2" ry="1.6" fill="#BEF064"/>
<ellipse cx="163.5" cy="711.2" rx="2.8" ry="3.4" fill="#F5E6BE"/>
<ellipse cx="59.7" cy="664.2" rx="9.5" ry="3" fill="#F5E6BE"/>
<ellipse cx="28" cy="793.5" rx="5" ry="1.6" fill="#F5E6BE" transform="rotate(10 28 793.5)"/>
<ellipse cx="332" cy="785.7" rx="6.5" ry="1.7" fill="#9ABE32" transform="rotate(12 332 785.7)"/>
<ellipse cx="361" cy="789" rx="6.2" ry="2" fill="#9ABE32" transform="rotate(5 361 789)"/>
<ellipse cx="373" cy="778" rx="0.8" ry="3" fill="#9ABE32" transform="rotate(15 373 778)"/>
<path d="M453 695.6L458 696.5L460.5 695.3M5.5 695.3L6.8 694.7L9.3 694.3L14.3 694.1L18.1 693.7L19.4 694.1L18.8 696L18.1 697.9L19.4 698.9L21.9 699.3L24.8 700L27 701.7L29.5 702.6L30.8 701.7L30.8 699.8L33.3 699.3L37.1 700.9L42.2 701.8L44 701.2L46.3 701.4L46.6 702.9L47.8 705.5L48.5 706.7L50.4 710.5L52.3 714.3L52.5 716.1L54.2 718.1L55.4 721.3L57.3 722.5L59.2 724.4L60.2 725.1L59.8 726.3L61.1 727.6L64.9 726.7L67.4 726.6L70.2 725.9L70 727.6L68.7 730.7L67.4 733.3L66.2 735.2L63.6 737.7L62.8 738.3L59.8 740.9L58 742.7L56.7 744L55.4 746.5L54.8 749.1L55.4 751L56.1 754.1L56.7 756.6L56.9 759.8L54.8 762.3L52.3 763.6L49.7 766.1L50.4 768.7L50.4 771.2L47.2 773.1L47 776.2L44.7 778.8L43.4 780.7L40.9 782.6L38 783.8L33.3 784.1L30.8 784.8L28.9 784.2L28.2 781.9L27 778.8L26.4 776.9L24.5 774.3L23.8 769.9L21.9 766.1L20.4 763L20.7 760.4L22.6 756.6L22.6 754.1L21.9 752.2L21 748.4L20.7 747.2L19.4 745.7L17.5 744L16.9 741.7L17.5 740.2L17.5 738.3L17.9 736.4L16.9 735.2L16.2 735.2L14.3 735.3L13.1 735.4L11.8 733.9L9.9 732.8L7.4 733L5.5 733.8L5.5 733.8M460.5 733.8L458 734.8L456.1 734.4L454.2 734.4L451 735.3L449.1 734.5L446.8 732.9L444.7 731.4L443.7 730.1L443.2 728.8L441.5 726.9L439.4 725.3L439.3 723.8L438.4 722.3L439.6 720.6L439.9 718.1L440.2 716.2L439 714.3L440.3 711.8L441.5 709.9L442.2 708L444.1 705.8L446.6 704.5L447.9 703.6L448.2 702.3L448.1 701L449.1 699.5L451 698.4L452.3 697.2L453 695.6M67.8 756L69.1 760.4L68.1 763L66.8 766.1L65.5 769.9L64.9 772.4L62.4 773.1L61.1 771.8L60.5 769.3L61.5 766.1L61.1 763.6L61.7 761.5L64 760.7L66.2 757.9L67.8 756M45.9 740.5L48.5 740.6L48.7 742.1L47.8 744L45.9 744L45.6 742.1L45.9 740.5M42.5 745.1L43 747.2L43.8 749.7L44.7 751.8M48.7 753L49.2 755.4L49.6 758.8M453.7 695.2L452.5 694.7L451.7 693.8L450.5 694.1L449.1 694.1L449.4 692.9L449.4 692.3L448.5 691.8L449.3 690.3L449.5 689L449.4 687.8L448.9 686.4L450.4 685.6L453.2 685.7L455.7 685.9L458.2 686L459 684.4L459 682.7L457.7 681.2L456.7 680.7L454.8 680.3L454.4 679.7L456.1 679.2L458 679.4L458.5 679.3L458.5 678L459.1 678.4L460.5 678.3M5.5 678.3L5.6 678.3L7.4 677.5L7.5 676.5L9.3 676L10.6 675.1L11.6 673.9L13.1 673.4L14.3 673.1L16.2 672.9L16.6 672L16 670.7L15.7 669.4L16.4 668.7L18.8 667.9L18.5 669.4L18.1 670.7L17.9 671.6L19.1 672.6L20.7 672.3L22.6 672.1L23.6 672.7L25.7 672.2L28.9 671.7L30.5 672.1L32 671.1L32 669.4L32.7 668.3L33.9 667.9L35.2 668.8L35.8 668.8L36.2 667.5L35.2 666.7L35.2 666L37.1 665.6L40.9 665.5L43.4 665.1L42.2 664.6L39.6 664.4L37.1 664.8L34.6 665.1L32.7 664.4L32.4 663.1L32.3 661.9L33.3 660.6L35.8 659.3L37.5 658.3L36.5 657.8L33.6 657.8L32.4 659L31.4 660.3L28.9 661.5L27.4 662.9L27.2 664.1L28.9 665L29.3 665.9L27 666.8L26.4 668.2L25.7 669.8L23.8 670.1L23.4 670.8L21.9 670.8L21.4 669.8L20.4 668.2L19.7 666.5L18.9 665.6L17.9 666.3L15.9 667.4L14.3 667.5L12.6 666.5L11.8 665L11.8 663.5L11.9 662.5L13.7 661.5L16.2 660.6L18.1 660L20 658.7L21.3 657.4L22.6 656.2L24.5 654.9L26.4 653.9L28.2 653L30.8 652.4L33.3 652L36.5 651.1L38.1 651L40.9 651.1L44.7 651.9L43.4 652.8L47.2 653.1L51 653.5L53.5 654.5L56.7 655.5L57.7 656.5L56.1 657.3L53.5 657.3L49.7 656.8L47.2 656.5L46.6 656L49.1 658.1L49.7 659.6L52.3 660.1L53.5 659.5L56.1 659.1L56.1 657.7L58.6 656.8L61.1 657.2L61.1 655.8L61.4 654.3L63.6 654.9L64.3 656.2L66.2 655.3L71.2 654.3L73.8 654.7L77.5 654.1L80.1 653.6L82 652.6L86.4 653.3L88.9 653.6L91.4 654.3L90.2 653L90.2 651.1L91.4 648.8L94 648.2L97.1 648.8L97.1 651.1L96.5 653.6L98.4 655.5L96.5 657.1L99 655.5L99 653.6L97.8 651.1L99.7 648.8L101.6 649.9L104.1 649.6L107.2 649.2L107.9 650.5L110.4 651.7L110.4 650.1L107.9 648L115.5 646.1L119.2 645.3L125.6 644.7L131.9 644.2L137.3 642.6L140.7 643.5L147.1 644.2L149.6 645.2L149 646.7L144.5 647.3L140.7 648.2L147.1 647.7L149.6 647.8L155.9 648.5L161 648L166 648L169.2 649.2L168.5 651.1L172.3 650.5L176.1 650.4L179.9 650.5L182.4 649.2L183.7 648.8L188.8 649.5L195.1 650.4L198.2 651.2L203.9 651.1L207.7 652.4L209 653L212.8 652.8L217.8 652.5L221 652.4L221 653.6L224.2 652.6L227.9 652.8L233 653.9L236.8 654.5L240.6 655.9L243.7 656.4L246 657.3L243.7 658.3L242.5 659.3L240.6 659.3L238.1 658.2L234.9 657.2L233.6 658.4L230.5 659.1L231.7 661L232.1 662.1L227.9 662.7L224.2 663.8L221 665L216.6 664.6L213.4 665.1L212.1 666.5L210.9 667.7L211.9 669.8L210.9 671.6L207.7 673.6L206.1 674L204.8 675.8L203.6 676.5L202.7 675.1L202.3 672.6L202.3 670.1L203.9 667.8L207.1 665.6L210 664.4L212.1 662.9L211.5 661.9L208.4 662.9L206.5 662.7L203.9 663L201.4 665.6L198.9 666.3L196.1 665.6L193.2 665.9L189.4 665.9L186.2 665.9L183.1 667.5L179.9 669.4L176.8 671.6L178.7 672.6L180.5 672.9L182.4 673.2L184.1 673.9L183.7 675.1L183.1 677L182.8 678.9L181.2 681.1L179.3 683.3L176.8 685.2L174.2 686.6L172.3 686.2L170.8 687.1L169.6 688.4L169.2 689.4L167.3 690.3L166.6 691.2L167.9 692.2L169 694.1L169.2 695.6L168.5 696.5L166.6 697L165.3 697.2L165.4 695.6L165.4 694.1L163.5 693.1L163.5 691.9L163.9 690.9L162.7 690.3L160.3 690.9L158.7 691.8L159.4 689.9L159.4 689.2L157.2 690.3L155.9 691.3L154.4 691.6L155.3 692.8L155.9 693.7L157.8 693.2L160.3 693.7L158.4 694.7L156.5 696.2L157.2 697.9L158.4 699.8L159.6 701L158.4 702.3L159.7 703.1L159.1 704.8L157.8 706.7L156.5 708.6L154.6 709.9L152.7 711.5L149.8 712.7L148.3 713L145.8 713.7L145.2 715.2L144.3 713.7L142.6 713.4L140.7 714.3L139.2 716.5L140.1 718.4L141.4 720L142.6 720.9L143.6 723.8L143.6 725.7L142 727.2L140.7 727.8L139.5 728.8L138 730L138.2 728.2L136.9 727.6L135.7 726.7L134.8 725.4L133.2 724.8L132.5 723.8L131.9 725.1L131.3 726.9L131 729.1L131.9 730.1L132.5 731.8L134.2 732.6L135.7 733.9L136.3 735.8L136.3 737.7L137.2 739.1L136.2 739.1L133.8 737.4L132.5 735.2L132.3 733.3L131.3 731.8L130 730.7L130 728.8L130.2 726.9L130 725.1L129.4 723.2L128.9 720.4L127.5 719.6L125.9 720.9L124.7 720.6L124.9 718.7L124.3 716.8L123 715.6L121.8 713.7L121.4 712.4L119.9 712.4L118 713.3L116.1 713.6L115.5 714.7L114.8 715.6L112.9 716.5L111.7 717.7L109.5 719.5L108.1 720.6L107 721.6L106.7 723.8L106.4 726.3L106.4 727.8L105.3 729.1L104.3 729.6L103.5 730.6L102.2 729.5L101.6 727.6L100.7 725.7L99.9 723.8L99 721.9L98 719.4L97.5 716.8L97.4 714.9L97.3 713.7L97.1 712.8L96.5 714.3L95.2 714.6L94 714.3L92.7 712.7L94 712.2L92.7 711.8L91.7 710.9L90.6 709.9L89.9 709.5L89.5 708.7L87 709L83.9 709.1L81.3 708.9L78.2 708.5L77.5 707L76.7 706.6L74.8 707.4L73.1 707L71.9 706.1L70.3 705.5L69.7 704.2L68.7 702.8L67.4 702.4L66.8 702.9L66.2 703.6L67.1 705.1L68.1 706.3L68.9 707.4L68.9 708.6L69.7 709.5L70 708.1L70.6 707.9L70.7 709.3L70.3 709.9L71.2 710.4L73.8 710.3L75.4 708.9L76.7 707.6L76.8 709.3L77.3 710.1L79.4 711L81.1 712.4L79.7 714.9L78.6 716.8L77.9 717L76.7 718.2L75 719.4L73.8 719.4L71.5 720.6L68.7 721.9L66.8 723.2L64.3 723.9L62.4 724.7L60.5 724.9L59.8 723.2L59.6 721.3L59.2 719.4L57.3 716.8L55 713.7L53.9 711.1L52.5 709.3L51 707.4L49.7 705.5L49.5 703.6L48.9 705.7L47.2 704.5L46.7 702.9L46.3 701.4L48.7 701.3L49.6 699.8L49.9 699.1L50.4 698L50.9 696.6L51 695.4L51.3 694.6L49.7 694.5L48.5 695L46.6 695.2L44.3 694.3L42.8 695.1L41.1 694.5L40 694.1L39.9 692.8L39 692.4L39.4 691.6L38.6 690.9L38.6 690.2L39.6 689.8L42.2 689.7L42.8 689.3L42.2 688.9L41.5 689L40.3 689.2L39.4 689.5L38.6 689.9L38.4 689.4L37.7 689.2L35.8 689.3L36.3 690L35.6 690.3L34.4 689.7L34.6 691.6L35.8 692.6L35.2 692.8L34.8 693.5L34.6 694.7L33.9 694.7L32.9 694.3L32.4 693.8L32.4 692.4L32 691.8L30.8 690.7L30 689.7L30 688L28.2 687L26.2 685.9L24.7 685L23.8 683.6L22.7 684L22.7 683.1L21 683.6L21.3 685L22.6 685.7L23.2 686.9L24.5 687.8L26 687.9L25.7 688.4L27 689L28.8 689.8L28.9 690.3L27 689.7L26.5 690.7L27.1 691.6L26.4 692.3L25.3 692.8L25.7 691.6L25.2 690.3L23.6 689.3L22.9 688.8L21.3 688.4L20.4 687.8L18.8 686.6L18.4 685.4L16.7 684.7L15 685.5L13.7 686.4L12.3 686.1L10.6 685.9L9.3 686.2L9.5 687.4L8.3 688.5L6.5 689.4L5.5 690.5M460.5 690.5L460.1 690.9L460.5 691.5M5.5 691.5L5.8 691.9L5.5 692.2M460.5 692.2L459.6 693.3L457.7 694.5L454.9 694.5L453.7 695.2M42.2 688.8L43.4 688.8L45.3 688.8L47.2 687.8L49.7 687.8L51.6 688.7L53.5 689L55.7 689L58 688.4L58.1 687.5L57.3 686.5L55.7 685.9L53.5 684.7L52.3 684.2L51.9 683.6L52.9 682.7L54.2 681.8L55.2 681.2L53.5 681.3L51.6 681.8L49.7 682.5L49.7 683.1L51.5 683.5L50.2 684L49.1 684.5L47.8 684.6L47.7 683.7L46.6 683.5L48 682.6L45.9 682.3L45.3 682L44.3 682.1L43.2 683.3L42.2 684.4L41.6 685.5L40.9 686.2L40.5 687.1L41.1 688.1L42.2 688.8M67.4 682.1L65.5 683.3L64.9 684.6L65.5 686.5L66.8 688L68.1 689.5L67.4 691.6L67.4 693.3L69.3 694.1L71.2 694.5L73.8 694.2L73.5 692.2L72.5 690.9L72.2 689.7L72.2 688.4L73.8 688L71.9 687.4L70 685.9L69.3 684.6L70.6 684L72.5 683.6L72.5 681.8L70 681.4L67.4 682.1M79.4 682.1L81.3 682.3L83.2 682.1L83 683.7L81.7 685.2L80.1 685.9L79.2 685.2L79.2 683.3L79.4 682.1M136.6 675.8L138.2 675.4L140.1 674.5L142 673.2L143.9 671.3L144.3 670.3L143.3 671L141.4 673L139.5 674.1L137.6 675.1L136.6 675.8M98.4 683.6L99.7 682.3L101.6 681.7L103.5 682.1L105.3 682M44 665L45.9 664.6L47.2 663.8L44.7 663L43.4 663.8L44 665M49.7 663.8L51.3 663L50.4 661.9L49.1 662.5L49.7 663.8M453.3 677.5L456.1 677.3L458.6 676.8L460.5 676.5M5.5 676.5L7.1 676.3L7.4 674.4L5.9 673.9L5.5 673.1L5.5 673.1M460.5 673.1L460.1 672L458.6 671.3L458 670.1L456.7 669.8L458 668.2L455.4 668.1L456.7 666.8L454.2 666.8L453.2 668.2L452.7 669.3L453.5 670.7L454.4 671.3L456.1 671.5L456.5 672.6L456.7 673.4L454.8 673.5L455.2 674.5L453.9 675.4L456.1 675.8L457 675.8L455.2 676.1L453.3 677.5M452.9 674.9L452.7 673.5L453.4 672L452.3 671.1L450.4 671.1L449.8 672L447.9 672.3L447.9 673.4L448.5 674.2L447.5 675.1L448.2 675.8L450.4 675.4L452.9 674.9M429.5 658.1L432.7 656.9L435.2 657.8L437.8 657.2L440.3 656.8L442.2 657.2L443.3 658.4L442.2 659.5L439.6 660.2L436.7 660.7L434.6 660.5L431.9 660.1L432.7 659.5L430.2 658.8L432.1 658.3L429.5 658.1M15.9 688.8L17.5 688.8L17.8 691.3L16.2 691.6L15.9 688.8M16.4 686.6L17.5 686.5L17.4 688.5L16.6 688.3L16.4 686.6M21.3 692.8L25.2 692.6L24.7 694.5L21.3 693.3L21.3 692.8M35.2 696L38.7 696.2L38.6 696.6L35.3 696.4L35.2 696M46.3 696.6L49.1 695.9L48.5 696.7L46.7 697L46.3 696.6M19.4 640.4L23.2 640L27 639.7L30.8 640L32.7 641.4L29.5 641.9L28.9 642.9L27 644L23.8 643.2L21.9 642L19.4 641L19.4 640.4M28.2 639.5L34.6 639.1L39.6 639.6L37.1 640.6L30.8 640.4L28.2 639.5M32 641.6L35.2 642L33.3 643L32 641.6M70.6 651.1L73.1 651.4L78.2 651.5L75.6 649.9L76.3 648.2L78.8 647.1L82.6 645.7L87.7 644.4L92.1 643.7L88.9 643.5L82.6 644.4L77.5 645.7L75 647.3L73.1 648.6L71.2 649.9L70.6 651.1M62.4 639L68.7 638.7L71.2 639.4L64.9 639.5L62.4 639M73.8 638.5L78.8 638.1L83.9 638.7L77.5 639.1L73.8 638.5M81.3 639.4L87.7 638.9L85.1 639.6L81.3 639.4M125.6 640.8L131.9 640L136.9 641L131.9 642L126.8 641.6L125.6 640.8M121.8 639.7L128.1 638.2L130.6 639.4L124.3 640L121.8 639.7M135.7 641.9L139.5 641.9L137.6 642.5L135.7 641.9M178.7 645.7L182.4 644.7L188.8 645.4L195.1 645.8L190 646.3L182.4 646.3L178.7 645.7M182.4 647.6L186.9 648.1L183.7 648.3L182.4 647.6M231.1 650.9L234.3 650.5L236.2 651.1L233 651.4L231.1 650.9M92.7 648.2L95.2 648L94 648.6L92.7 648.2M185 672.2L186.2 673.9L186.6 675.8L186.9 677.7L188.1 678.9L186.2 680.8L186.9 681.8L186.9 682.7L185 682.7L185 680.8L185 678.3L184.7 676.4L184.6 674.5L185 672.2M184.8 683.3L186.9 684.9L189.1 684.9L189.4 686.1L187.5 686.5L186.6 687.8L184.3 687.1L182.8 687.4L182.4 688.4L183.7 688L182.8 686.2L184.1 686.1L184.6 684.6L184.8 683.3M184.1 688.5L184.3 689.7L185 690.9L184.3 692.4L183.7 694.1L183.3 695.4L183.5 695.7L182.4 696.4L182.2 696.6L181.9 696L181.2 696.6L180.8 697L180.2 697L178.7 697L178.4 697.4L177.4 698.5L176.1 697.9L176.5 697L174.9 697.1L173 697.5L171.1 697.9L171.1 697.2L172.3 696.4L173.8 696L175.5 695.9L177.1 695.9L177.4 695L178.3 694.1L179 693.5L178.7 694.3L180.5 693.6L181.7 692.4L182.4 690.9L182.4 689.7L182.8 688.9L184.1 688.5M171.1 698L172 698.5L172.3 699.4L171.7 701L170.7 701.7L170.1 700.4L169.6 699.5L169.6 698.5L170.4 698.1L171.1 698M173 697.9L175.1 697.5L175.7 698.1L175.1 698.8L173.6 699.4L172.7 698.8L173 697.9M190.4 684.9L191.7 684.1M192.6 683.6L193.8 682.8M195.1 682.3L196.3 681.6M197.6 680.8L198.9 680.1M201.4 677.8L202.7 677M166.8 707.7L167.8 707M168.7 705.5L169.7 704.7M169.9 702.9L170.9 702.2M162.3 710.3L163.4 709.5M159.1 708.9L159.7 709.9L158.8 712.2L158.2 713L157.3 711.8L157.8 710.1L159.1 708.9M144.5 715.6L145.8 716.1L145.2 717.5L143.9 717.8L142.9 716.8L143.5 715.8L144.5 715.6M106.6 728.5L108.1 730.1L108.9 731.8L108.5 732.9L107.2 733.4L106.4 732.3L106.4 730.7L106.6 728.5M157.9 717.5L159.9 717.5L160.1 719.4L159.2 720.6L159.3 722.1L160.7 722.9L162.2 723.4L162.3 724.9L161 724.4L160.3 723.4L158.8 723.7L157.9 722.9L158.3 722.4L157.2 721.9L156.9 720.2L157.5 719.9L157.7 718.7L157.9 717.5M164.1 728.5L165.1 730.1L165.4 732L165 732.9L164.1 733.8L163.9 732.6L164.2 732L162.5 733L162 731.4L159.9 732L159.9 730.7L161.6 730L162.9 730.1L163.5 729.5L164.1 728.5M162.6 725.1L163.9 725.1L164.4 726.8L163.5 728L163.1 726.6L162.6 725.1M159.7 725.9L161 726.3L161.2 727.6L161.3 729.1L160.3 728.8L160.5 727.6L159.7 727.6L159.7 725.9M153.6 730.1L155.3 728.7L156.5 726.6L156.3 727.8L154.6 729.6L153.6 730.1M157.7 723.9L158.9 724L158.8 725.3L158.2 724.8L157.7 723.9M143.3 739L143.9 738.3L145.8 738.7L146.2 737.4L148.3 736.8L149.6 735.2L150.8 734.5L152.1 732.9L153.1 732L154.3 732.9L156.2 734.2L155.3 735.2L154.3 735.8L154.6 737.7L155.9 739.6L154.4 739.8L154 741.5L152.7 742.7L152.5 744.6L152.1 745.9L150.3 746L150.2 745.1L148.3 745L146.8 745.3L144.9 744.6L144.5 742.7L143.5 741.5L143.3 740.2L143.3 739M125.9 733.8L128.7 734.3L130.2 736L132.3 737.7L133.8 738.6L135.7 740.2L136.7 742.1L137.6 743.8L139.5 745L139.2 748.2L137.6 748.2L134.8 745.9L132.5 742.7L130.6 740.2L130 738.6L128.1 736.7L126.6 734.8L125.9 733.8M138.5 749.4L140.1 748.4L142.6 749.1L145.2 749.1L145.8 748.9L147.9 749.6L150.1 750.6L150.2 751.8L147.1 751.3L144.5 751L142 750.7L140.1 750.2L138.5 749.4M150.8 751.2L151.7 751.3L151.5 752L150.8 751.6L150.8 751.2M152.1 751.3L153 751.5L152.7 752.1L152.1 752L152.1 751.3M153.1 751.5L154.6 751.1L155.9 751.5L155.3 752L153.4 752.2L153.1 751.5M156.9 751.5L158.4 751.3L161 751.2L160.7 751.8L158.4 752.1L156.9 752L156.9 751.5M155.9 752.9L158.2 753.4L157.4 753.9L155.9 752.9M161.6 753.9L163.5 752.5L166 751.5L165.4 752.2L163.5 753.2L162.2 753.9L161.6 753.9M156.9 739.8L158.2 739.2L161 739.7L163.5 738.8L162.6 740.3L161 740.3L158.4 740.2L157.2 741.5L158.4 742.1L161.3 742L159.4 743.3L158.8 743.4L160.1 745L161 745.9L161 747.5L159.7 746.9L159.1 745.9L158.2 744.3L157.5 745.9L157.7 747.8L156.5 747.8L156.5 745.3L155.6 744.3L156.3 742.5L156.9 739.8M166.6 738.3L167.3 739.6L168.2 739L167.3 740.5L167.9 741.9L167 741.2L166.6 739.8L166.6 738.3M167.3 744.6L169.2 744.4L170.8 745L169.8 745.5L167.9 745.3L167.3 744.6M164.8 744.9L166 744.9L165.8 745.7L164.9 745.5L164.8 744.9M171.1 741.9L173 741.4L174.9 741.9L175.5 744L176.1 745L178 743.6L179.9 742.9L183.3 744.1L185.6 744.9L188.1 745.7L189.8 747.2L191.9 748.4L191.3 749.4L192.6 751L194.5 752.9L196 753.9L194.8 754.1L192.6 753.6L191.5 752.9L190 751.3L188.1 750.6L186.9 751.3L186.2 752.5L183.7 752.4L181.8 751L179.9 751.3L180.9 749.7L180.5 748.4L179.9 747.7L177.4 746.7L174.9 745.8L173.6 745.9L173.3 744.6L172.3 744.4L174.5 743.8L172.6 743.5L171.1 742.6L171.1 741.9M193.2 747.9L195.1 747.4L197 746.3L197.9 746.2L197.6 747.2L195.7 748.6L193.8 748.7L193.2 747.9M196.1 744.1L197.6 745L198.9 746.8L198.2 745.9L197 744.9L196.1 744.1M201 747.8L202.4 749.1L201.8 749.4L201 747.8M203.2 749.7L204.7 750.5M205.1 750.3L206.6 751.1M206.6 751.1L208.1 751.8M207.2 752.5L208.7 753.2M209.1 753.5L210.6 754.2M208 751.3L209.5 752.1M216.3 759.7L216.8 760.7M216.9 760.9L217.5 762M218 762.7L218.5 763.7M219.2 764.1L219.7 765.1M212.8 766.4L214.7 767.4L216.6 769.2L215.3 768.7L213.4 767.4L212.8 766.4M229.6 763L231.1 763.1L231.1 763.9L229.7 763.7L229.6 763M231.5 761.7L233 761.5L232.4 762.1L231.5 761.7M263.3 715.3L264.6 715.8L263.8 716.8L263.3 716.1L263.3 715.3M262.2 714.4L263.2 714.8M260.3 713.5L261.3 713.9M258.4 712.9L259.4 713.2M149.2 769.3L149.8 768.4L152.1 767.1L155.4 766.5L158.4 765.5L159.9 763.6L161.6 762.3L162.9 761.3L164.8 758.8L167 759.2L167.9 759.8L169.2 759.6L169.8 757.9L170.8 756.5L173 756L173 755.1L176.1 756.3L178.4 756.3L177.4 757.9L176.8 759.8L178.7 760.8L181.2 762.1L183.5 763L184.3 760.4L184.6 757.9L184.5 756.6L185.2 754.8L185.6 754.4L186.9 757L187.2 758.9L189.1 759.8L189.4 761.7L190.3 764.6L191.3 765.2L193.6 766.5L194.5 768.7L196.1 770.3L198.2 772.2L199.1 773.5L199.1 775.6L199.6 777.1L198.9 780L197.6 782.3L196.6 783.8L195.3 786.4L195.1 788.2L192.6 788.8L190.4 790.3L188.5 789.3L186.9 789.9L183.7 789.1L182.1 787.6L181.8 786.1L180.5 785.8L180.5 784.8L179.9 782.6L178.7 783.6L177.4 784.8L176.9 784.8L175.5 782.6L174.2 781.4L171.1 780.7L168.5 780.9L164.8 781.7L162.2 782.6L161.6 783.7L157.2 783.8L154.6 785.1L152.1 785L150.8 784.2L151.7 782.9L151.7 781.3L150.8 779.4L150.3 777.2L149.6 775.6L149 774.3L148.7 773.1L149 771.8L149.2 770.6L149.2 769.3M188.4 792.3L190.7 792.8L192.9 792.5L192.9 794.2L191.9 795.5L190.7 796L189.4 795.1L189 793.9L188.4 792.3M223.8 784.3L225.8 785.5L226.4 787.4L227.7 787.2L227.9 788.4L229.8 788.8L231.1 788.5L230.5 790.1L229.2 790.5L229.2 791.4L227.9 793L226.9 793.4L226.4 793L226.8 791.8L226.4 791.2L225.2 790.5L226.2 789.9L226.3 788.2L225.7 786.9L224.2 785.3L223.8 784.3M223.8 792L224.3 793L225.8 792.9L225.7 793.7L225 794.4L223.9 795.6L224.3 796.2L222 796.8L221.6 798.1L221.2 798.9L219.7 799.6L218.2 799.7L215.9 799L215.9 798.1L217.8 796.5L219.7 795.6L221.4 794.9L222.3 793.7L223.1 792.4L223.8 792M92.5 802.8L94.4 803L93.3 803.7L92.5 802.8M22.7 723.7L24.2 724.7M262.7 650.7L268.4 651.4L273.4 652L279.8 652.4L282.3 652.9L287.3 653.6L289.9 653L292.4 653L296.2 652.1L298.7 651.7L302.5 652.4L303.8 653.1L307.6 652.6L312.6 653.6L315.2 654.5L315.2 655.2L321.5 655L324 655.3L324 656.4L325.3 655.2L326.5 654.5L331.6 654.9L336.6 654.5L337.9 654.3L339.2 653L339.2 650.5L341.1 649.9L343 651.1L344.2 652.8L346.1 654.1L349.3 654.9L349.9 655.8L352.4 652.6L356.9 652.8L357.7 654.3L356.9 656.2L355 657.1L351.8 657.2L350.5 658.3L349.3 660L346.8 660L344.2 661.5L341.7 663.8L340.8 666.3L343.6 668.8L346.8 668.8L349.3 669.4L353.1 671L356.5 671.1L356.9 673.9L358.1 675.1L360 675.8L360.9 674.5L360.7 672.6L360 671.7L363.2 670.1L363.8 668.2L361.9 666.3L362.5 664.4L361.9 662L363.2 661.9L367 662.2L369.5 663.1L372 663.8L372.7 665.6L374.6 667.2L377.1 666.5L378.3 664.6L380.9 666.9L382.1 668.2L383.4 670.1L385.9 671.6L387.8 672.6L389.7 674.5L389.7 675.5L386.6 676.1L384.7 677.3L379.6 677.4L376.5 677.4L373.9 678.9L372 680.6L370.8 681.6L373.3 680.2L375.8 678.9L379 678.9L377.7 680.2L378.3 681.4L379 682.3L380.2 682.7L382.1 683L383.4 683.3L384.7 682.7L384 681.4L383.4 683.2L380.2 684.5L377.7 685.9L376.8 684.7L378.3 683.7L379 683.3L375.8 684L373.9 684.9L372 685.6L371.1 686.9L372 688L370.1 688.5L368.2 688.9L367 689.5L367 690.9L365.7 691.8L365.1 693.1L364.4 694.1L364.8 695.6L365.1 696.4L363.6 697L361.9 698L360 699.1L358.1 700.4L357.6 702.3L358.6 704.8L359.3 707.4L358.9 709L357.9 708.9L357.1 707.7L356 705.7L355.8 703.9L354.3 702.9L352.7 703.3L351.2 702.4L349.3 702.6L347.4 702.7L347.8 703.9L346.1 703.9L344.2 703.4L341.9 703.3L340.4 703.9L337.9 705.5L337.4 708L337 710.5L336.9 712.7L337.9 714.9L339 716.6L341.1 717.8L343.6 717.3L345.5 717.1L346.1 715.6L346.4 714.3L348.6 713.7L350.5 713.7L349.9 716.2L349.3 717.5L348.9 718.7L348.4 720.6L349.9 720.9L352.4 720.8L354.3 720.9L355.3 721.9L355 724.4L354.7 726.3L355 727.6L356.2 729.1L358.1 729.7L359.6 729L361.3 729L362.7 729.9L363.2 730.7L365.1 728.8L365.1 727.6L366 726.9L368.2 726.4L369.5 725.4L370.4 726.1L369.8 727.3L370.3 727.1L372 726.3L372 725.6L372.7 726.3L374.2 727.2L375.8 727.6L378.3 728.1L379.6 727.6L382.1 727.3L382.8 728.5L383.7 730.1L385.3 730.7L387.2 732.3L388.5 733.3L391 733.4L392.9 733.8L394.8 734.8L396 735.8L397.3 738.6L397.3 740.2L399.2 741.7L400.5 741.7L403.6 742.7L404.9 744.1L407.4 744.4L409.9 744.5L411.8 745.5L413.7 746.9L415.9 747.4L416.4 749.7L416.4 751.1L415.4 753.1L413.7 754.8L411.8 757.3L411.2 759.8L411 763L410.2 765.5L408.8 768.4L407.4 769.8L405.9 769.9L403.6 770.8L402 771.2L399.8 772.8L399.1 774.3L399.1 776.2L397.9 777.8L396.7 780L394.8 781.5L392.9 783.6L391.1 785L389.5 785L387.2 783.8L386.7 784.6L388.2 785.7L388.8 787L387.8 788.9L385.9 789.8L382.1 790L381.8 792L379.9 792.8L378.3 792.4L378.3 794.2L380 794.6L378.3 795.6L377.7 797.7L375.2 799L377.1 800.5L377.1 801.5L375.2 803.4L373.3 804.7L373.9 807L373.9 807.3L375.2 809.1L378.1 810L376.5 810.5L373.9 810.7L375.4 811.5L372 810.6L369.5 809.5L367 807.8L365.7 805.9L365.1 803.4L365.1 800.9L366.3 799.6L365.1 799L367 796.5L367 795.2L367.2 793.7L367.4 791.4L367.6 788.9L368 787.6L368.9 785.7L369.9 782.6L370.1 778.8L370.4 776.2L371.4 773.1L371.5 770.6L371.8 767.4L371.6 764.1L370.1 762.7L367.6 761.5L365.5 760.2L364.1 758.3L363.1 756L361.7 753.5L360.7 751.2L359.5 749.4L357.9 748.4L357.7 746.5L359 745.1L359.4 744L358.3 743.6L358.4 742.1L359.4 740.2L360.7 739.3L360.9 738.6L362.5 737.4L362.9 735.9L362.5 733.9L362.7 732.4L362 731.8L361.3 730.4L360 729.6L359 730.5L358.8 731.6L357.5 731.2L355.8 730.5L355 730.1L353.3 728.5L352.2 727.6L352.1 726.7L350.5 725.1L349.8 724.3L348 723.9L346.1 723.4L344 722.5L341.9 720.8L340.4 720.4L338.5 721L336 720.2L334.2 719.6L331.6 718.2L329.4 717.2L327.8 716.2L327.2 714.9L327.4 713.7L326 711.5L324 709.3L322.1 708L320.8 706.1L318.7 704.2L317.7 702.3L317 701.3L315.4 700.7L315.5 702.3L317.7 704.8L319.6 707.4L320.8 709.9L322.1 711.5L321.5 711.9L319.6 710.1L318.7 708.2L317 707L315.2 705.7L316.2 704.8L315.2 703.6L313.9 701.9L312.5 699.8L310.9 697.9L308.2 697.2L306.4 694.6L305.7 693.1L304 690.9L303.3 689.8L303.5 687.8L303.8 685.2L303.8 682.5L302.9 679.7L305 679.6L305 678.7L302.5 677L299.4 675.8L298.7 673.9L296.2 672L294.3 670.7L291.8 668.8L289.2 666.9L287.3 666.9L284.2 665.3L281 665L278.5 664.9L276 664L273.4 664.4L271.5 665.3L269 665.9L269 664.4L270.9 663.5L268.4 664.4L266.5 665.9L265.2 667.5L262.7 668.8L260.2 670.1L257.6 670.7L255.1 671.3L252.2 671.8L255.1 670.3L257.6 669.7L260.2 668.2L261.4 666.7L259.5 666.7L256.4 666.7L255.8 665.6L253.2 665.3L251.3 663.8L250.7 663L252 661.9L253.2 661L257 660.6L257 659.3L254.5 659.3L251.3 659.3L248.2 657.9L250.7 657.1L253.2 656.8L255.8 657.2L253.9 655.9L251.3 654.7L250.1 653.9L253.2 653.6L254.5 652.4L258.3 651.5L262.7 650.7M248.9 673.1L250.4 672.9M239.8 675L241.3 674.7M235.4 675.5L236.9 675.3M223.4 674.2L224.9 674M265.2 668.2L267.8 667.5L267.8 668.4L265.9 669.1L265.2 668.2M243.7 660.3L246.9 661L245.6 661.2L243.7 660.3M250.1 664.6L251.1 665L250.1 665.3M214.7 671.1L215.9 671.6M368.2 642L374.6 639.1L382.1 637.5L397.3 636.6L409.9 635.6L420.1 635.2L428.9 635.9L435.2 637.2L439 637.8L445.3 637.8L439 639.7L437.8 641.6L436.5 643.5L437.1 645.4L435.2 646.7L432.7 648.6L432.7 649.9L432.7 651.7L428.9 653L427.6 654.3L422.6 654.7L418.8 656.2L415 657.7L412.5 657.9L409.9 659.3L408.7 661.2L406.8 663.1L405.5 665L403 664.8L399.8 663.8L397.9 661.9L396 660L394.1 658.1L392.9 656.2L393.5 654.3L396 653L392.2 652.4L391.6 651.1L390.4 649.2L388.5 647.3L386.6 645.4L382.1 644.5L375.8 644.8L372 643.8L370.1 642.9L368.2 642M382.8 656.5L380.9 655.5L379.6 654.9L375.8 653.6L373.9 651.7L370.1 650.5L365.7 649.6L361.9 648.7L358.8 647.7L353.1 647.6L348 647.7L346.8 649.9L348 651.7L351.8 652.4L353.7 652.4L356.9 652.6L360.7 652.5L361.9 652.4L365.7 654.5L367.6 655.5L368.2 656.8L367 658.1L362.5 658.7L361.9 659.3L364.4 659.7L368.2 659.6L370.8 661.2L373.3 661.9L377.1 662.6L378.3 661.6L373.9 660.3L379 660.8L377.1 658.7L374.6 657.2L378.3 658.1L380.2 658.7L382.8 656.5M313.9 653.5L317.7 654.1L324 654L327.8 653.4L331.6 653L332.2 652.1L328.4 651.1L327.8 649.2L324 648.3L321.5 648.7L316.4 648.3L312 648.8L310.1 650.5L312 651.7L316.4 652L313.9 653.5M301.9 650L305 650.9L308.2 650.5L311.4 649.2L314.5 648L312 646.9L306.9 646.7L303.1 647.1L302.5 648.8L301.9 650M312.6 645.8L317.7 646.8L321.5 646.4L326.5 646.1L327.2 645L322.7 643.9L317.7 644.5L313.9 644.3L312.6 645.8M331.6 648.8L335.4 650.6L338.5 649.2L337.9 647.8L334.1 647.4L331.6 648.8M339.8 649.7L343 649.9L346.1 648.6L346.1 647.4L340.4 647.3L339.8 648.6L339.8 649.7M334.7 653.6L337.9 654.1L339.8 653.6L338.5 652.5L335.4 652.6L334.7 653.6M344.2 646.4L349.3 646.7L356.9 646.7L359.4 646.3L359.4 645.3L354.3 645L348 645.2L344.2 644.4L339.2 644.2L339.2 645.4L344.2 646.4M346.8 644.3L353.1 644.3L359.4 644.4L361.9 643.5L364.4 642.3L365.7 641L370.8 640L377.1 638.7L382.1 637.2L378.3 636.3L369.5 635.8L359.4 635.9L350.5 636.8L346.8 637.8L350.5 639.1L351.8 640.4L349.3 641.6L350.5 642.9L346.8 644.3M339.2 640L343 642L348.6 641.9L349.9 640.4L345.5 639L340.4 638.5L339.2 640M329.1 641.9L334.1 642.5L336.6 641.3L331.6 641L329.1 641.9M334.1 645.4L337.3 645.8L336.6 644.2L332.8 644.2L334.1 645.4M306.3 644.8L311.4 645.2L313.9 643.8L310.1 642.9L306.3 644.8M351.2 660L354.3 660.8L358.1 660.6L359.1 659.3L356.9 658.1L353.7 657.4L351.2 658.1L351.2 660M359.4 648.6L363.2 648.3L363.2 649.1L359.4 648.6M385.6 680.7L387.2 679.6L387.8 677.7L389.7 675.8L389.7 677.7L392.2 678.3L393.5 679.6L393.5 681.4L392.2 681.7L389.7 681.6L388.5 680.7L385.6 680.7M379 677.8L382.1 678.4L382.4 678.8L379 677.8M298.3 676.6L302.5 677.7L304.4 679.6L303.8 679.6L301.2 678.5L298.3 676.6M292.4 672.6L294.3 673.9L294.9 675.1L293 673.9L292.4 672.6M338.5 645.6L341.7 645.3L342.3 646.2L339.2 646.2L338.5 645.6M336.9 641.5L339.2 641.8L338.5 642.5L336.9 641.5M317 642.4L320.8 642.4L319.6 643.2L317 642.4M317.7 641.4L321.5 641.3L320.8 641.9L317.7 641.4M326.8 642.6L328.4 643.3L327.8 643.5L326.8 642.6M328.4 645.6L329.7 645.9M362.5 654.7L365.1 655L364.4 655.7L362.5 654.7M355 661.4L356.9 661.5L356.5 662.1L355 661.4M359 662L360 662.9M357.1 673.6L358.4 674.1M360 669.6L360.7 670.2M356.9 639.7L361.9 639.4L367 639.6M351.8 641.3L356.9 641.9L361.9 641.5M346.8 638.9L351.8 638.5L356.9 638.1M352.4 647.7L353.4 649.2L352.7 650.7M358.8 649.6L361.9 650.5L365.7 650.2M369.5 651.7L372 652.4L373.3 653M310.1 644.9L312 645.4M330.3 644.4L332.2 644.8M344.2 681.8L346.8 680.4L349.3 679.6L351.8 680.2L353.3 681.7L351.2 682.1L349.3 681.4L346.1 681.8L344.2 681.8M349.5 687.8L351.4 687.1L351.4 685.2L352.4 683L350.5 683.3L349.5 685.2L349.5 687.8M353.7 682.7L356.9 682.7L359.4 684L357.5 684.6L356.5 686.4L355 685.5L355 684L353.7 682.7M355.2 688.1L358.1 688L360.7 686.8L358.8 687L356.2 687.6L355.2 688.1M359.8 686.1L363.8 685.9L364.1 685.1L360.7 685.5L359.8 686.1M302.5 657.4L307.6 658.7L311.4 657.7L310.1 656.3L306.3 656.8L302.5 657.4M312.6 663.8L316.4 663.8L320.2 661.9L322.1 661.5L318.9 662.7L315.2 662.2L312.6 663.8M319.6 666.7L322.7 665.9L325.9 665.8L322.7 666.3L319.6 666.7M330.3 669.4L332.2 667.8L331 667.5L330.3 669.4M335.4 677L338.5 677L337.3 675.1L336.6 672.9L335.4 673.9L336 675.5L335.4 677M353.1 713.2L355.6 711.8L358.1 711.7L360.7 712.5L363.2 713.7L365.1 714.7L366.7 715.3L365.1 715.7L362.5 715.7L361.9 714.7L360.7 713.7L357.5 713L356.9 712.5L355 712.8L353.1 713.2M366.5 717.6L368.2 717.8L368.9 717.3L367.9 715.8L369.5 715.7L372 715.8L373.9 717.2L373.3 717.7L371.4 717.8L370.1 718.5L368.9 718L366.5 717.6M361.5 717.6L364.1 718L363.2 718.4L361.5 717.6M375.6 717.6L377.5 717.7L377.1 718.1L375.6 718.1L375.6 717.6M361.8 709.5L362.5 710.3M362.4 707L363.2 707.7M364.1 710.1L364.8 710.9M367.2 713.9L368 714.7M382.6 727.3L383.4 728.1M382.4 721L383.1 721.8M383 722L383.8 722.8M382.4 720L383.1 720.8M383.4 805.8L385.9 805.7L387.4 806.1L385.9 807L384 806.6L383.4 805.8M412.5 809.1L415 809.5L414.4 810.1L412.5 809.1M344.9 741.2L345.7 741.9M425.1 692.1L426.4 691.9M427.9 693.1L428.6 693.1M439.3 705.1L440 704.8M440.5 705.5L441 705.5M442.6 704.8L443.3 704.2M77.9 766.4L78.4 766.5M75.4 767.4L76 767.6M60.2 755.6L60.5 755.9M73.1 725.1L74.3 724.9M449.5 651.1L450.4 651.1M451.4 662.2L452 662.5M242.4 757.9L243.1 758.2M237 796.2L237.7 796.5M271.3 763L271.9 763.2M5.5 830.5L8.2 829.9L11.2 829.7L13.9 829.8L16.4 829.8L19.4 829.6L22.3 829.5L25.6 829.1L29 830L32.3 829.6L34.8 829.1L37.7 829.8L40.4 829L43.3 828.4L45.9 828.5L48.4 828.6L50.9 827.7L53.7 828.1L56.5 827.3L59.6 826.5L63 825.6L66.3 824.7L69.4 824.1L72.1 823.8L74.5 824.2L77.4 824.7L80.7 825.5L83.8 826.5L87.1 827.3L91 828.9L93.5 830.5L96 829.2L100 828L102.6 827.3L105.3 827.2L107.6 826.5L110.3 826.3L112.9 825.4L115.7 825L118.6 824.7L120.9 825.3L123.4 824.9L126 825L129 824.7L131.9 824.7L134.6 824.3L137.2 824.5L139.8 824.3L142.7 824.7L145.2 824.1L147.9 824.2L150.3 824.2L153.3 824.5L156.1 823.7L158.5 824L161.3 823.8L163.8 823.9L166.6 823.6L169.3 824.5L172.1 824L175 824.9L177.6 824.5L180.6 824.7L183.8 825.6L187.1 826.1L190 826.2L192.5 826.5L195.2 827.5L198.1 827.1L200.5 827.9L202.9 828.1L205.6 828.9L208.4 829.2L211 830L213.3 830.3L216.1 830.8L219.1 831.3L221.4 831.4L217.3 833.5L213 834.6L212 837.7L214.7 838.4L217.3 838.8L214.6 838.6L211.9 839.8L208.9 839.8L207.8 841.9L210.6 843.6L213 844.6L215.6 844.9L218 845.5L220.6 845.2L223.5 846.1L226.5 846L229.7 846.1L232.6 846.5L236.1 847.1L239 847.2L242.1 848.1L245.6 847.5L248.7 848.2L251.7 848.2L254.9 848.1L258.4 849.2L261.3 848.8L264 848.8L266.5 848.4L269.4 848.5L272.4 848.4L274.9 848.8L272 848.4L269.7 847.1L266.5 845L268.6 843L272.3 842.6L276 843L272.9 841.4L269.7 840.9L266 840.6L262.3 839.2L265.4 839L268 838.3L270.8 838.4L273.9 837.7L276.7 837.5L279.3 836.4L282.2 836.2L285.2 836.4L288 835.9L290.6 835.2L293.6 835.8L296 835.9L299 836.2L301.6 834.3L304.3 833.5L307.7 833.8L311.6 834.6L315 834.7L318.6 834.4L321.6 835L324 835.7L326.9 835.6L329.5 834.4L331.9 833.9L335.9 832L339.9 833.9L342.4 833.5L345 833.3L348 834L350.7 833.4L353.2 833.3L356 833.4L358.3 833.1L361.5 833L363.9 832.5L366.5 829.4L369.3 828.3L371.8 827.2L374.3 826.2L377.2 824.6L379.7 823.6L382.5 821.9L386.1 820.7L389.1 819.8L386.5 822.4L383.8 824.2L381.2 825.1L379.8 828.6L383.8 831.2L383.8 833.9L379.8 836.5L377.2 837.9L380 837.9L382.3 838.2L385.4 839.2L387.8 839.2L390.2 839.8L393.4 839.9L395.7 840L398.2 839.7L401.1 840.5L404 840.6L406.4 840.8L409 840.6L411.9 839.8L414.4 840L416.9 839.2L419.6 839L422.3 838.3L425.1 837.9L427.5 837.7L430.3 836.5L433.1 836.3L435.7 835.2L438.3 835L441 833.8L443.7 833.1L446.4 831.8L449 831.5L451.6 831.4L454.3 832L457.1 831.9L460.5 831.2M254 841.1L256 840.2L257.5 841.2L255.5 842L254 841.1M360 830.6L366 828.1L372 825.4M157.9 717.5L159.9 717.5L160.1 719.4L159.2 720.6L159.3 722.1L160.7 722.9L162.2 723.4L162.3 724.9L161 724.4L160.3 723.4L158.8 723.7L157.9 722.9L158.3 722.4L157.2 721.9L156.9 720.2L157.5 719.9L157.7 718.7L157.9 717.5M164.1 728.5L165.1 730.1L165.4 732L165 732.9L164.1 733.8L163.9 732.6L164.2 732L162.5 733L162 731.4L159.9 732L159.9 730.7L161.6 730L162.9 730.1L163.5 729.5L164.1 728.5M162.6 725.1L163.9 725.1L164.4 726.8L163.5 728L163.1 726.6L162.6 725.1M159.7 725.9L161 726.3L161.2 727.6L161.3 729.1L160.3 728.8L160.5 727.6L159.7 727.6L159.7 725.9M153.6 730.1L155.3 728.7L156.5 726.6L156.3 727.8L154.6 729.6L153.6 730.1M157.7 723.9L158.9 724L158.8 725.3L158.2 724.8L157.7 723.9M143.3 739L143.9 738.3L145.8 738.7L146.2 737.4L148.3 736.8L149.6 735.2L150.8 734.5L152.1 732.9L153.1 732L154.3 732.9L156.2 734.2L155.3 735.2L154.3 735.8L154.6 737.7L155.9 739.6L154.4 739.8L154 741.5L152.7 742.7L152.5 744.6L152.1 745.9L150.3 746L150.2 745.1L148.3 745L146.8 745.3L144.9 744.6L144.5 742.7L143.5 741.5L143.3 740.2L143.3 739M125.9 733.8L128.7 734.3L130.2 736L132.3 737.7L133.8 738.6L135.7 740.2L136.7 742.1L137.6 743.8L139.5 745L139.2 748.2L137.6 748.2L134.8 745.9L132.5 742.7L130.6 740.2L130 738.6L128.1 736.7L126.6 734.8L125.9 733.8M138.5 749.4L140.1 748.4L142.6 749.1L145.2 749.1L145.8 748.9L147.9 749.6L150.1 750.6L150.2 751.8L147.1 751.3L144.5 751L142 750.7L140.1 750.2L138.5 749.4M150.8 751.2L151.7 751.3L151.5 752L150.8 751.6L150.8 751.2M152.1 751.3L153 751.5L152.7 752.1L152.1 752L152.1 751.3M153.1 751.5L154.6 751.1L155.9 751.5L155.3 752L153.4 752.2L153.1 751.5M156.9 751.5L158.4 751.3L161 751.2L160.7 751.8L158.4 752.1L156.9 752L156.9 751.5M155.9 752.9L158.2 753.4L157.4 753.9L155.9 752.9M161.6 753.9L163.5 752.5L166 751.5L165.4 752.2L163.5 753.2L162.2 753.9L161.6 753.9M156.9 739.8L158.2 739.2L161 739.7L163.5 738.8L162.6 740.3L161 740.3L158.4 740.2L157.2 741.5L158.4 742.1L161.3 742L159.4 743.3L158.8 743.4L160.1 745L161 745.9L161 747.5L159.7 746.9L159.1 745.9L158.2 744.3L157.5 745.9L157.7 747.8L156.5 747.8L156.5 745.3L155.6 744.3L156.3 742.5L156.9 739.8M166.6 738.3L167.3 739.6L168.2 739L167.3 740.5L167.9 741.9L167 741.2L166.6 739.8L166.6 738.3M167.3 744.6L169.2 744.4L170.8 745L169.8 745.5L167.9 745.3L167.3 744.6M164.8 744.9L166 744.9L165.8 745.7L164.9 745.5L164.8 744.9M171.1 741.9L173 741.4L174.9 741.9L175.5 744L176.1 745L178 743.6L179.9 742.9L183.3 744.1L185.6 744.9L188.1 745.7L189.8 747.2L191.9 748.4L191.3 749.4L192.6 751L194.5 752.9L196 753.9L194.8 754.1L192.6 753.6L191.5 752.9L190 751.3L188.1 750.6L186.9 751.3L186.2 752.5L183.7 752.4L181.8 751L179.9 751.3L180.9 749.7L180.5 748.4L179.9 747.7L177.4 746.7L174.9 745.8L173.6 745.9L173.3 744.6L172.3 744.4L174.5 743.8L172.6 743.5L171.1 742.6L171.1 741.9M193.2 747.9L195.1 747.4L197 746.3L197.9 746.2L197.6 747.2L195.7 748.6L193.8 748.7L193.2 747.9M196.1 744.1L197.6 745L198.9 746.8L198.2 745.9L197 744.9L196.1 744.1M201 747.8L202.4 749.1L201.8 749.4L201 747.8M203.2 749.7L204.7 750.5M205.1 750.3L206.6 751.1M206.6 751.1L208.1 751.8M207.2 752.5L208.7 753.2M209.1 753.5L210.6 754.2M208 751.3L209.5 752.1M216.3 759.7L216.8 760.7M216.9 760.9L217.5 762M218 762.7L218.5 763.7M219.2 764.1L219.7 765.1M212.8 766.4L214.7 767.4L216.6 769.2L215.3 768.7L213.4 767.4L212.8 766.4M229.6 763L231.1 763.1L231.1 763.9L229.7 763.7L229.6 763M231.5 761.7L233 761.5L232.4 762.1L231.5 761.7M263.3 715.3L264.6 715.8L263.8 716.8L263.3 716.1L263.3 715.3M262.2 714.4L263.2 714.8M260.3 713.5L261.3 713.9M258.4 712.9L259.4 713.2M149.2 769.3L149.8 768.4L152.1 767.1L155.4 766.5L158.4 765.5L159.9 763.6L161.6 762.3L162.9 761.3L164.8 758.8L167 759.2L167.9 759.8L169.2 759.6L169.8 757.9L170.8 756.5L173 756L173 755.1L176.1 756.3L178.4 756.3L177.4 757.9L176.8 759.8L178.7 760.8L181.2 762.1L183.5 763L184.3 760.4L184.6 757.9L184.5 756.6L185.2 754.8L185.6 754.4L186.9 757L187.2 758.9L189.1 759.8L189.4 761.7L190.3 764.6L191.3 765.2L193.6 766.5L194.5 768.7L196.1 770.3L198.2 772.2L199.1 773.5L199.1 775.6L199.6 777.1L198.9 780L197.6 782.3L196.6 783.8L195.3 786.4L195.1 788.2L192.6 788.8L190.4 790.3L188.5 789.3L186.9 789.9L183.7 789.1L182.1 787.6L181.8 786.1L180.5 785.8L180.5 784.8L179.9 782.6L178.7 783.6L177.4 784.8L176.9 784.8L175.5 782.6L174.2 781.4L171.1 780.7L168.5 780.9L164.8 781.7L162.2 782.6L161.6 783.7L157.2 783.8L154.6 785.1L152.1 785L150.8 784.2L151.7 782.9L151.7 781.3L150.8 779.4L150.3 777.2L149.6 775.6L149 774.3L148.7 773.1L149 771.8L149.2 770.6L149.2 769.3M188.4 792.3L190.7 792.8L192.9 792.5L192.9 794.2L191.9 795.5L190.7 796L189.4 795.1L189 793.9L188.4 792.3M223.8 784.3L225.8 785.5L226.4 787.4L227.7 787.2L227.9 788.4L229.8 788.8L231.1 788.5L230.5 790.1L229.2 790.5L229.2 791.4L227.9 793L226.9 793.4L226.4 793L226.8 791.8L226.4 791.2L225.2 790.5L226.2 789.9L226.3 788.2L225.7 786.9L224.2 785.3L223.8 784.3M223.8 792L224.3 793L225.8 792.9L225.7 793.7L225 794.4L223.9 795.6L224.3 796.2L222 796.8L221.6 798.1L221.2 798.9L219.7 799.6L218.2 799.7L215.9 799L215.9 798.1L217.8 796.5L219.7 795.6L221.4 794.9L222.3 793.7L223.1 792.4L223.8 792M92.5 802.8L94.4 803L93.3 803.7L92.5 802.8M22.7 723.7L24.2 724.7M262.7 650.7L268.4 651.4L273.4 652L279.8 652.4L282.3 652.9L287.3 653.6L289.9 653L292.4 653L296.2 652.1L298.7 651.7L302.5 652.4L303.8 653.1L307.6 652.6L312.6 653.6L315.2 654.5L315.2 655.2L321.5 655L324 655.3L324 656.4L325.3 655.2L326.5 654.5L331.6 654.9L336.6 654.5L337.9 654.3L339.2 653L339.2 650.5L341.1 649.9L343 651.1L344.2 652.8L346.1 654.1L349.3 654.9L349.9 655.8L352.4 652.6L356.9 652.8L357.7 654.3L356.9 656.2L355 657.1L351.8 657.2L350.5 658.3L349.3 660L346.8 660L344.2 661.5L341.7 663.8L340.8 666.3L343.6 668.8L346.8 668.8L349.3 669.4L353.1 671L356.5 671.1L356.9 673.9L358.1 675.1L360 675.8L360.9 674.5L360.7 672.6L360 671.7L363.2 670.1L363.8 668.2L361.9 666.3L362.5 664.4L361.9 662L363.2 661.9L367 662.2L369.5 663.1L372 663.8L372.7 665.6L374.6 667.2L377.1 666.5L378.3 664.6L380.9 666.9L382.1 668.2L383.4 670.1L385.9 671.6L387.8 672.6L389.7 674.5L389.7 675.5L386.6 676.1L384.7 677.3L379.6 677.4L376.5 677.4L373.9 678.9L372 680.6L370.8 681.6L373.3 680.2L375.8 678.9L379 678.9L377.7 680.2L378.3 681.4L379 682.3L380.2 682.7L382.1 683L383.4 683.3L384.7 682.7L384 681.4L383.4 683.2L380.2 684.5L377.7 685.9L376.8 684.7L378.3 683.7L379 683.3L375.8 684L373.9 684.9L372 685.6L371.1 686.9L372 688L370.1 688.5L368.2 688.9L367 689.5L367 690.9L365.7 691.8L365.1 693.1L364.4 694.1L364.8 695.6L365.1 696.4L363.6 697L361.9 698L360 699.1L358.1 700.4L357.6 702.3L358.6 704.8L359.3 707.4L358.9 709L357.9 708.9L357.1 707.7L356 705.7L355.8 703.9L354.3 702.9L352.7 703.3L351.2 702.4L349.3 702.6L347.4 702.7L347.8 703.9L346.1 703.9L344.2 703.4L341.9 703.3L340.4 703.9L337.9 705.5L337.4 708L337 710.5L336.9 712.7L337.9 714.9L339 716.6L341.1 717.8L343.6 717.3L345.5 717.1L346.1 715.6L346.4 714.3L348.6 713.7L350.5 713.7L349.9 716.2L349.3 717.5L348.9 718.7L348.4 720.6L349.9 720.9L352.4 720.8L354.3 720.9L355.3 721.9L355 724.4L354.7 726.3L355 727.6L356.2 729.1L358.1 729.7L359.6 729L361.3 729L362.7 729.9L363.2 730.7L365.1 728.8L365.1 727.6L366 726.9L368.2 726.4L369.5 725.4L370.4 726.1L369.8 727.3L370.3 727.1L372 726.3L372 725.6L372.7 726.3L374.2 727.2L375.8 727.6L378.3 728.1L379.6 727.6L382.1 727.3L382.8 728.5L383.7 730.1L385.3 730.7L387.2 732.3L388.5 733.3L391 733.4L392.9 733.8L394.8 734.8L396 735.8L397.3 738.6L397.3 740.2L399.2 741.7L400.5 741.7L403.6 742.7L404.9 744.1L407.4 744.4L409.9 744.5L411.8 745.5L413.7 746.9L415.9 747.4L416.4 749.7L416.4 751.1L415.4 753.1L413.7 754.8L411.8 757.3L411.2 759.8L411 763L410.2 765.5L408.8 768.4L407.4 769.8L405.9 769.9L403.6 770.8L402 771.2L399.8 772.8L399.1 774.3L399.1 776.2L397.9 777.8L396.7 780L394.8 781.5L392.9 783.6L391.1 785L389.5 785L387.2 783.8L386.7 784.6L388.2 785.7L388.8 787L387.8 788.9L385.9 789.8L382.1 790L381.8 792L379.9 792.8L378.3 792.4L378.3 794.2L380 794.6L378.3 795.6L377.7 797.7L375.2 799L377.1 800.5L377.1 801.5L375.2 803.4L373.3 804.7L373.9 807L373.9 807.3L375.2 809.1L378.1 810L376.5 810.5L373.9 810.7L375.4 811.5L372 810.6L369.5 809.5L367 807.8L365.7 805.9L365.1 803.4L365.1 800.9L366.3 799.6L365.1 799L367 796.5L367 795.2L367.2 793.7L367.4 791.4L367.6 788.9L368 787.6L368.9 785.7L369.9 782.6L370.1 778.8L370.4 776.2L371.4 773.1L371.5 770.6L371.8 767.4L371.6 764.1L370.1 762.7L367.6 761.5L365.5 760.2L364.1 758.3L363.1 756L361.7 753.5L360.7 751.2L359.5 749.4L357.9 748.4L357.7 746.5L359 745.1L359.4 744L358.3 743.6L358.4 742.1L359.4 740.2L360.7 739.3L360.9 738.6L362.5 737.4L362.9 735.9L362.5 733.9L362.7 732.4L362 731.8L361.3 730.4L360 729.6L359 730.5L358.8 731.6L357.5 731.2L355.8 730.5L355 730.1L353.3 728.5L352.2 727.6L352.1 726.7L350.5 725.1L349.8 724.3L348 723.9L346.1 723.4L344 722.5L341.9 720.8L340.4 720.4L338.5 721L336 720.2L334.2 719.6L331.6 718.2L329.4 717.2L327.8 716.2L327.2 714.9L327.4 713.7L326 711.5L324 709.3L322.1 708L320.8 706.1L318.7 704.2L317.7 702.3L317 701.3L315.4 700.7L315.5 702.3L317.7 704.8L319.6 707.4L320.8 709.9L322.1 711.5L321.5 711.9L319.6 710.1L318.7 708.2L317 707L315.2 705.7L316.2 704.8L315.2 703.6L313.9 701.9L312.5 699.8L310.9 697.9L308.2 697.2L306.4 694.6L305.7 693.1L304 690.9L303.3 689.8L303.5 687.8L303.8 685.2L303.8 682.5L302.9 679.7L305 679.6L305 678.7L302.5 677L299.4 675.8L298.7 673.9L296.2 672L294.3 670.7L291.8 668.8L289.2 666.9L287.3 666.9L284.2 665.3L281 665L278.5 664.9L276 664L273.4 664.4L271.5 665.3L269 665.9L269 664.4L270.9 663.5L268.4 664.4L266.5 665.9L265.2 667.5L262.7 668.8L260.2 670.1L257.6 670.7L255.1 671.3L252.2 671.8L255.1 670.3L257.6 669.7L260.2 668.2L261.4 666.7L259.5 666.7L256.4 666.7L255.8 665.6L253.2 665.3L251.3 663.8L250.7 663L252 661.9L253.2 661L257 660.6L257 659.3L254.5 659.3L251.3 659.3L248.2 657.9L250.7 657.1L253.2 656.8L255.8 657.2L253.9 655.9L251.3 654.7L250.1 653.9L253.2 653.6L254.5 652.4L258.3 651.5L262.7 650.7M248.9 673.1L250.4 672.9M239.8 675L241.3 674.7M235.4 675.5L236.9 675.3M223.4 674.2L224.9 674M265.2 668.2L267.8 667.5L267.8 668.4L265.9 669.1L265.2 668.2M243.7 660.3L246.9 661L245.6 661.2L243.7 660.3M250.1 664.6L251.1 665L250.1 665.3M214.7 671.1L215.9 671.6M368.2 642L374.6 639.1L382.1 637.5L397.3 636.6L409.9 635.6L420.1 635.2L428.9 635.9L435.2 637.2L439 637.8L445.3 637.8L439 639.7L437.8 641.6L436.5 643.5L437.1 645.4L435.2 646.7L432.7 648.6L432.7 649.9L432.7 651.7L428.9 653L427.6 654.3L422.6 654.7L418.8 656.2L415 657.7L412.5 657.9L409.9 659.3L408.7 661.2L406.8 663.1L405.5 665L403 664.8L399.8 663.8L397.9 661.9L396 660L394.1 658.1L392.9 656.2L393.5 654.3L396 653L392.2 652.4L391.6 651.1L390.4 649.2L388.5 647.3L386.6 645.4L382.1 644.5L375.8 644.8L372 643.8L370.1 642.9L368.2 642M382.8 656.5L380.9 655.5L379.6 654.9L375.8 653.6L373.9 651.7L370.1 650.5L365.7 649.6L361.9 648.7L358.8 647.7L353.1 647.6L348 647.7L346.8 649.9L348 651.7L351.8 652.4L353.7 652.4L356.9 652.6L360.7 652.5L361.9 652.4L365.7 654.5L367.6 655.5L368.2 656.8L367 658.1L362.5 658.7L361.9 659.3L364.4 659.7L368.2 659.6L370.8 661.2L373.3 661.9L377.1 662.6L378.3 661.6L373.9 660.3L379 660.8L377.1 658.7L374.6 657.2L378.3 658.1L380.2 658.7L382.8 656.5M313.9 653.5L317.7 654.1L324 654L327.8 653.4L331.6 653L332.2 652.1L328.4 651.1L327.8 649.2L324 648.3L321.5 648.7L316.4 648.3L312 648.8L310.1 650.5L312 651.7L316.4 652L313.9 653.5M301.9 650L305 650.9L308.2 650.5L311.4 649.2L314.5 648L312 646.9L306.9 646.7L303.1 647.1L302.5 648.8L301.9 650M312.6 645.8L317.7 646.8L321.5 646.4L326.5 646.1L327.2 645L322.7 643.9L317.7 644.5L313.9 644.3L312.6 645.8M331.6 648.8L335.4 650.6L338.5 649.2L337.9 647.8L334.1 647.4L331.6 648.8M339.8 649.7L343 649.9L346.1 648.6L346.1 647.4L340.4 647.3L339.8 648.6L339.8 649.7M334.7 653.6L337.9 654.1L339.8 653.6L338.5 652.5L335.4 652.6L334.7 653.6M344.2 646.4L349.3 646.7L356.9 646.7L359.4 646.3L359.4 645.3L354.3 645L348 645.2L344.2 644.4L339.2 644.2L339.2 645.4L344.2 646.4M346.8 644.3L353.1 644.3L359.4 644.4L361.9 643.5L364.4 642.3L365.7 641L370.8 640L377.1 638.7L382.1 637.2L378.3 636.3L369.5 635.8L359.4 635.9L350.5 636.8L346.8 637.8L350.5 639.1L351.8 640.4L349.3 641.6L350.5 642.9L346.8 644.3M339.2 640L343 642L348.6 641.9L349.9 640.4L345.5 639L340.4 638.5L339.2 640M329.1 641.9L334.1 642.5L336.6 641.3L331.6 641L329.1 641.9M334.1 645.4L337.3 645.8L336.6 644.2L332.8 644.2L334.1 645.4M306.3 644.8L311.4 645.2L313.9 643.8L310.1 642.9L306.3 644.8M351.2 660L354.3 660.8L358.1 660.6L359.1 659.3L356.9 658.1L353.7 657.4L351.2 658.1L351.2 660M359.4 648.6L363.2 648.3L363.2 649.1L359.4 648.6M385.6 680.7L387.2 679.6L387.8 677.7L389.7 675.8L389.7 677.7L392.2 678.3L393.5 679.6L393.5 681.4L392.2 681.7L389.7 681.6L388.5 680.7L385.6 680.7M379 677.8L382.1 678.4L382.4 678.8L379 677.8M298.3 676.6L302.5 677.7L304.4 679.6L303.8 679.6L301.2 678.5L298.3 676.6M292.4 672.6L294.3 673.9L294.9 675.1L293 673.9L292.4 672.6M338.5 645.6L341.7 645.3L342.3 646.2L339.2 646.2L338.5 645.6M336.9 641.5L339.2 641.8L338.5 642.5L336.9 641.5M317 642.4L320.8 642.4L319.6 643.2L317 642.4M317.7 641.4L321.5 641.3L320.8 641.9L317.7 641.4M326.8 642.6L328.4 643.3L327.8 643.5L326.8 642.6M328.4 645.6L329.7 645.9M362.5 654.7L365.1 655L364.4 655.7L362.5 654.7M355 661.4L356.9 661.5L356.5 662.1L355 661.4M359 662L360 662.9M357.1 673.6L358.4 674.1M360 669.6L360.7 670.2M356.9 639.7L361.9 639.4L367 639.6M351.8 641.3L356.9 641.9L361.9 641.5M346.8 638.9L351.8 638.5L356.9 638.1M352.4 647.7L353.4 649.2L352.7 650.7M358.8 649.6L361.9 650.5L365.7 650.2M369.5 651.7L372 652.4L373.3 653M310.1 644.9L312 645.4M330.3 644.4L332.2 644.8M344.2 681.8L346.8 680.4L349.3 679.6L351.8 680.2L353.3 681.7L351.2 682.1L349.3 681.4L346.1 681.8L344.2 681.8M349.5 687.8L351.4 687.1L351.4 685.2L352.4 683L350.5 683.3L349.5 685.2L349.5 687.8M353.7 682.7L356.9 682.7L359.4 684L357.5 684.6L356.5 686.4L355 685.5L355 684L353.7 682.7M355.2 688.1L358.1 688L360.7 686.8L358.8 687L356.2 687.6L355.2 688.1M359.8 686.1L363.8 685.9L364.1 685.1L360.7 685.5L359.8 686.1M302.5 657.4L307.6 658.7L311.4 657.7L310.1 656.3L306.3 656.8L302.5 657.4M312.6 663.8L316.4 663.8L320.2 661.9L322.1 661.5L318.9 662.7L315.2 662.2L312.6 663.8M319.6 666.7L322.7 665.9L325.9 665.8L322.7 666.3L319.6 666.7M330.3 669.4L332.2 667.8L331 667.5L330.3 669.4M335.4 677L338.5 677L337.3 675.1L336.6 672.9L335.4 673.9L336 675.5L335.4 677M353.1 713.2L355.6 711.8L358.1 711.7L360.7 712.5L363.2 713.7L365.1 714.7L366.7 715.3L365.1 715.7L362.5 715.7L361.9 714.7L360.7 713.7L357.5 713L356.9 712.5L355 712.8L353.1 713.2M366.5 717.6L368.2 717.8L368.9 717.3L367.9 715.8L369.5 715.7L372 715.8L373.9 717.2L373.3 717.7L371.4 717.8L370.1 718.5L368.9 718L366.5 717.6M361.5 717.6L364.1 718L363.2 718.4L361.5 717.6M375.6 717.6L377.5 717.7L377.1 718.1L375.6 718.1L375.6 717.6M361.8 709.5L362.5 710.3M362.4 707L363.2 707.7M364.1 710.1L364.8 710.9M367.2 713.9L368 714.7M382.6 727.3L383.4 728.1M382.4 721L383.1 721.8M383 722L383.8 722.8M382.4 720L383.1 720.8M383.4 805.8L385.9 805.7L387.4 806.1L385.9 807L384 806.6L383.4 805.8M412.5 809.1L415 809.5L414.4 810.1L412.5 809.1M344.9 741.2L345.7 741.9M425.1 692.1L426.4 691.9M427.9 693.1L428.6 693.1M439.3 705.1L440 704.8M440.5 705.5L441 705.5M442.6 704.8L443.3 704.2M77.9 766.4L78.4 766.5M75.4 767.4L76 767.6M60.2 755.6L60.5 755.9M73.1 725.1L74.3 724.9M449.5 651.1L450.4 651.1M451.4 662.2L452 662.5M242.4 757.9L243.1 758.2M237 796.2L237.7 796.5M271.3 763L271.9 763.2M5.5 830.5L8.2 829.9L11.2 829.7L13.9 829.8L16.4 829.8L19.4 829.6L22.3 829.5L25.6 829.1L29 830L32.3 829.6L34.8 829.1L37.7 829.8L40.4 829L43.3 828.4L45.9 828.5L48.4 828.6L50.9 827.7L53.7 828.1L56.5 827.3L59.6 826.5L63 825.6L66.3 824.7L69.4 824.1L72.1 823.8L74.5 824.2L77.4 824.7L80.7 825.5L83.8 826.5L87.1 827.3L91 828.9L93.5 830.5L96 829.2L100 828L102.6 827.3L105.3 827.2L107.6 826.5L110.3 826.3L112.9 825.4L115.7 825L118.6 824.7L120.9 825.3L123.4 824.9L126 825L129 824.7L131.9 824.7L134.6 824.3L137.2 824.5L139.8 824.3L142.7 824.7L145.2 824.1L147.9 824.2L150.3 824.2L153.3 824.5L156.1 823.7L158.5 824L161.3 823.8L163.8 823.9L166.6 823.6L169.3 824.5L172.1 824L175 824.9L177.6 824.5L180.6 824.7L183.8 825.6L187.1 826.1L190 826.2L192.5 826.5L195.2 827.5L198.1 827.1L200.5 827.9L202.9 828.1L205.6 828.9L208.4 829.2L211 830L213.3 830.3L216.1 830.8L219.1 831.3L221.4 831.4L217.3 833.5L213 834.6L212 837.7L214.7 838.4L217.3 838.8L214.6 838.6L211.9 839.8L208.9 839.8L207.8 841.9L210.6 843.6L213 844.6L215.6 844.9L218 845.5L220.6 845.2L223.5 846.1L226.5 846L229.7 846.1L232.6 846.5L236.1 847.1L239 847.2L242.1 848.1L245.6 847.5L248.7 848.2L251.7 848.2L254.9 848.1L258.4 849.2L261.3 848.8L264 848.8L266.5 848.4L269.4 848.5L272.4 848.4L274.9 848.8L272 848.4L269.7 847.1L266.5 845L268.6 843L272.3 842.6L276 843L272.9 841.4L269.7 840.9L266 840.6L262.3 839.2L265.4 839L268 838.3L270.8 838.4L273.9 837.7L276.7 837.5L279.3 836.4L282.2 836.2L285.2 836.4L288 835.9L290.6 835.2L293.6 835.8L296 835.9L299 836.2L301.6 834.3L304.3 833.5L307.7 833.8L311.6 834.6L315 834.7L318.6 834.4L321.6 835L324 835.7L326.9 835.6L329.5 834.4L331.9 833.9L335.9 832L339.9 833.9L342.4 833.5L345 833.3L348 834L350.7 833.4L353.2 833.3L356 833.4L358.3 833.1L361.5 833L363.9 832.5L366.5 829.4L369.3 828.3L371.8 827.2L374.3 826.2L377.2 824.6L379.7 823.6L382.5 821.9L386.1 820.7L389.1 819.8L386.5 822.4L383.8 824.2L381.2 825.1L379.8 828.6L383.8 831.2L383.8 833.9L379.8 836.5L377.2 837.9L380 837.9L382.3 838.2L385.4 839.2L387.8 839.2L390.2 839.8L393.4 839.9L395.7 840L398.2 839.7L401.1 840.5L404 840.6L406.4 840.8L409 840.6L411.9 839.8L414.4 840L416.9 839.2L419.6 839L422.3 838.3L425.1 837.9L427.5 837.7L430.3 836.5L433.1 836.3L435.7 835.2L438.3 835L441 833.8L443.7 833.1L446.4 831.8L449 831.5L451.6 831.4L454.3 832L457.1 831.9L460.5 831.2M254 841.1L256 840.2L257.5 841.2L255.5 842L254 841.1M360 830.6L366 828.1L372 825.4" fill="none" stroke="#000" stroke-width="0.7" stroke-linejoin="round"/>
</g>
<rect x="5.5" y="53.5" width="454.9" height="227.5" fill="none" stroke="#000" stroke-opacity="0.55" stroke-width="1"/>
<rect x="5.5" y="340.3" width="454.9" height="227.5" fill="none" stroke="#000" stroke-opacity="0.55" stroke-width="1"/>
<rect x="5.5" y="627.1" width="454.9" height="227.5" fill="none" stroke="#000" stroke-opacity="0.55" stroke-width="1"/>
<g font-family="'Liberation Sans', Arial, Helvetica, sans-serif" fill="#000">
<rect x="525.1" y="97.1" width="20.5" height="11.2" fill="#FF1493" stroke="#000" stroke-opacity="0.8" stroke-width="0.7"/>
<rect x="525.1" y="108.3" width="20.5" height="11.2" fill="#FFB6C1" stroke="#000" stroke-opacity="0.8" stroke-width="0.7"/>
<rect x="525.1" y="119.6" width="20.5" height="11.2" fill="#B22222" stroke="#000" stroke-opacity="0.8" stroke-width="0.7"/>
<rect x="525.1" y="130.8" width="20.5" height="11.2" fill="#FF4500" stroke="#000" stroke-opacity="0.8" stroke-width="0.7"/>
<rect x="525.1" y="142.1" width="20.5" height="11.2" fill="#FFA500" stroke="#000" stroke-opacity="0.8" stroke-width="0.7"/>
<rect x="525.1" y="153.3" width="20.5" height="11.2" fill="#FFE100" stroke="#000" stroke-opacity="0.8" stroke-width="0.7"/>
<rect x="525.1" y="164.5" width="20.5" height="11.2" fill="#DEB887" stroke="#000" stroke-opacity="0.8" stroke-width="0.7"/>
<rect x="525.1" y="175.8" width="20.5" height="11.2" fill="#F5E6BE" stroke="#000" stroke-opacity="0.8" stroke-width="0.7"/>
<rect x="525.1" y="187" width="20.5" height="11.2" fill="#9ABE32" stroke="#000" stroke-opacity="0.8" stroke-width="0.7"/>
<rect x="525.1" y="198.2" width="20.5" height="11.2" fill="#BEF064" stroke="#000" stroke-opacity="0.8" stroke-width="0.7"/>
<rect x="525.1" y="209.5" width="20.5" height="11.2" fill="#20B2AA" stroke="#000" stroke-opacity="0.8" stroke-width="0.7"/>
<rect x="525.1" y="220.7" width="20.5" height="11.2" fill="#B0E0E6" stroke="#000" stroke-opacity="0.8" stroke-width="0.7"/>
<rect x="525.1" y="232" width="20.5" height="11.2" fill="#789BF2" stroke="#000" stroke-opacity="0.8" stroke-width="0.7"/>
<rect x="525.1" y="243.2" width="20.5" height="11.2" fill="#4169E1" stroke="#000" stroke-opacity="0.8" stroke-width="0.7"/>
<rect x="525.1" y="254.4" width="20.5" height="11.2" fill="#0000C8" stroke="#000" stroke-opacity="0.8" stroke-width="0.7"/>
<rect x="525.1" y="265.7" width="20.5" height="11.2" fill="#9370DB" stroke="#000" stroke-opacity="0.8" stroke-width="0.7"/>
<text x="561.3" y="111.8" font-size="9.9" text-anchor="middle">232</text>
<text x="561.3" y="123.1" font-size="9.9" text-anchor="middle">229</text>
<text x="561.3" y="134.3" font-size="9.9" text-anchor="middle">226</text>
<text x="561.3" y="145.6" font-size="9.9" text-anchor="middle">223</text>
<text x="561.3" y="156.8" font-size="9.9" text-anchor="middle">220</text>
<text x="561.3" y="168" font-size="9.9" text-anchor="middle">217</text>
<text x="561.3" y="179.3" font-size="9.9" text-anchor="middle">214</text>
<text x="561.3" y="190.5" font-size="9.9" text-anchor="middle">211</text>
<text x="561.3" y="201.7" font-size="9.9" text-anchor="middle">208</text>
<text x="561.3" y="213" font-size="9.9" text-anchor="middle">205</text>
<text x="561.3" y="224.2" font-size="9.9" text-anchor="middle">202</text>
<text x="561.3" y="235.5" font-size="9.9" text-anchor="middle">199</text>
<text x="561.3" y="246.7" font-size="9.9" text-anchor="middle">196</text>
<text x="561.3" y="257.9" font-size="9.9" text-anchor="middle">193</text>
<text x="561.3" y="269.2" font-size="9.9" text-anchor="middle">190</text>
<rect x="525.1" y="383.9" width="20.5" height="11.2" fill="#FF1493" stroke="#000" stroke-opacity="0.8" stroke-width="0.7"/>
<rect x="525.1" y="395.1" width="20.5" height="11.2" fill="#FFB6C1" stroke="#000" stroke-opacity="0.8" stroke-width="0.7"/>
<rect x="525.1" y="406.4" width="20.5" height="11.2" fill="#B22222" stroke="#000" stroke-opacity="0.8" stroke-width="0.7"/>
<rect x="525.1" y="417.6" width="20.5" height="11.2" fill="#FF4500" stroke="#000" stroke-opacity="0.8" stroke-width="0.7"/>
<rect x="525.1" y="428.8" width="20.5" height="11.2" fill="#FFA500" stroke="#000" stroke-opacity="0.8" stroke-width="0.7"/>
<rect x="525.1" y="440.1" width="20.5" height="11.2" fill="#FFE100" stroke="#000" stroke-opacity="0.8" stroke-width="0.7"/>
<rect x="525.1" y="451.3" width="20.5" height="11.2" fill="#DEB887" stroke="#000" stroke-opacity="0.8" stroke-width="0.7"/>
<rect x="525.1" y="462.6" width="20.5" height="11.2" fill="#F5E6BE" stroke="#000" stroke-opacity="0.8" stroke-width="0.7"/>
<rect x="525.1" y="473.8" width="20.5" height="11.2" fill="#9ABE32" stroke="#000" stroke-opacity="0.8" stroke-width="0.7"/>
<rect x="525.1" y="485" width="20.5" height="11.2" fill="#BEF064" stroke="#000" stroke-opacity="0.8" stroke-width="0.7"/>
<rect x="525.1" y="496.3" width="20.5" height="11.2" fill="#20B2AA" stroke="#000" stroke-opacity="0.8" stroke-width="0.7"/>
<rect x="525.1" y="507.5" width="20.5" height="11.2" fill="#B0E0E6" stroke="#000" stroke-opacity="0.8" stroke-width="0.7"/>
<rect x="525.1" y="518.8" width="20.5" height="11.2" fill="#789BF2" stroke="#000" stroke-opacity="0.8" stroke-width="0.7"/>
<rect x="525.1" y="530" width="20.5" height="11.2" fill="#4169E1" stroke="#000" stroke-opacity="0.8" stroke-width="0.7"/>
<rect x="525.1" y="541.2" width="20.5" height="11.2" fill="#0000C8" stroke="#000" stroke-opacity="0.8" stroke-width="0.7"/>
<rect x="525.1" y="552.5" width="20.5" height="11.2" fill="#9370DB" stroke="#000" stroke-opacity="0.8" stroke-width="0.7"/>
<text x="561.3" y="398.6" font-size="9.9" text-anchor="middle">232</text>
<text x="561.3" y="409.9" font-size="9.9" text-anchor="middle">229</text>
<text x="561.3" y="421.1" font-size="9.9" text-anchor="middle">226</text>
<text x="561.3" y="432.3" font-size="9.9" text-anchor="middle">223</text>
<text x="561.3" y="443.6" font-size="9.9" text-anchor="middle">220</text>
<text x="561.3" y="454.8" font-size="9.9" text-anchor="middle">217</text>
<text x="561.3" y="466.1" font-size="9.9" text-anchor="middle">214</text>
<text x="561.3" y="477.3" font-size="9.9" text-anchor="middle">211</text>
<text x="561.3" y="488.5" font-size="9.9" text-anchor="middle">208</text>
<text x="561.3" y="499.8" font-size="9.9" text-anchor="middle">205</text>
<text x="561.3" y="511" font-size="9.9" text-anchor="middle">202</text>
<text x="561.3" y="522.2" font-size="9.9" text-anchor="middle">199</text>
<text x="561.3" y="533.5" font-size="9.9" text-anchor="middle">196</text>
<text x="561.3" y="544.7" font-size="9.9" text-anchor="middle">193</text>
<text x="561.3" y="556" font-size="9.9" text-anchor="middle">190</text>
<rect x="520.9" y="670.1" width="18.9" height="11.3" fill="#FF1493" stroke="#000" stroke-opacity="0.8" stroke-width="0.7"/>
<rect x="520.9" y="681.4" width="18.9" height="11.3" fill="#FFB6C1" stroke="#000" stroke-opacity="0.8" stroke-width="0.7"/>
<rect x="520.9" y="692.6" width="18.9" height="11.3" fill="#B22222" stroke="#000" stroke-opacity="0.8" stroke-width="0.7"/>
<rect x="520.9" y="703.9" width="18.9" height="11.3" fill="#FF4500" stroke="#000" stroke-opacity="0.8" stroke-width="0.7"/>
<rect x="520.9" y="715.2" width="18.9" height="11.3" fill="#FFA500" stroke="#000" stroke-opacity="0.8" stroke-width="0.7"/>
<rect x="520.9" y="726.4" width="18.9" height="11.3" fill="#FFE100" stroke="#000" stroke-opacity="0.8" stroke-width="0.7"/>
<rect x="520.9" y="737.7" width="18.9" height="11.3" fill="#DEB887" stroke="#000" stroke-opacity="0.8" stroke-width="0.7"/>
<rect x="520.9" y="749" width="18.9" height="11.3" fill="#F5E6BE" stroke="#000" stroke-opacity="0.8" stroke-width="0.7"/>
<rect x="520.9" y="760.2" width="18.9" height="11.3" fill="#9ABE32" stroke="#000" stroke-opacity="0.8" stroke-width="0.7"/>
<rect x="520.9" y="771.5" width="18.9" height="11.3" fill="#BEF064" stroke="#000" stroke-opacity="0.8" stroke-width="0.7"/>
<rect x="520.9" y="782.8" width="18.9" height="11.3" fill="#20B2AA" stroke="#000" stroke-opacity="0.8" stroke-width="0.7"/>
<rect x="520.9" y="794.1" width="18.9" height="11.3" fill="#B0E0E6" stroke="#000" stroke-opacity="0.8" stroke-width="0.7"/>
<rect x="520.9" y="805.3" width="18.9" height="11.3" fill="#789BF2" stroke="#000" stroke-opacity="0.8" stroke-width="0.7"/>
<rect x="520.9" y="816.6" width="18.9" height="11.3" fill="#4169E1" stroke="#000" stroke-opacity="0.8" stroke-width="0.7"/>
<rect x="520.9" y="827.9" width="18.9" height="11.3" fill="#0000C8" stroke="#000" stroke-opacity="0.8" stroke-width="0.7"/>
<rect x="520.9" y="839.1" width="18.9" height="11.3" fill="#9370DB" stroke="#000" stroke-opacity="0.8" stroke-width="0.7"/>
<text x="554" y="684.9" font-size="9.9" text-anchor="middle">10</text>
<text x="554" y="696.1" font-size="9.9" text-anchor="middle">8</text>
<text x="554" y="707.4" font-size="9.9" text-anchor="middle">6</text>
<text x="554" y="718.7" font-size="9.9" text-anchor="middle">4</text>
<text x="554" y="729.9" font-size="9.9" text-anchor="middle">3</text>
<text x="554" y="741.2" font-size="9.9" text-anchor="middle">2</text>
<text x="554" y="752.5" font-size="9.9" text-anchor="middle">1</text>
<text x="554" y="763.8" font-size="9.9" text-anchor="middle">0</text>
<text x="554" y="775" font-size="9.9" text-anchor="middle">-1</text>
<text x="554" y="786.3" font-size="9.9" text-anchor="middle">-2</text>
<text x="554" y="797.6" font-size="9.9" text-anchor="middle">-3</text>
<text x="554" y="808.8" font-size="9.9" text-anchor="middle">-4</text>
<text x="554" y="820.1" font-size="9.9" text-anchor="middle">-6</text>
<text x="554" y="831.4" font-size="9.9" text-anchor="middle">-8</text>
<text x="554" y="842.6" font-size="9.9" text-anchor="middle">-10</text>
<text x="233.2" y="17" font-size="15.7" text-anchor="middle" font-weight="normal" xml:space="preserve">f1850c5_t6 (yrs 2-3)</text>
<text x="5" y="39.2" font-size="12.5" text-anchor="start" font-weight="normal" xml:space="preserve">200 mb Temp</text>
<text x="233" y="42" font-size="12.5" text-anchor="middle" font-weight="normal" xml:space="preserve">mean= 215.89</text>
<text x="461" y="42" font-size="12.5" text-anchor="end" font-weight="normal" xml:space="preserve">K</text>
<text x="536.5" y="34.8" font-size="25.8" text-anchor="middle" font-weight="bold" xml:space="preserve">ANN</text>
<text x="478.6" y="78.4" font-size="11.2" text-anchor="start" font-weight="normal" xml:space="preserve">Min = 205.43 Max = 221.00</text>
<text x="233" y="303.8" font-size="15.7" text-anchor="middle" font-weight="normal" xml:space="preserve">intrepid-run6 (yrs 10)</text>
<text x="5" y="326" font-size="12.5" text-anchor="start" font-weight="normal" xml:space="preserve">200 mb Temp</text>
<text x="233" y="328.8" font-size="12.5" text-anchor="middle" font-weight="normal" xml:space="preserve">mean= 215.55</text>
<text x="461" y="328.8" font-size="12.5" text-anchor="end" font-weight="normal" xml:space="preserve">K</text>
<text x="478.6" y="365.2" font-size="11.2" text-anchor="start" font-weight="normal" xml:space="preserve">Min = 205.90 Max = 219.89</text>
<text x="233" y="590.6" font-size="15.7" text-anchor="middle" font-weight="normal" xml:space="preserve">f1850c5_t6 - intrepid-run6</text>
<text x="5" y="614.9" font-size="12.5" text-anchor="start" font-weight="normal" xml:space="preserve">mean =   0.33</text>
<text x="233" y="614.9" font-size="12.5" text-anchor="middle" font-weight="normal" xml:space="preserve">rmse =   0.75</text>
<text x="461" y="615.6" font-size="12.5" text-anchor="end" font-weight="normal" xml:space="preserve">K</text>
<text x="478.6" y="652" font-size="11.2" text-anchor="start" font-weight="normal" xml:space="preserve">Min =  -2.46 Max =   1.76</text>
</g>
</svg>
</body></html>
